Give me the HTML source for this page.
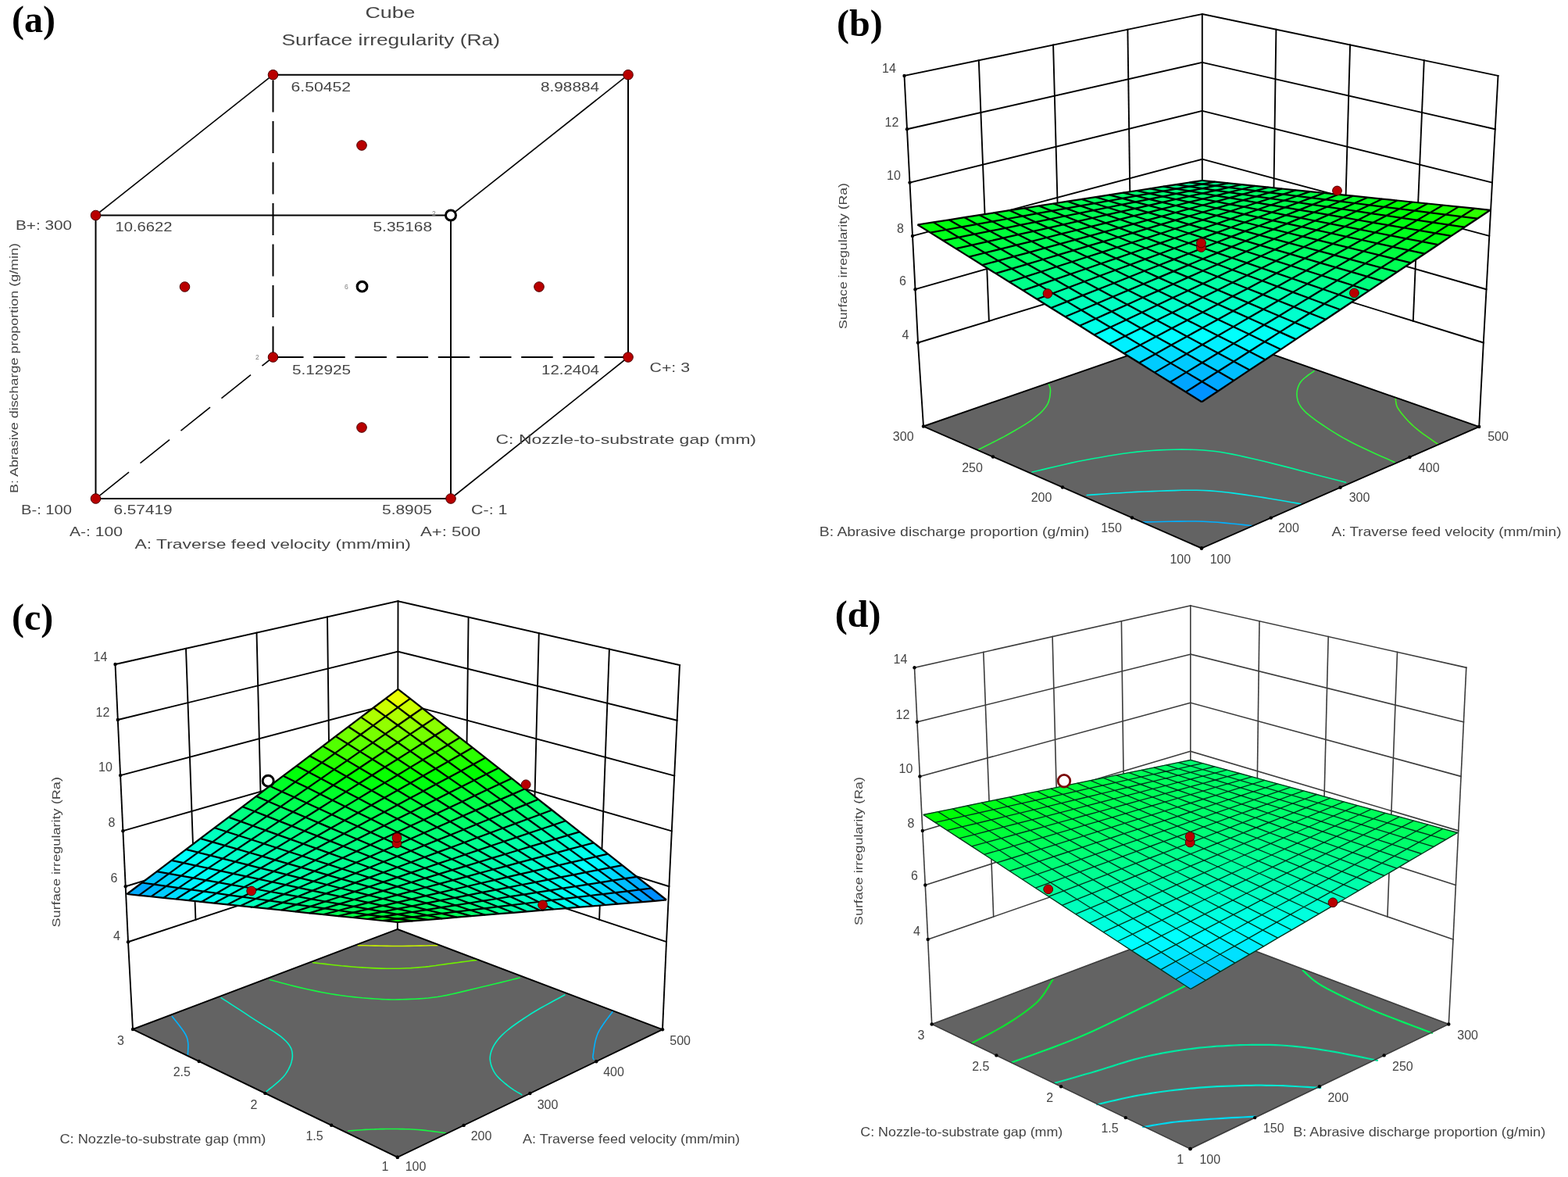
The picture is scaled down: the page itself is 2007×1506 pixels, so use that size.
<!DOCTYPE html>
<html lang="en"><head><meta charset="utf-8"><title>Surface irregularity (Ra) response plots</title>
<style>
html,body{margin:0;padding:0;background:#fff;}
body{width:2007px;height:1506px;overflow:hidden;}
svg{display:block;}
text{font-family:"Liberation Sans",sans-serif;}
text.s{font-family:"Liberation Serif",serif;font-weight:bold;}
</style></head><body>
<svg width="2007" height="1506" viewBox="0 0 2007 1506" role="img" aria-label="Cube plot and 3D response surfaces of surface irregularity (Ra)">
<rect width="2007" height="1506" fill="#fff"/>
<g id="pa">
<g stroke-linecap="butt">
<line x1="349.5" y1="102.5" x2="349.5" y2="457" stroke="#000" stroke-width="2" stroke-dasharray="41 11.5"/>
<line x1="348" y1="457" x2="804" y2="457" stroke="#000" stroke-width="2" stroke-dasharray="40.5 12.7"/>
<line x1="122.5" y1="638" x2="349.5" y2="457" stroke="#000" stroke-width="1.6" stroke-dasharray="48 18.5" stroke-dashoffset="-6.4"/>
<polygon points="122.5,275.5 577,275.5 577,638 122.5,638" fill="none" stroke="#000" stroke-width="2" />
<line x1="349.5" y1="95.7" x2="804" y2="95.7" stroke="#000" stroke-width="2" />
<line x1="804" y1="95.7" x2="804" y2="457" stroke="#000" stroke-width="2" />
<line x1="122.5" y1="275.5" x2="349.5" y2="95.7" stroke="#000" stroke-width="1.6" />
<line x1="577" y1="275.5" x2="804" y2="95.7" stroke="#000" stroke-width="1.6" />
<line x1="577" y1="638" x2="804" y2="457" stroke="#000" stroke-width="1.6" />
</g>
<circle cx="122.5" cy="275.5" r="6.3" fill="#b80000" stroke="#4a0000" stroke-width="1"/>
<circle cx="122.5" cy="638" r="6.3" fill="#b80000" stroke="#4a0000" stroke-width="1"/>
<circle cx="577" cy="638" r="6.3" fill="#b80000" stroke="#4a0000" stroke-width="1"/>
<circle cx="349.5" cy="95.7" r="6.3" fill="#b80000" stroke="#4a0000" stroke-width="1"/>
<circle cx="804" cy="95.7" r="6.3" fill="#b80000" stroke="#4a0000" stroke-width="1"/>
<circle cx="349.5" cy="457" r="6.3" fill="#b80000" stroke="#4a0000" stroke-width="1"/>
<circle cx="804" cy="457" r="6.3" fill="#b80000" stroke="#4a0000" stroke-width="1"/>
<circle cx="236.5" cy="367" r="6.3" fill="#b80000" stroke="#4a0000" stroke-width="1"/>
<circle cx="463" cy="186" r="6.3" fill="#b80000" stroke="#4a0000" stroke-width="1"/>
<circle cx="463" cy="547" r="6.3" fill="#b80000" stroke="#4a0000" stroke-width="1"/>
<circle cx="690" cy="367" r="6.3" fill="#b80000" stroke="#4a0000" stroke-width="1"/>
<circle cx="577" cy="275.5" r="6.5" fill="#fff" stroke="#000" stroke-width="3"/>
<circle cx="463.5" cy="366.7" r="6.3" fill="#fff" stroke="#000" stroke-width="3.2"/>
<text x="553" y="276" font-size="8.5" fill="#808080" >2</text>
<text x="441" y="369.5" font-size="8.5" fill="#808080" >6</text>
<text x="327" y="459.5" font-size="8.5" fill="#808080" >2</text>
<text x="467.5" y="22.5" font-size="20" fill="#454545" textLength="64" lengthAdjust="spacingAndGlyphs" >Cube</text>
<text x="360.5" y="58" font-size="20.5" fill="#454545" textLength="279.5" lengthAdjust="spacingAndGlyphs" >Surface irregularity (Ra)</text>
<text x="372.5" y="117" font-size="17" fill="#454545" textLength="76.5" lengthAdjust="spacingAndGlyphs" >6.50452</text>
<text x="692" y="117" font-size="17" fill="#454545" textLength="75" lengthAdjust="spacingAndGlyphs" >8.98884</text>
<text x="147.5" y="296.3" font-size="17" fill="#454545" textLength="73" lengthAdjust="spacingAndGlyphs" >10.6622</text>
<text x="477.5" y="296.3" font-size="17" fill="#454545" textLength="75.5" lengthAdjust="spacingAndGlyphs" >5.35168</text>
<text x="374" y="478.5" font-size="17" fill="#454545" textLength="75" lengthAdjust="spacingAndGlyphs" >5.12925</text>
<text x="693" y="478.5" font-size="17" fill="#454545" textLength="74" lengthAdjust="spacingAndGlyphs" >12.2404</text>
<text x="145.5" y="657.5" font-size="17" fill="#454545" textLength="75" lengthAdjust="spacingAndGlyphs" >6.57419</text>
<text x="489" y="657.5" font-size="17" fill="#454545" textLength="64" lengthAdjust="spacingAndGlyphs" >5.8905</text>
<text x="20" y="294" font-size="17" fill="#454545" textLength="72" lengthAdjust="spacingAndGlyphs" >B+: 300</text>
<text x="27" y="657.5" font-size="17" fill="#454545" textLength="65" lengthAdjust="spacingAndGlyphs" >B-: 100</text>
<text x="89" y="686" font-size="17" fill="#454545" textLength="68" lengthAdjust="spacingAndGlyphs" >A-: 100</text>
<text x="538" y="686" font-size="17" fill="#454545" textLength="77" lengthAdjust="spacingAndGlyphs" >A+: 500</text>
<text x="603" y="657.5" font-size="17" fill="#454545" textLength="46.5" lengthAdjust="spacingAndGlyphs" >C-: 1</text>
<text x="831.5" y="476" font-size="17" fill="#454545" textLength="51.5" lengthAdjust="spacingAndGlyphs" >C+: 3</text>
<text x="172.5" y="701.5" font-size="17" fill="#454545" textLength="353.5" lengthAdjust="spacingAndGlyphs" >A: Traverse feed velocity (mm/min)</text>
<text x="634.5" y="567.5" font-size="17" fill="#454545" textLength="333.5" lengthAdjust="spacingAndGlyphs" >C: Nozzle-to-substrate gap (mm)</text>
<text x="22.5" y="631" font-size="15.5" fill="#454545" textLength="320" lengthAdjust="spacingAndGlyphs" transform="rotate(-90 22.5 631)" >B: Abrasive discharge proportion (g/min)</text>
<text x="15" y="41" font-size="48" fill="#000" class="s" >(a)</text>
</g>
<g id="pb">
<polygon points="1182,545.5 1538.8,422 1893.2,546 1538,701.5" fill="#636363" stroke="none" stroke-width="0" />
<g fill="none" stroke-width="1.6" stroke-linecap="round">
<polyline points="1342.5,491.5 1342.7,492.2 1343,493 1343.4,494 1343.8,495.2 1344.1,496.4 1344.4,497.8 1344.5,499.4 1344.5,501 1344.3,502.8 1344.1,504.8 1343.9,507 1343.5,509.2 1342.9,511.6 1342.2,513.9 1341.2,516.3 1340,518.5 1338.5,520.7 1336.9,522.8 1335,525 1333,527.1 1330.7,529.3 1328.2,531.4 1325.5,533.7 1322.5,536 1319.2,538.4 1315.5,540.8 1311.6,543.3 1307.5,545.9 1303.2,548.4 1298.8,551 1294.4,553.5 1290,556 1285.3,558.6 1280.1,561.3 1274.7,564.1 1269.2,566.9 1264,569.5 1259.4,571.8 1255.4,573.8 1252.5,575.2" stroke="#2cf23a"/>
<polyline points="1682,474.8 1680.6,475.8 1678.7,477.1 1676.3,478.7 1673.8,480.5 1671.2,482.5 1668.8,484.5 1666.7,486.5 1665,488.5 1663.7,490.5 1662.6,492.6 1661.7,494.8 1661,497 1660.4,499.3 1660.1,501.5 1659.9,503.8 1660,506 1660.2,508.2 1660.6,510.3 1661.1,512.5 1661.9,514.6 1662.9,516.8 1664.1,518.9 1665.6,521.2 1667.5,523.5 1669.7,525.9 1672.2,528.3 1675,530.7 1678.1,533.2 1681.4,535.7 1685,538.3 1688.7,540.9 1692.5,543.5 1696.5,546.2 1700.6,548.9 1704.9,551.6 1709.4,554.4 1714.1,557.2 1719.1,560.1 1724.4,563 1730,566 1736.4,569.2 1743.8,572.8 1751.8,576.5 1759.8,580.2 1767.6,583.7 1774.7,586.8 1780.6,589.5 1785,591.5" stroke="#2cf23a"/>
<polyline points="1786.2,510.2 1786.4,511.2 1786.5,512.4 1786.7,513.8 1786.9,515.5 1787.2,517.3 1787.8,519.2 1788.7,521.3 1790,523.5 1791.7,525.9 1793.6,528.5 1795.9,531.3 1798.4,534.2 1801.1,537.2 1803.9,540.2 1806.9,543.1 1810,546 1813.5,548.9 1817.5,552.1 1821.8,555.3 1826.2,558.4 1830.5,561.4 1834.4,564.1 1837.6,566.3 1840,568" stroke="#40f020"/>
<polyline points="1321.2,604 1326.5,602.8 1333.5,601.1 1341.7,599.1 1350.9,597 1360.7,594.7 1370.8,592.4 1380.6,590.3 1390,588.5 1399.1,586.8 1408.3,585.2 1417.7,583.5 1427.1,582 1436.6,580.5 1446.1,579.3 1455.6,578.1 1465,577.2 1474.4,576.5 1484,575.9 1493.6,575.5 1503.1,575.2 1512.6,575.1 1522,575.2 1531.1,575.5 1540,576 1548.2,576.7 1555.7,577.5 1562.8,578.5 1569.8,579.7 1577.2,581.1 1585.3,582.8 1594.4,584.9 1605,587.2 1618,590.3 1633.4,594.1 1650.4,598.4 1667.8,603 1684.7,607.4 1700.2,611.4 1713.1,614.8 1722.5,617.2" stroke="#00f59a"/>
<polyline points="1391.2,633.5 1396.9,633.1 1404.5,632.6 1413.4,632 1423.4,631.3 1434,630.7 1444.7,630 1455.2,629.4 1465,629 1474.4,628.6 1484,628.2 1493.7,627.9 1503.4,627.6 1512.9,627.3 1522.3,627.2 1531.3,627.3 1540,627.5 1548.2,627.9 1555.9,628.5 1563.4,629.2 1570.6,630 1577.8,630.9 1585,631.9 1592.4,632.9 1600,634 1608.3,635.2 1617.4,636.6 1626.9,638.2 1636.2,639.8 1645.2,641.3 1653.2,642.7 1660,643.9 1665,644.8" stroke="#00eaea"/>
<polyline points="1462.5,668 1468.6,667.9 1476.7,667.7 1486.5,667.5 1497.3,667.3 1508.5,667.1 1519.8,667 1530.4,667 1540,667.2 1549.1,667.7 1558.4,668.3 1567.7,669.1 1576.7,670 1585.1,670.8 1592.6,671.6 1598.9,672.3 1603.8,672.8" stroke="#00b0ff"/>
</g>
<g stroke="#000" stroke-width="1.9" fill="none" stroke-linecap="square">
<path d="M1182 545.5L1538.8 422"/>
<path d="M1538.8 422L1893.2 546"/>
<path d="M1182 545.5L1538 701.5"/>
<path d="M1538 701.5L1893.2 546"/>
<path d="M1157.5 97L1175 438.5"/>
<path d="M1175 438.5L1182 545.5"/>
<path d="M1538.8 18L1538.8 422"/>
<path d="M1917.5 97L1898.8 438.5"/>
<path d="M1898.8 438.5L1893.2 546"/>
<path d="M1157.5 97L1538.8 18"/>
<path d="M1538.8 18L1917.5 97"/>
<path d="M1161 165.3L1538.8 79.9"/>
<path d="M1538.8 79.9L1913.8 165.3"/>
<path d="M1164.5 233.6L1538.8 141.8"/>
<path d="M1538.8 141.8L1910 233.6"/>
<path d="M1168 301.9L1538.8 203.7"/>
<path d="M1538.8 203.7L1906.2 301.9"/>
<path d="M1171.5 370.2L1538.8 265.6"/>
<path d="M1538.8 265.6L1902.5 370.2"/>
<path d="M1175 438.5L1538.8 327.5"/>
<path d="M1538.8 327.5L1898.8 438.5"/>
<path d="M1252.8 77.2L1265.9 410.8"/>
<path d="M1633.4 37.8L1628.8 355.2"/>
<path d="M1348.1 57.5L1356.9 383"/>
<path d="M1728.1 57.5L1718.8 383"/>
<path d="M1443.4 37.8L1447.8 355.2"/>
<path d="M1822.8 77.2L1808.8 410.8"/>
</g>
<circle cx="1182" cy="545.5" r="2.2" fill="#000" stroke="none" stroke-width="0"/>
<circle cx="1893.2" cy="546" r="2.2" fill="#000" stroke="none" stroke-width="0"/>
<circle cx="1271" cy="584.5" r="2.2" fill="#000" stroke="none" stroke-width="0"/>
<circle cx="1804.4" cy="584.9" r="2.2" fill="#000" stroke="none" stroke-width="0"/>
<circle cx="1360" cy="623.5" r="2.2" fill="#000" stroke="none" stroke-width="0"/>
<circle cx="1715.6" cy="623.8" r="2.2" fill="#000" stroke="none" stroke-width="0"/>
<circle cx="1449" cy="662.5" r="2.2" fill="#000" stroke="none" stroke-width="0"/>
<circle cx="1626.8" cy="662.6" r="2.2" fill="#000" stroke="none" stroke-width="0"/>
<circle cx="1538" cy="701.5" r="2.2" fill="#000" stroke="none" stroke-width="0"/>
<circle cx="1538" cy="701.5" r="2.2" fill="#000" stroke="none" stroke-width="0"/>
<circle cx="1157.5" cy="97" r="2.2" fill="#000" stroke="none" stroke-width="0"/>
<circle cx="1161" cy="165.3" r="2.2" fill="#000" stroke="none" stroke-width="0"/>
<circle cx="1164.5" cy="233.6" r="2.2" fill="#000" stroke="none" stroke-width="0"/>
<circle cx="1168" cy="301.9" r="2.2" fill="#000" stroke="none" stroke-width="0"/>
<circle cx="1171.5" cy="370.2" r="2.2" fill="#000" stroke="none" stroke-width="0"/>
<circle cx="1175" cy="438.5" r="2.2" fill="#000" stroke="none" stroke-width="0"/>
<line x1="1341" y1="375" x2="1341" y2="392" stroke="#000" stroke-width="1.5" />
<g stroke-width="0.6" stroke-linejoin="round">
<path d="M1538.9 235.6L1555.4 232.7L1538.8 231L1522.3 233.5Z" fill="#00ff96" stroke="#00ff96"/>
<path d="M1522.3 238.6L1538.9 235.6L1522.3 233.5L1505.7 236.1Z" fill="#00ff8e" stroke="#00ff8e"/>
<path d="M1555.7 237.7L1572.2 234.4L1555.4 232.7L1538.9 235.6Z" fill="#00ff8b" stroke="#00ff8b"/>
<path d="M1505.6 241.6L1522.3 238.6L1505.7 236.1L1489 238.7Z" fill="#00ff87" stroke="#00ff87"/>
<path d="M1539.1 241.1L1555.7 237.7L1538.9 235.6L1522.3 238.6Z" fill="#00ff85" stroke="#00ff85"/>
<path d="M1572.7 239.8L1589.1 236.2L1572.2 234.4L1555.7 237.7Z" fill="#00ff81" stroke="#00ff81"/>
<path d="M1488.6 244.6L1505.6 241.6L1489 238.7L1472 241.3Z" fill="#00ff7f" stroke="#00ff7f"/>
<path d="M1522.3 244.4L1539.1 241.1L1522.3 238.6L1505.6 241.6Z" fill="#00ff7f" stroke="#00ff7f"/>
<path d="M1556.1 243.6L1572.7 239.8L1555.7 237.7L1539.1 241.1Z" fill="#00ff7d" stroke="#00ff7d"/>
<path d="M1589.8 242L1606.3 237.9L1589.1 236.2L1572.7 239.8Z" fill="#00ff77" stroke="#00ff77"/>
<path d="M1471.5 247.6L1488.6 244.6L1472 241.3L1454.9 244Z" fill="#00ff78" stroke="#00ff78"/>
<path d="M1505.4 247.8L1522.3 244.4L1505.6 241.6L1488.6 244.6Z" fill="#00ff79" stroke="#00ff79"/>
<path d="M1539.3 247.3L1556.1 243.6L1539.1 241.1L1522.3 244.4Z" fill="#00ff78" stroke="#00ff78"/>
<path d="M1573.2 246.1L1589.8 242L1572.7 239.8L1556.1 243.6Z" fill="#00ff74" stroke="#00ff74"/>
<path d="M1607.2 244.2L1623.6 239.7L1606.3 237.9L1589.8 242Z" fill="#00ff6c" stroke="#00ff6c"/>
<path d="M1454.2 250.7L1471.5 247.6L1454.9 244L1437.6 246.7Z" fill="#00ff70" stroke="#00ff70"/>
<path d="M1488.2 251.3L1505.4 247.8L1488.6 244.6L1471.5 247.6Z" fill="#00ff73" stroke="#00ff73"/>
<path d="M1522.3 251.1L1539.3 247.3L1522.3 244.4L1505.4 247.8Z" fill="#00ff74" stroke="#00ff74"/>
<path d="M1556.4 250.3L1573.2 246.1L1556.1 243.6L1539.3 247.3Z" fill="#00ff71" stroke="#00ff71"/>
<path d="M1590.5 248.7L1607.2 244.2L1589.8 242L1573.2 246.1Z" fill="#00ff6b" stroke="#00ff6b"/>
<path d="M1624.7 246.3L1641.1 241.5L1623.6 239.7L1607.2 244.2Z" fill="#00ff62" stroke="#00ff62"/>
<path d="M1436.7 253.8L1454.2 250.7L1437.6 246.7L1420.1 249.4Z" fill="#00ff69" stroke="#00ff69"/>
<path d="M1470.9 254.8L1488.2 251.3L1471.5 247.6L1454.2 250.7Z" fill="#00ff6d" stroke="#00ff6d"/>
<path d="M1505.1 255L1522.3 251.1L1505.4 247.8L1488.2 251.3Z" fill="#00ff6f" stroke="#00ff6f"/>
<path d="M1539.4 254.5L1556.4 250.3L1539.3 247.3L1522.3 251.1Z" fill="#00ff6e" stroke="#00ff6e"/>
<path d="M1573.7 253.2L1590.5 248.7L1573.2 246.1L1556.4 250.3Z" fill="#00ff6a" stroke="#00ff6a"/>
<path d="M1608 251.3L1624.7 246.3L1607.2 244.2L1590.5 248.7Z" fill="#00ff62" stroke="#00ff62"/>
<path d="M1642.4 248.6L1658.8 243.3L1641.1 241.5L1624.7 246.3Z" fill="#00ff58" stroke="#00ff58"/>
<path d="M1419 257L1436.7 253.8L1420.1 249.4L1402.5 252.1Z" fill="#00ff61" stroke="#00ff61"/>
<path d="M1453.4 258.3L1470.9 254.8L1454.2 250.7L1436.7 253.8Z" fill="#00ff67" stroke="#00ff67"/>
<path d="M1487.8 258.9L1505.1 255L1488.2 251.3L1470.9 254.8Z" fill="#00ff6b" stroke="#00ff6b"/>
<path d="M1522.2 258.7L1539.4 254.5L1522.3 251.1L1505.1 255Z" fill="#00ff6b" stroke="#00ff6b"/>
<path d="M1556.7 257.9L1573.7 253.2L1556.4 250.3L1539.4 254.5Z" fill="#00ff68" stroke="#00ff68"/>
<path d="M1591.2 256.2L1608 251.3L1590.5 248.7L1573.7 253.2Z" fill="#00ff62" stroke="#00ff62"/>
<path d="M1625.7 253.9L1642.4 248.6L1624.7 246.3L1608 251.3Z" fill="#00ff5a" stroke="#00ff5a"/>
<path d="M1660.3 250.8L1676.7 245.1L1658.8 243.3L1642.4 248.6Z" fill="#00ff4e" stroke="#00ff4e"/>
<path d="M1401.1 260.2L1419 257L1402.5 252.1L1384.6 254.9Z" fill="#00ff5a" stroke="#00ff5a"/>
<path d="M1435.7 261.9L1453.4 258.3L1436.7 253.8L1419 257Z" fill="#00ff61" stroke="#00ff61"/>
<path d="M1470.3 262.8L1487.8 258.9L1470.9 254.8L1453.4 258.3Z" fill="#00ff66" stroke="#00ff66"/>
<path d="M1504.9 263L1522.2 258.7L1505.1 255L1487.8 258.9Z" fill="#00ff68" stroke="#00ff68"/>
<path d="M1539.5 262.5L1556.7 257.9L1539.4 254.5L1522.2 258.7Z" fill="#00ff67" stroke="#00ff67"/>
<path d="M1574.2 261.3L1591.2 256.2L1573.7 253.2L1556.7 257.9Z" fill="#00ff63" stroke="#00ff63"/>
<path d="M1608.9 259.3L1625.7 253.9L1608 251.3L1591.2 256.2Z" fill="#00ff5b" stroke="#00ff5b"/>
<path d="M1643.6 256.5L1660.3 250.8L1642.4 248.6L1625.7 253.9Z" fill="#00ff51" stroke="#00ff51"/>
<path d="M1678.3 253.1L1694.8 247L1676.7 245.1L1660.3 250.8Z" fill="#00ff43" stroke="#00ff43"/>
<path d="M1383 263.4L1401.1 260.2L1384.6 254.9L1366.5 257.7Z" fill="#00ff52" stroke="#00ff52"/>
<path d="M1417.8 265.5L1435.7 261.9L1419 257L1401.1 260.2Z" fill="#00ff5c" stroke="#00ff5c"/>
<path d="M1452.5 266.8L1470.3 262.8L1453.4 258.3L1435.7 261.9Z" fill="#00ff62" stroke="#00ff62"/>
<path d="M1487.3 267.4L1504.9 263L1487.8 258.9L1470.3 262.8Z" fill="#00ff65" stroke="#00ff65"/>
<path d="M1522.2 267.2L1539.5 262.5L1522.2 258.7L1504.9 263Z" fill="#00ff66" stroke="#00ff66"/>
<path d="M1557 266.4L1574.2 261.3L1556.7 257.9L1539.5 262.5Z" fill="#00ff63" stroke="#00ff63"/>
<path d="M1591.9 264.7L1608.9 259.3L1591.2 256.2L1574.2 261.3Z" fill="#00ff5d" stroke="#00ff5d"/>
<path d="M1626.8 262.3L1643.6 256.5L1625.7 253.9L1608.9 259.3Z" fill="#00ff54" stroke="#00ff54"/>
<path d="M1661.7 259.2L1678.3 253.1L1660.3 250.8L1643.6 256.5Z" fill="#00ff48" stroke="#00ff48"/>
<path d="M1696.6 255.3L1713.1 248.8L1694.8 247L1678.3 253.1Z" fill="#00ff39" stroke="#00ff39"/>
<path d="M1364.7 266.6L1383 263.4L1366.5 257.7L1348.3 260.5Z" fill="#00ff4b" stroke="#00ff4b"/>
<path d="M1399.7 269.1L1417.8 265.5L1401.1 260.2L1383 263.4Z" fill="#00ff56" stroke="#00ff56"/>
<path d="M1434.6 270.8L1452.5 266.8L1435.7 261.9L1417.8 265.5Z" fill="#00ff5d" stroke="#00ff5d"/>
<path d="M1469.6 271.8L1487.3 267.4L1470.3 262.8L1452.5 266.8Z" fill="#00ff62" stroke="#00ff62"/>
<path d="M1504.6 272L1522.2 267.2L1504.9 263L1487.3 267.4Z" fill="#00ff64" stroke="#00ff64"/>
<path d="M1539.6 271.5L1557 266.4L1539.5 262.5L1522.2 267.2Z" fill="#00ff63" stroke="#00ff63"/>
<path d="M1574.7 270.2L1591.9 264.7L1574.2 261.3L1557 266.4Z" fill="#00ff5f" stroke="#00ff5f"/>
<path d="M1609.7 268.2L1626.8 262.3L1608.9 259.3L1591.9 264.7Z" fill="#00ff57" stroke="#00ff57"/>
<path d="M1644.8 265.4L1661.7 259.2L1643.6 256.5L1626.8 262.3Z" fill="#00ff4d" stroke="#00ff4d"/>
<path d="M1680 261.9L1696.6 255.3L1678.3 253.1L1661.7 259.2Z" fill="#00ff3f" stroke="#00ff3f"/>
<path d="M1715.1 257.7L1731.6 250.7L1713.1 248.8L1696.6 255.3Z" fill="#00ff2f" stroke="#00ff2f"/>
<path d="M1346.2 269.9L1364.7 266.6L1348.3 260.5L1329.8 263.4Z" fill="#00ff43" stroke="#00ff43"/>
<path d="M1381.4 272.8L1399.7 269.1L1383 263.4L1364.7 266.6Z" fill="#00ff50" stroke="#00ff50"/>
<path d="M1416.5 274.9L1434.6 270.8L1417.8 265.5L1399.7 269.1Z" fill="#00ff59" stroke="#00ff59"/>
<path d="M1451.6 276.2L1469.6 271.8L1452.5 266.8L1434.6 270.8Z" fill="#00ff5f" stroke="#00ff5f"/>
<path d="M1486.8 276.8L1504.6 272L1487.3 267.4L1469.6 271.8Z" fill="#00ff63" stroke="#00ff63"/>
<path d="M1522 276.7L1539.6 271.5L1522.2 267.2L1504.6 272Z" fill="#00ff63" stroke="#00ff63"/>
<path d="M1557.3 275.8L1574.7 270.2L1557 266.4L1539.6 271.5Z" fill="#00ff60" stroke="#00ff60"/>
<path d="M1592.5 274.1L1609.7 268.2L1591.9 264.7L1574.7 270.2Z" fill="#00ff5a" stroke="#00ff5a"/>
<path d="M1627.8 271.7L1644.8 265.4L1626.8 262.3L1609.7 268.2Z" fill="#00ff51" stroke="#00ff51"/>
<path d="M1663.1 268.6L1680 261.9L1661.7 259.2L1644.8 265.4Z" fill="#00ff46" stroke="#00ff46"/>
<path d="M1698.4 264.7L1715.1 257.7L1696.6 255.3L1680 261.9Z" fill="#00ff36" stroke="#00ff36"/>
<path d="M1733.8 260L1750.3 252.7L1731.6 250.7L1715.1 257.7Z" fill="#00ff24" stroke="#00ff24"/>
<path d="M1327.6 273.2L1346.2 269.9L1329.8 263.4L1311.2 266.3Z" fill="#00ff3c" stroke="#00ff3c"/>
<path d="M1362.8 276.5L1381.4 272.8L1364.7 266.6L1346.2 269.9Z" fill="#00ff4a" stroke="#00ff4a"/>
<path d="M1398.2 279L1416.5 274.9L1399.7 269.1L1381.4 272.8Z" fill="#00ff55" stroke="#00ff55"/>
<path d="M1433.5 280.7L1451.6 276.2L1434.6 270.8L1416.5 274.9Z" fill="#00ff5c" stroke="#00ff5c"/>
<path d="M1468.9 281.7L1486.8 276.8L1469.6 271.8L1451.6 276.2Z" fill="#00ff61" stroke="#00ff61"/>
<path d="M1504.3 281.9L1522 276.7L1504.6 272L1486.8 276.8Z" fill="#00ff63" stroke="#00ff63"/>
<path d="M1539.7 281.4L1557.3 275.8L1539.6 271.5L1522 276.7Z" fill="#00ff62" stroke="#00ff62"/>
<path d="M1575.1 280.1L1592.5 274.1L1574.7 270.2L1557.3 275.8Z" fill="#00ff5e" stroke="#00ff5e"/>
<path d="M1610.6 278.1L1627.8 271.7L1609.7 268.2L1592.5 274.1Z" fill="#00ff56" stroke="#00ff56"/>
<path d="M1646.1 275.3L1663.1 268.6L1644.8 265.4L1627.8 271.7Z" fill="#00ff4c" stroke="#00ff4c"/>
<path d="M1681.6 271.7L1698.4 264.7L1680 261.9L1663.1 268.6Z" fill="#00ff3e" stroke="#00ff3e"/>
<path d="M1717.1 267.4L1733.8 260L1715.1 257.7L1698.4 264.7Z" fill="#00ff2e" stroke="#00ff2e"/>
<path d="M1752.7 262.4L1769.2 254.6L1750.3 252.7L1733.8 260Z" fill="#00ff1a" stroke="#00ff1a"/>
<path d="M1308.7 276.6L1327.6 273.2L1311.2 266.3L1292.3 269.2Z" fill="#00ff34" stroke="#00ff34"/>
<path d="M1344.1 280.3L1362.8 276.5L1346.2 269.9L1327.6 273.2Z" fill="#00ff44" stroke="#00ff44"/>
<path d="M1379.6 283.1L1398.2 279L1381.4 272.8L1362.8 276.5Z" fill="#00ff50" stroke="#00ff50"/>
<path d="M1415.2 285.3L1433.5 280.7L1416.5 274.9L1398.2 279Z" fill="#00ff5a" stroke="#00ff5a"/>
<path d="M1450.7 286.6L1468.9 281.7L1451.6 276.2L1433.5 280.7Z" fill="#00ff60" stroke="#00ff60"/>
<path d="M1486.3 287.2L1504.3 281.9L1486.8 276.8L1468.9 281.7Z" fill="#00ff63" stroke="#00ff63"/>
<path d="M1521.9 287.1L1539.7 281.4L1522 276.7L1504.3 281.9Z" fill="#00ff64" stroke="#00ff64"/>
<path d="M1557.5 286.2L1575.1 280.1L1557.3 275.8L1539.7 281.4Z" fill="#00ff61" stroke="#00ff61"/>
<path d="M1593.2 284.5L1610.6 278.1L1592.5 274.1L1575.1 280.1Z" fill="#00ff5b" stroke="#00ff5b"/>
<path d="M1628.9 282.1L1646.1 275.3L1627.8 271.7L1610.6 278.1Z" fill="#00ff52" stroke="#00ff52"/>
<path d="M1664.6 278.9L1681.6 271.7L1663.1 268.6L1646.1 275.3Z" fill="#00ff46" stroke="#00ff46"/>
<path d="M1700.3 274.9L1717.1 267.4L1698.4 264.7L1681.6 271.7Z" fill="#00ff37" stroke="#00ff37"/>
<path d="M1736 270.2L1752.7 262.4L1733.8 260L1717.1 267.4Z" fill="#00ff25" stroke="#00ff25"/>
<path d="M1771.8 264.8L1788.3 256.5L1769.2 254.6L1752.7 262.4Z" fill="#00ff10" stroke="#00ff10"/>
<path d="M1289.5 280L1308.7 276.6L1292.3 269.2L1273.2 272.2Z" fill="#00ff2c" stroke="#00ff2c"/>
<path d="M1325.2 284.1L1344.1 280.3L1327.6 273.2L1308.7 276.6Z" fill="#00ff3e" stroke="#00ff3e"/>
<path d="M1360.9 287.3L1379.6 283.1L1362.8 276.5L1344.1 280.3Z" fill="#00ff4c" stroke="#00ff4c"/>
<path d="M1396.6 289.9L1415.2 285.3L1398.2 279L1379.6 283.1Z" fill="#00ff57" stroke="#00ff57"/>
<path d="M1432.4 291.6L1450.7 286.6L1433.5 280.7L1415.2 285.3Z" fill="#00ff5f" stroke="#00ff5f"/>
<path d="M1468.1 292.6L1486.3 287.2L1468.9 281.7L1450.7 286.6Z" fill="#00ff63" stroke="#00ff63"/>
<path d="M1503.9 292.8L1521.9 287.1L1504.3 281.9L1486.3 287.2Z" fill="#00ff65" stroke="#00ff65"/>
<path d="M1539.7 292.3L1557.5 286.2L1539.7 281.4L1521.9 287.1Z" fill="#00ff64" stroke="#00ff64"/>
<path d="M1575.6 291L1593.2 284.5L1575.1 280.1L1557.5 286.2Z" fill="#00ff60" stroke="#00ff60"/>
<path d="M1611.4 289L1628.9 282.1L1610.6 278.1L1593.2 284.5Z" fill="#00ff58" stroke="#00ff58"/>
<path d="M1647.3 286.1L1664.6 278.9L1646.1 275.3L1628.9 282.1Z" fill="#00ff4e" stroke="#00ff4e"/>
<path d="M1683.2 282.5L1700.3 274.9L1681.6 271.7L1664.6 278.9Z" fill="#00ff40" stroke="#00ff40"/>
<path d="M1719.2 278.2L1736 270.2L1717.1 267.4L1700.3 274.9Z" fill="#00ff30" stroke="#00ff30"/>
<path d="M1755.1 273.1L1771.8 264.8L1752.7 262.4L1736 270.2Z" fill="#00ff1c" stroke="#00ff1c"/>
<path d="M1791.1 267.2L1807.6 258.5L1788.3 256.5L1771.8 264.8Z" fill="#00ff06" stroke="#00ff06"/>
<path d="M1270.2 283.4L1289.5 280L1273.2 272.2L1253.9 275.2Z" fill="#00ff25" stroke="#00ff25"/>
<path d="M1306.1 287.9L1325.2 284.1L1308.7 276.6L1289.5 280Z" fill="#00ff38" stroke="#00ff38"/>
<path d="M1342 291.6L1360.9 287.3L1344.1 280.3L1325.2 284.1Z" fill="#00ff47" stroke="#00ff47"/>
<path d="M1377.9 294.5L1396.6 289.9L1379.6 283.1L1360.9 287.3Z" fill="#00ff54" stroke="#00ff54"/>
<path d="M1413.8 296.7L1432.4 291.6L1415.2 285.3L1396.6 289.9Z" fill="#00ff5d" stroke="#00ff5d"/>
<path d="M1449.8 298.1L1468.1 292.6L1450.7 286.6L1432.4 291.6Z" fill="#00ff64" stroke="#00ff64"/>
<path d="M1485.7 298.7L1503.9 292.8L1486.3 287.2L1468.1 292.6Z" fill="#00ff67" stroke="#00ff67"/>
<path d="M1521.7 298.5L1539.7 292.3L1521.9 287.1L1503.9 292.8Z" fill="#00ff67" stroke="#00ff67"/>
<path d="M1557.8 297.6L1575.6 291L1557.5 286.2L1539.7 292.3Z" fill="#00ff64" stroke="#00ff64"/>
<path d="M1593.8 295.9L1611.4 289L1593.2 284.5L1575.6 291Z" fill="#00ff5f" stroke="#00ff5f"/>
<path d="M1629.9 293.4L1647.3 286.1L1628.9 282.1L1611.4 289Z" fill="#00ff56" stroke="#00ff56"/>
<path d="M1666 290.2L1683.2 282.5L1664.6 278.9L1647.3 286.1Z" fill="#00ff4a" stroke="#00ff4a"/>
<path d="M1702.1 286.2L1719.2 278.2L1700.3 274.9L1683.2 282.5Z" fill="#00ff3b" stroke="#00ff3b"/>
<path d="M1738.3 281.5L1755.1 273.1L1736 270.2L1719.2 278.2Z" fill="#00ff29" stroke="#00ff29"/>
<path d="M1774.4 275.9L1791.1 267.2L1771.8 264.8L1755.1 273.1Z" fill="#00ff13" stroke="#00ff13"/>
<path d="M1810.6 269.6L1827.1 260.5L1807.6 258.5L1791.1 267.2Z" fill="#05ff00" stroke="#05ff00"/>
<path d="M1250.7 286.9L1270.2 283.4L1253.9 275.2L1234.4 278.2Z" fill="#00ff1d" stroke="#00ff1d"/>
<path d="M1286.7 291.8L1306.1 287.9L1289.5 280L1270.2 283.4Z" fill="#00ff32" stroke="#00ff32"/>
<path d="M1322.8 295.9L1342 291.6L1325.2 284.1L1306.1 287.9Z" fill="#00ff43" stroke="#00ff43"/>
<path d="M1358.9 299.2L1377.9 294.5L1360.9 287.3L1342 291.6Z" fill="#00ff51" stroke="#00ff51"/>
<path d="M1395 301.8L1413.8 296.7L1396.6 289.9L1377.9 294.5Z" fill="#00ff5c" stroke="#00ff5c"/>
<path d="M1431.2 303.5L1449.8 298.1L1432.4 291.6L1413.8 296.7Z" fill="#00ff64" stroke="#00ff64"/>
<path d="M1467.3 304.6L1485.7 298.7L1468.1 292.6L1449.8 298.1Z" fill="#00ff69" stroke="#00ff69"/>
<path d="M1503.5 304.8L1521.7 298.5L1503.9 292.8L1485.7 298.7Z" fill="#00ff6a" stroke="#00ff6a"/>
<path d="M1539.8 304.2L1557.8 297.6L1539.7 292.3L1521.7 298.5Z" fill="#00ff69" stroke="#00ff69"/>
<path d="M1576 302.9L1593.8 295.9L1575.6 291L1557.8 297.6Z" fill="#00ff65" stroke="#00ff65"/>
<path d="M1612.3 300.8L1629.9 293.4L1611.4 289L1593.8 295.9Z" fill="#00ff5d" stroke="#00ff5d"/>
<path d="M1648.6 298L1666 290.2L1647.3 286.1L1629.9 293.4Z" fill="#00ff53" stroke="#00ff53"/>
<path d="M1684.9 294.4L1702.1 286.2L1683.2 282.5L1666 290.2Z" fill="#00ff46" stroke="#00ff46"/>
<path d="M1721.2 289.9L1738.3 281.5L1719.2 278.2L1702.1 286.2Z" fill="#00ff35" stroke="#00ff35"/>
<path d="M1757.6 284.8L1774.4 275.9L1755.1 273.1L1738.3 281.5Z" fill="#00ff21" stroke="#00ff21"/>
<path d="M1794 278.8L1810.6 269.6L1791.1 267.2L1774.4 275.9Z" fill="#00ff0b" stroke="#00ff0b"/>
<path d="M1830.4 272.1L1846.9 262.5L1827.1 260.5L1810.6 269.6Z" fill="#0fff00" stroke="#0fff00"/>
<path d="M1230.9 290.4L1250.7 286.9L1234.4 278.2L1214.7 281.3Z" fill="#00ff16" stroke="#00ff16"/>
<path d="M1267.2 295.7L1286.7 291.8L1270.2 283.4L1250.7 286.9Z" fill="#00ff2c" stroke="#00ff2c"/>
<path d="M1303.4 300.2L1322.8 295.9L1306.1 287.9L1286.7 291.8Z" fill="#00ff3e" stroke="#00ff3e"/>
<path d="M1339.7 304L1358.9 299.2L1342 291.6L1322.8 295.9Z" fill="#00ff4e" stroke="#00ff4e"/>
<path d="M1376 306.9L1395 301.8L1377.9 294.5L1358.9 299.2Z" fill="#00ff5a" stroke="#00ff5a"/>
<path d="M1412.4 309.1L1431.2 303.5L1413.8 296.7L1395 301.8Z" fill="#00ff64" stroke="#00ff64"/>
<path d="M1448.7 310.5L1467.3 304.6L1449.8 298.1L1431.2 303.5Z" fill="#00ff6a" stroke="#00ff6a"/>
<path d="M1485.1 311.1L1503.5 304.8L1485.7 298.7L1467.3 304.6Z" fill="#00ff6e" stroke="#00ff6e"/>
<path d="M1521.5 311L1539.8 304.2L1521.7 298.5L1503.5 304.8Z" fill="#00ff6e" stroke="#00ff6e"/>
<path d="M1558 310L1576 302.9L1557.8 297.6L1539.8 304.2Z" fill="#00ff6b" stroke="#00ff6b"/>
<path d="M1594.5 308.3L1612.3 300.8L1593.8 295.9L1576 302.9Z" fill="#00ff65" stroke="#00ff65"/>
<path d="M1630.9 305.8L1648.6 298L1629.9 293.4L1612.3 300.8Z" fill="#00ff5c" stroke="#00ff5c"/>
<path d="M1667.5 302.6L1684.9 294.4L1666 290.2L1648.6 298Z" fill="#00ff50" stroke="#00ff50"/>
<path d="M1704 298.5L1721.2 289.9L1702.1 286.2L1684.9 294.4Z" fill="#00ff41" stroke="#00ff41"/>
<path d="M1740.6 293.7L1757.6 284.8L1738.3 281.5L1721.2 289.9Z" fill="#00ff2f" stroke="#00ff2f"/>
<path d="M1777.1 288.1L1794 278.8L1774.4 275.9L1757.6 284.8Z" fill="#00ff1a" stroke="#00ff1a"/>
<path d="M1813.8 281.7L1830.4 272.1L1810.6 269.6L1794 278.8Z" fill="#00ff02" stroke="#00ff02"/>
<path d="M1850.4 274.6L1866.9 264.6L1846.9 262.5L1830.4 272.1Z" fill="#19ff00" stroke="#19ff00"/>
<path d="M1210.9 294L1230.9 290.4L1214.7 281.3L1194.7 284.4Z" fill="#00ff0e" stroke="#00ff0e"/>
<path d="M1247.4 299.7L1267.2 295.7L1250.7 286.9L1230.9 290.4Z" fill="#00ff26" stroke="#00ff26"/>
<path d="M1283.8 304.6L1303.4 300.2L1286.7 291.8L1267.2 295.7Z" fill="#00ff3a" stroke="#00ff3a"/>
<path d="M1320.3 308.8L1339.7 304L1322.8 295.9L1303.4 300.2Z" fill="#00ff4b" stroke="#00ff4b"/>
<path d="M1356.8 312.1L1376 306.9L1358.9 299.2L1339.7 304Z" fill="#00ff59" stroke="#00ff59"/>
<path d="M1393.4 314.7L1412.4 309.1L1395 301.8L1376 306.9Z" fill="#00ff64" stroke="#00ff64"/>
<path d="M1429.9 316.5L1448.7 310.5L1431.2 303.5L1412.4 309.1Z" fill="#00ff6c" stroke="#00ff6c"/>
<path d="M1466.5 317.5L1485.1 311.1L1467.3 304.6L1448.7 310.5Z" fill="#00ff71" stroke="#00ff71"/>
<path d="M1503.1 317.8L1521.5 311L1503.5 304.8L1485.1 311.1Z" fill="#00ff73" stroke="#00ff73"/>
<path d="M1539.8 317.2L1558 310L1539.8 304.2L1521.5 311Z" fill="#00ff71" stroke="#00ff71"/>
<path d="M1576.4 315.9L1594.5 308.3L1576 302.9L1558 310Z" fill="#00ff6d" stroke="#00ff6d"/>
<path d="M1613.1 313.8L1630.9 305.8L1612.3 300.8L1594.5 308.3Z" fill="#00ff66" stroke="#00ff66"/>
<path d="M1649.8 310.9L1667.5 302.6L1648.6 298L1630.9 305.8Z" fill="#00ff5b" stroke="#00ff5b"/>
<path d="M1686.6 307.2L1704 298.5L1684.9 294.4L1667.5 302.6Z" fill="#00ff4e" stroke="#00ff4e"/>
<path d="M1723.3 302.8L1740.6 293.7L1721.2 289.9L1704 298.5Z" fill="#00ff3d" stroke="#00ff3d"/>
<path d="M1760.1 297.5L1777.1 288.1L1757.6 284.8L1740.6 293.7Z" fill="#00ff2a" stroke="#00ff2a"/>
<path d="M1796.9 291.5L1813.8 281.7L1794 278.8L1777.1 288.1Z" fill="#00ff13" stroke="#00ff13"/>
<path d="M1833.8 284.7L1850.4 274.6L1830.4 272.1L1813.8 281.7Z" fill="#07ff00" stroke="#07ff00"/>
<path d="M1870.6 277.1L1887.1 266.7L1866.9 264.6L1850.4 274.6Z" fill="#24ff00" stroke="#24ff00"/>
<path d="M1190.7 297.6L1210.9 294L1194.7 284.4L1174.5 287.5Z" fill="#00ff07" stroke="#00ff07"/>
<path d="M1227.3 303.7L1247.4 299.7L1230.9 290.4L1210.9 294Z" fill="#00ff20" stroke="#00ff20"/>
<path d="M1264 309.1L1283.8 304.6L1267.2 295.7L1247.4 299.7Z" fill="#00ff35" stroke="#00ff35"/>
<path d="M1300.7 313.6L1320.3 308.8L1303.4 300.2L1283.8 304.6Z" fill="#00ff48" stroke="#00ff48"/>
<path d="M1337.4 317.4L1356.8 312.1L1339.7 304L1320.3 308.8Z" fill="#00ff58" stroke="#00ff58"/>
<path d="M1374.1 320.4L1393.4 314.7L1376 306.9L1356.8 312.1Z" fill="#00ff64" stroke="#00ff64"/>
<path d="M1410.9 322.6L1429.9 316.5L1412.4 309.1L1393.4 314.7Z" fill="#00ff6e" stroke="#00ff6e"/>
<path d="M1447.7 324L1466.5 317.5L1448.7 310.5L1429.9 316.5Z" fill="#00ff74" stroke="#00ff74"/>
<path d="M1484.5 324.7L1503.1 317.8L1485.1 311.1L1466.5 317.5Z" fill="#00ff77" stroke="#00ff77"/>
<path d="M1521.3 324.5L1539.8 317.2L1521.5 311L1503.1 317.8Z" fill="#00ff78" stroke="#00ff78"/>
<path d="M1558.2 323.6L1576.4 315.9L1558 310L1539.8 317.2Z" fill="#00ff75" stroke="#00ff75"/>
<path d="M1595.1 321.8L1613.1 313.8L1594.5 308.3L1576.4 315.9Z" fill="#00ff6f" stroke="#00ff6f"/>
<path d="M1632 319.3L1649.8 310.9L1630.9 305.8L1613.1 313.8Z" fill="#00ff66" stroke="#00ff66"/>
<path d="M1668.9 316L1686.6 307.2L1667.5 302.6L1649.8 310.9Z" fill="#00ff5a" stroke="#00ff5a"/>
<path d="M1705.9 311.9L1723.3 302.8L1704 298.5L1686.6 307.2Z" fill="#00ff4b" stroke="#00ff4b"/>
<path d="M1742.9 307L1760.1 297.5L1740.6 293.7L1723.3 302.8Z" fill="#00ff39" stroke="#00ff39"/>
<path d="M1779.9 301.4L1796.9 291.5L1777.1 288.1L1760.1 297.5Z" fill="#00ff24" stroke="#00ff24"/>
<path d="M1816.9 294.9L1833.8 284.7L1813.8 281.7L1796.9 291.5Z" fill="#00ff0c" stroke="#00ff0c"/>
<path d="M1854 287.7L1870.6 277.1L1850.4 274.6L1833.8 284.7Z" fill="#10ff00" stroke="#10ff00"/>
<path d="M1891.1 279.7L1907.5 268.8L1887.1 266.7L1870.6 277.1Z" fill="#2eff00" stroke="#2eff00"/>
<path d="M1207.1 307.8L1227.3 303.7L1210.9 294L1190.7 297.6Z" fill="#00ff1a" stroke="#00ff1a"/>
<path d="M1243.9 313.6L1264 309.1L1247.4 299.7L1227.3 303.7Z" fill="#00ff31" stroke="#00ff31"/>
<path d="M1280.8 318.6L1300.7 313.6L1283.8 304.6L1264 309.1Z" fill="#00ff45" stroke="#00ff45"/>
<path d="M1317.7 322.8L1337.4 317.4L1320.3 308.8L1300.7 313.6Z" fill="#00ff56" stroke="#00ff56"/>
<path d="M1354.7 326.2L1374.1 320.4L1356.8 312.1L1337.4 317.4Z" fill="#00ff64" stroke="#00ff64"/>
<path d="M1391.6 328.8L1410.9 322.6L1393.4 314.7L1374.1 320.4Z" fill="#00ff6f" stroke="#00ff6f"/>
<path d="M1428.6 330.6L1447.7 324L1429.9 316.5L1410.9 322.6Z" fill="#00ff77" stroke="#00ff77"/>
<path d="M1465.6 331.6L1484.5 324.7L1466.5 317.5L1447.7 324Z" fill="#00ff7c" stroke="#00ff7c"/>
<path d="M1502.7 331.9L1521.3 324.5L1503.1 317.8L1484.5 324.7Z" fill="#00ff7e" stroke="#00ff7e"/>
<path d="M1539.7 331.3L1558.2 323.6L1539.8 317.2L1521.3 324.5Z" fill="#00ff7d" stroke="#00ff7d"/>
<path d="M1576.8 330L1595.1 321.8L1576.4 315.9L1558.2 323.6Z" fill="#00ff78" stroke="#00ff78"/>
<path d="M1613.9 327.8L1632 319.3L1613.1 313.8L1595.1 321.8Z" fill="#00ff71" stroke="#00ff71"/>
<path d="M1651.1 324.9L1668.9 316L1649.8 310.9L1632 319.3Z" fill="#00ff66" stroke="#00ff66"/>
<path d="M1688.2 321.2L1705.9 311.9L1686.6 307.2L1668.9 316Z" fill="#00ff59" stroke="#00ff59"/>
<path d="M1725.4 316.7L1742.9 307L1723.3 302.8L1705.9 311.9Z" fill="#00ff48" stroke="#00ff48"/>
<path d="M1762.7 311.4L1779.9 301.4L1760.1 297.5L1742.9 307Z" fill="#00ff35" stroke="#00ff35"/>
<path d="M1799.9 305.3L1816.9 294.9L1796.9 291.5L1779.9 301.4Z" fill="#00ff1e" stroke="#00ff1e"/>
<path d="M1837.2 298.4L1854 287.7L1833.8 284.7L1816.9 294.9Z" fill="#00ff04" stroke="#00ff04"/>
<path d="M1874.4 290.7L1891.1 279.7L1870.6 277.1L1854 287.7Z" fill="#18ff00" stroke="#18ff00"/>
<path d="M1223.6 318.1L1243.9 313.6L1227.3 303.7L1207.1 307.8Z" fill="#00ff2c" stroke="#00ff2c"/>
<path d="M1260.7 323.5L1280.8 318.6L1264 309.1L1243.9 313.6Z" fill="#00ff42" stroke="#00ff42"/>
<path d="M1297.8 328.2L1317.7 322.8L1300.7 313.6L1280.8 318.6Z" fill="#00ff55" stroke="#00ff55"/>
<path d="M1335 332L1354.7 326.2L1337.4 317.4L1317.7 322.8Z" fill="#00ff64" stroke="#00ff64"/>
<path d="M1372.2 335L1391.6 328.8L1374.1 320.4L1354.7 326.2Z" fill="#00ff71" stroke="#00ff71"/>
<path d="M1409.3 337.2L1428.6 330.6L1410.9 322.6L1391.6 328.8Z" fill="#00ff7a" stroke="#00ff7a"/>
<path d="M1446.6 338.7L1465.6 331.6L1447.7 324L1428.6 330.6Z" fill="#00ff81" stroke="#00ff81"/>
<path d="M1483.8 339.3L1502.7 331.9L1484.5 324.7L1465.6 331.6Z" fill="#00ff84" stroke="#00ff84"/>
<path d="M1521.1 339.1L1539.7 331.3L1521.3 324.5L1502.7 331.9Z" fill="#00ff84" stroke="#00ff84"/>
<path d="M1558.4 338.2L1576.8 330L1558.2 323.6L1539.7 331.3Z" fill="#00ff82" stroke="#00ff82"/>
<path d="M1595.7 336.4L1613.9 327.8L1595.1 321.8L1576.8 330Z" fill="#00ff7c" stroke="#00ff7c"/>
<path d="M1633 333.9L1651.1 324.9L1632 319.3L1613.9 327.8Z" fill="#00ff73" stroke="#00ff73"/>
<path d="M1670.4 330.6L1688.2 321.2L1668.9 316L1651.1 324.9Z" fill="#00ff67" stroke="#00ff67"/>
<path d="M1707.8 326.4L1725.4 316.7L1705.9 311.9L1688.2 321.2Z" fill="#00ff58" stroke="#00ff58"/>
<path d="M1745.2 321.5L1762.7 311.4L1742.9 307L1725.4 316.7Z" fill="#00ff46" stroke="#00ff46"/>
<path d="M1782.7 315.8L1799.9 305.3L1779.9 301.4L1762.7 311.4Z" fill="#00ff31" stroke="#00ff31"/>
<path d="M1820.1 309.2L1837.2 298.4L1816.9 294.9L1799.9 305.3Z" fill="#00ff18" stroke="#00ff18"/>
<path d="M1857.6 301.9L1874.4 290.7L1854 287.7L1837.2 298.4Z" fill="#03ff00" stroke="#03ff00"/>
<path d="M1240.4 328.6L1260.7 323.5L1243.9 313.6L1223.6 318.1Z" fill="#00ff3f" stroke="#00ff3f"/>
<path d="M1277.7 333.6L1297.8 328.2L1280.8 318.6L1260.7 323.5Z" fill="#00ff53" stroke="#00ff53"/>
<path d="M1315.1 337.9L1335 332L1317.7 322.8L1297.8 328.2Z" fill="#00ff65" stroke="#00ff65"/>
<path d="M1352.4 341.3L1372.2 335L1354.7 326.2L1335 332Z" fill="#00ff73" stroke="#00ff73"/>
<path d="M1389.8 344L1409.3 337.2L1391.6 328.8L1372.2 335Z" fill="#00ff7e" stroke="#00ff7e"/>
<path d="M1427.3 345.8L1446.6 338.7L1428.6 330.6L1409.3 337.2Z" fill="#00ff85" stroke="#00ff85"/>
<path d="M1464.7 346.8L1483.8 339.3L1465.6 331.6L1446.6 338.7Z" fill="#00ff8a" stroke="#00ff8a"/>
<path d="M1502.2 347.1L1521.1 339.1L1502.7 331.9L1483.8 339.3Z" fill="#00ff8c" stroke="#00ff8c"/>
<path d="M1539.7 346.5L1558.4 338.2L1539.7 331.3L1521.1 339.1Z" fill="#00ff8b" stroke="#00ff8b"/>
<path d="M1577.2 345.2L1595.7 336.4L1576.8 330L1558.4 338.2Z" fill="#00ff87" stroke="#00ff87"/>
<path d="M1614.8 343L1633 333.9L1613.9 327.8L1595.7 336.4Z" fill="#00ff7f" stroke="#00ff7f"/>
<path d="M1652.3 340L1670.4 330.6L1651.1 324.9L1633 333.9Z" fill="#00ff75" stroke="#00ff75"/>
<path d="M1689.9 336.3L1707.8 326.4L1688.2 321.2L1670.4 330.6Z" fill="#00ff67" stroke="#00ff67"/>
<path d="M1727.6 331.7L1745.2 321.5L1725.4 316.7L1707.8 326.4Z" fill="#00ff57" stroke="#00ff57"/>
<path d="M1765.2 326.4L1782.7 315.8L1762.7 311.4L1745.2 321.5Z" fill="#00ff43" stroke="#00ff43"/>
<path d="M1802.9 320.2L1820.1 309.2L1799.9 305.3L1782.7 315.8Z" fill="#00ff2c" stroke="#00ff2c"/>
<path d="M1840.6 313.2L1857.6 301.9L1837.2 298.4L1820.1 309.2Z" fill="#00ff13" stroke="#00ff13"/>
<path d="M1257.4 339.2L1277.7 333.6L1260.7 323.5L1240.4 328.6Z" fill="#00ff52" stroke="#00ff52"/>
<path d="M1294.9 343.8L1315.1 337.9L1297.8 328.2L1277.7 333.6Z" fill="#00ff65" stroke="#00ff65"/>
<path d="M1332.5 347.7L1352.4 341.3L1335 332L1315.1 337.9Z" fill="#00ff74" stroke="#00ff74"/>
<path d="M1370.1 350.7L1389.8 344L1372.2 335L1352.4 341.3Z" fill="#00ff81" stroke="#00ff81"/>
<path d="M1407.7 353L1427.3 345.8L1409.3 337.2L1389.8 344Z" fill="#00ff8a" stroke="#00ff8a"/>
<path d="M1445.4 354.5L1464.7 346.8L1446.6 338.7L1427.3 345.8Z" fill="#00ff91" stroke="#00ff91"/>
<path d="M1483.1 355.1L1502.2 347.1L1483.8 339.3L1464.7 346.8Z" fill="#00ff94" stroke="#00ff94"/>
<path d="M1520.8 354.9L1539.7 346.5L1521.1 339.1L1502.2 347.1Z" fill="#00ff94" stroke="#00ff94"/>
<path d="M1558.5 354L1577.2 345.2L1558.4 338.2L1539.7 346.5Z" fill="#00ff91" stroke="#00ff91"/>
<path d="M1596.3 352.2L1614.8 343L1595.7 336.4L1577.2 345.2Z" fill="#00ff8c" stroke="#00ff8c"/>
<path d="M1634.1 349.6L1652.3 340L1633 333.9L1614.8 343Z" fill="#00ff83" stroke="#00ff83"/>
<path d="M1671.9 346.2L1689.9 336.3L1670.4 330.6L1652.3 340Z" fill="#00ff77" stroke="#00ff77"/>
<path d="M1709.7 342.1L1727.6 331.7L1707.8 326.4L1689.9 336.3Z" fill="#00ff68" stroke="#00ff68"/>
<path d="M1747.6 337.1L1765.2 326.4L1745.2 321.5L1727.6 331.7Z" fill="#00ff56" stroke="#00ff56"/>
<path d="M1785.5 331.3L1802.9 320.2L1782.7 315.8L1765.2 326.4Z" fill="#00ff40" stroke="#00ff40"/>
<path d="M1823.4 324.7L1840.6 313.2L1820.1 309.2L1802.9 320.2Z" fill="#00ff28" stroke="#00ff28"/>
<path d="M1274.5 349.9L1294.9 343.8L1277.7 333.6L1257.4 339.2Z" fill="#00ff65" stroke="#00ff65"/>
<path d="M1312.3 354.1L1332.5 347.7L1315.1 337.9L1294.9 343.8Z" fill="#00ff76" stroke="#00ff76"/>
<path d="M1350.1 357.6L1370.1 350.7L1352.4 341.3L1332.5 347.7Z" fill="#00ff84" stroke="#00ff84"/>
<path d="M1388 360.3L1407.7 353L1389.8 344L1370.1 350.7Z" fill="#00ff8f" stroke="#00ff8f"/>
<path d="M1425.9 362.2L1445.4 354.5L1427.3 345.8L1407.7 353Z" fill="#00ff97" stroke="#00ff97"/>
<path d="M1463.7 363.2L1483.1 355.1L1464.7 346.8L1445.4 354.5Z" fill="#00ff9c" stroke="#00ff9c"/>
<path d="M1501.7 363.5L1520.8 354.9L1502.2 347.1L1483.1 355.1Z" fill="#00ff9e" stroke="#00ff9e"/>
<path d="M1539.6 362.9L1558.5 354L1539.7 346.5L1520.8 354.9Z" fill="#00ff9c" stroke="#00ff9c"/>
<path d="M1577.6 361.5L1596.3 352.2L1577.2 345.2L1558.5 354Z" fill="#00ff98" stroke="#00ff98"/>
<path d="M1615.6 359.3L1634.1 349.6L1614.8 343L1596.3 352.2Z" fill="#00ff91" stroke="#00ff91"/>
<path d="M1653.6 356.3L1671.9 346.2L1652.3 340L1634.1 349.6Z" fill="#00ff86" stroke="#00ff86"/>
<path d="M1691.7 352.5L1709.7 342.1L1689.9 336.3L1671.9 346.2Z" fill="#00ff79" stroke="#00ff79"/>
<path d="M1729.7 347.9L1747.6 337.1L1727.6 331.7L1709.7 342.1Z" fill="#00ff68" stroke="#00ff68"/>
<path d="M1767.8 342.5L1785.5 331.3L1765.2 326.4L1747.6 337.1Z" fill="#00ff54" stroke="#00ff54"/>
<path d="M1806 336.3L1823.4 324.7L1802.9 320.2L1785.5 331.3Z" fill="#00ff3e" stroke="#00ff3e"/>
<path d="M1291.9 360.7L1312.3 354.1L1294.9 343.8L1274.5 349.9Z" fill="#00ff78" stroke="#00ff78"/>
<path d="M1329.9 364.6L1350.1 357.6L1332.5 347.7L1312.3 354.1Z" fill="#00ff87" stroke="#00ff87"/>
<path d="M1368 367.7L1388 360.3L1370.1 350.7L1350.1 357.6Z" fill="#00ff94" stroke="#00ff94"/>
<path d="M1406.1 370L1425.9 362.2L1407.7 353L1388 360.3Z" fill="#00ff9d" stroke="#00ff9d"/>
<path d="M1444.2 371.4L1463.7 363.2L1445.4 354.5L1425.9 362.2Z" fill="#00ffa3" stroke="#00ffa3"/>
<path d="M1482.3 372.1L1501.7 363.5L1483.1 355.1L1463.7 363.2Z" fill="#00ffa7" stroke="#00ffa7"/>
<path d="M1520.5 371.9L1539.6 362.9L1520.8 354.9L1501.7 363.5Z" fill="#00ffa7" stroke="#00ffa7"/>
<path d="M1558.7 371L1577.6 361.5L1558.5 354L1539.6 362.9Z" fill="#00ffa4" stroke="#00ffa4"/>
<path d="M1596.9 369.2L1615.6 359.3L1596.3 352.2L1577.6 361.5Z" fill="#00ff9e" stroke="#00ff9e"/>
<path d="M1635.1 366.6L1653.6 356.3L1634.1 349.6L1615.6 359.3Z" fill="#00ff96" stroke="#00ff96"/>
<path d="M1673.4 363.1L1691.7 352.5L1671.9 346.2L1653.6 356.3Z" fill="#00ff8a" stroke="#00ff8a"/>
<path d="M1711.7 358.9L1729.7 347.9L1709.7 342.1L1691.7 352.5Z" fill="#00ff7b" stroke="#00ff7b"/>
<path d="M1750 353.8L1767.8 342.5L1747.6 337.1L1729.7 347.9Z" fill="#00ff69" stroke="#00ff69"/>
<path d="M1788.3 348L1806 336.3L1785.5 331.3L1767.8 342.5Z" fill="#00ff53" stroke="#00ff53"/>
<path d="M1309.5 371.6L1329.9 364.6L1312.3 354.1L1291.9 360.7Z" fill="#00ff8a" stroke="#00ff8a"/>
<path d="M1347.7 375.2L1368 367.7L1350.1 357.6L1329.9 364.6Z" fill="#00ff98" stroke="#00ff98"/>
<path d="M1386 377.9L1406.1 370L1388 360.3L1368 367.7Z" fill="#00ffa3" stroke="#00ffa3"/>
<path d="M1424.4 379.8L1444.2 371.4L1425.9 362.2L1406.1 370Z" fill="#00ffab" stroke="#00ffab"/>
<path d="M1462.7 380.8L1482.3 372.1L1463.7 363.2L1444.2 371.4Z" fill="#00ffb0" stroke="#00ffb0"/>
<path d="M1501.1 381.1L1520.5 371.9L1501.7 363.5L1482.3 372.1Z" fill="#00ffb2" stroke="#00ffb2"/>
<path d="M1539.5 380.5L1558.7 371L1539.6 362.9L1520.5 371.9Z" fill="#00ffb1" stroke="#00ffb1"/>
<path d="M1577.9 379.1L1596.9 369.2L1577.6 361.5L1558.7 371Z" fill="#00ffac" stroke="#00ffac"/>
<path d="M1616.4 376.9L1635.1 366.6L1615.6 359.3L1596.9 369.2Z" fill="#00ffa5" stroke="#00ffa5"/>
<path d="M1654.9 373.9L1673.4 363.1L1653.6 356.3L1635.1 366.6Z" fill="#00ff9b" stroke="#00ff9b"/>
<path d="M1693.4 370L1711.7 358.9L1691.7 352.5L1673.4 363.1Z" fill="#00ff8d" stroke="#00ff8d"/>
<path d="M1731.9 365.3L1750 353.8L1729.7 347.9L1711.7 358.9Z" fill="#00ff7d" stroke="#00ff7d"/>
<path d="M1770.5 359.8L1788.3 348L1767.8 342.5L1750 353.8Z" fill="#00ff69" stroke="#00ff69"/>
<path d="M1327.3 382.7L1347.7 375.2L1329.9 364.6L1309.5 371.6Z" fill="#00ff9d" stroke="#00ff9d"/>
<path d="M1365.8 385.9L1386 377.9L1368 367.7L1347.7 375.2Z" fill="#00ffaa" stroke="#00ffaa"/>
<path d="M1404.3 388.2L1424.4 379.8L1406.1 370L1386 377.9Z" fill="#00ffb3" stroke="#00ffb3"/>
<path d="M1442.9 389.7L1462.7 380.8L1444.2 371.4L1424.4 379.8Z" fill="#00ffb9" stroke="#00ffb9"/>
<path d="M1481.5 390.3L1501.1 381.1L1482.3 372.1L1462.7 380.8Z" fill="#00ffbd" stroke="#00ffbd"/>
<path d="M1520.1 390.2L1539.5 380.5L1520.5 371.9L1501.1 381.1Z" fill="#00ffbd" stroke="#00ffbd"/>
<path d="M1558.8 389.2L1577.9 379.1L1558.7 371L1539.5 380.5Z" fill="#00ffba" stroke="#00ffba"/>
<path d="M1597.5 387.4L1616.4 376.9L1596.9 369.2L1577.9 379.1Z" fill="#00ffb4" stroke="#00ffb4"/>
<path d="M1636.2 384.7L1654.9 373.9L1635.1 366.6L1616.4 376.9Z" fill="#00ffac" stroke="#00ffac"/>
<path d="M1674.9 381.3L1693.4 370L1673.4 363.1L1654.9 373.9Z" fill="#00ffa0" stroke="#00ffa0"/>
<path d="M1713.6 377L1731.9 365.3L1711.7 358.9L1693.4 370Z" fill="#00ff91" stroke="#00ff91"/>
<path d="M1752.4 371.9L1770.5 359.8L1750 353.8L1731.9 365.3Z" fill="#00ff7e" stroke="#00ff7e"/>
<path d="M1345.3 394L1365.8 385.9L1347.7 375.2L1327.3 382.7Z" fill="#00ffb0" stroke="#00ffb0"/>
<path d="M1384 396.7L1404.3 388.2L1386 377.9L1365.8 385.9Z" fill="#00ffbb" stroke="#00ffbb"/>
<path d="M1422.8 398.6L1442.9 389.7L1424.4 379.8L1404.3 388.2Z" fill="#00ffc3" stroke="#00ffc3"/>
<path d="M1461.7 399.7L1481.5 390.3L1462.7 380.8L1442.9 389.7Z" fill="#00ffc8" stroke="#00ffc8"/>
<path d="M1500.5 399.9L1520.1 390.2L1501.1 381.1L1481.5 390.3Z" fill="#00ffc9" stroke="#00ffc9"/>
<path d="M1539.4 399.4L1558.8 389.2L1539.5 380.5L1520.1 390.2Z" fill="#00ffc8" stroke="#00ffc8"/>
<path d="M1578.3 397.9L1597.5 387.4L1577.9 379.1L1558.8 389.2Z" fill="#00ffc4" stroke="#00ffc4"/>
<path d="M1617.2 395.7L1636.2 384.7L1616.4 376.9L1597.5 387.4Z" fill="#00ffbd" stroke="#00ffbd"/>
<path d="M1656.2 392.6L1674.9 381.3L1654.9 373.9L1636.2 384.7Z" fill="#00ffb2" stroke="#00ffb2"/>
<path d="M1695.1 388.7L1713.6 377L1693.4 370L1674.9 381.3Z" fill="#00ffa5" stroke="#00ffa5"/>
<path d="M1734.1 384L1752.4 371.9L1731.9 365.3L1713.6 377Z" fill="#00ff94" stroke="#00ff94"/>
<path d="M1363.5 405.3L1384 396.7L1365.8 385.9L1345.3 394Z" fill="#00ffc3" stroke="#00ffc3"/>
<path d="M1402.5 407.7L1422.8 398.6L1404.3 388.2L1384 396.7Z" fill="#00ffcc" stroke="#00ffcc"/>
<path d="M1441.6 409.2L1461.7 399.7L1442.9 389.7L1422.8 398.6Z" fill="#00ffd2" stroke="#00ffd2"/>
<path d="M1480.6 409.8L1500.5 399.9L1481.5 390.3L1461.7 399.7Z" fill="#00ffd6" stroke="#00ffd6"/>
<path d="M1519.7 409.7L1539.4 399.4L1520.1 390.2L1500.5 399.9Z" fill="#00ffd6" stroke="#00ffd6"/>
<path d="M1558.9 408.7L1578.3 397.9L1558.8 389.2L1539.4 399.4Z" fill="#00ffd3" stroke="#00ffd3"/>
<path d="M1598 406.8L1617.2 395.7L1597.5 387.4L1578.3 397.9Z" fill="#00ffcd" stroke="#00ffcd"/>
<path d="M1637.2 404.2L1656.2 392.6L1636.2 384.7L1617.2 395.7Z" fill="#00ffc5" stroke="#00ffc5"/>
<path d="M1676.4 400.7L1695.1 388.7L1674.9 381.3L1656.2 392.6Z" fill="#00ffb9" stroke="#00ffb9"/>
<path d="M1715.6 396.3L1734.1 384L1713.6 377L1695.1 388.7Z" fill="#00ffaa" stroke="#00ffaa"/>
<path d="M1382 416.8L1402.5 407.7L1384 396.7L1363.5 405.3Z" fill="#00ffd5" stroke="#00ffd5"/>
<path d="M1421.2 418.8L1441.6 409.2L1422.8 398.6L1402.5 407.7Z" fill="#00ffdd" stroke="#00ffdd"/>
<path d="M1460.5 419.9L1480.6 409.8L1461.7 399.7L1441.6 409.2Z" fill="#00ffe2" stroke="#00ffe2"/>
<path d="M1499.9 420.1L1519.7 409.7L1500.5 399.9L1480.6 409.8Z" fill="#00ffe4" stroke="#00ffe4"/>
<path d="M1539.2 419.5L1558.9 408.7L1539.4 399.4L1519.7 409.7Z" fill="#00ffe3" stroke="#00ffe3"/>
<path d="M1578.6 418.1L1598 406.8L1578.3 397.9L1558.9 408.7Z" fill="#00ffde" stroke="#00ffde"/>
<path d="M1618 415.8L1637.2 404.2L1617.2 395.7L1598 406.8Z" fill="#00ffd7" stroke="#00ffd7"/>
<path d="M1657.4 412.7L1676.4 400.7L1656.2 392.6L1637.2 404.2Z" fill="#00ffcd" stroke="#00ffcd"/>
<path d="M1696.9 408.8L1715.6 396.3L1695.1 388.7L1676.4 400.7Z" fill="#00ffbf" stroke="#00ffbf"/>
<path d="M1400.6 428.5L1421.2 418.8L1402.5 407.7L1382 416.8Z" fill="#00ffe8" stroke="#00ffe8"/>
<path d="M1440.2 430L1460.5 419.9L1441.6 409.2L1421.2 418.8Z" fill="#00ffef" stroke="#00ffef"/>
<path d="M1479.7 430.7L1499.9 420.1L1480.6 409.8L1460.5 419.9Z" fill="#00fff2" stroke="#00fff2"/>
<path d="M1519.3 430.5L1539.2 419.5L1519.7 409.7L1499.9 420.1Z" fill="#00fff2" stroke="#00fff2"/>
<path d="M1558.9 429.5L1578.6 418.1L1558.9 408.7L1539.2 419.5Z" fill="#00ffef" stroke="#00ffef"/>
<path d="M1598.6 427.6L1618 415.8L1598 406.8L1578.6 418.1Z" fill="#00ffea" stroke="#00ffea"/>
<path d="M1638.2 424.9L1657.4 412.7L1637.2 404.2L1618 415.8Z" fill="#00ffe1" stroke="#00ffe1"/>
<path d="M1677.9 421.4L1696.9 408.8L1676.4 400.7L1657.4 412.7Z" fill="#00ffd5" stroke="#00ffd5"/>
<path d="M1419.6 440.3L1440.2 430L1421.2 418.8L1400.6 428.5Z" fill="#00fffb" stroke="#00fffb"/>
<path d="M1459.4 441.4L1479.7 430.7L1460.5 419.9L1440.2 430Z" fill="#00feff" stroke="#00feff"/>
<path d="M1499.2 441.6L1519.3 430.5L1499.9 420.1L1479.7 430.7Z" fill="#00fcff" stroke="#00fcff"/>
<path d="M1539 441L1558.9 429.5L1539.2 419.5L1519.3 430.5Z" fill="#00feff" stroke="#00feff"/>
<path d="M1578.9 439.6L1598.6 427.6L1578.6 418.1L1558.9 429.5Z" fill="#00fffc" stroke="#00fffc"/>
<path d="M1618.8 437.3L1638.2 424.9L1618 415.8L1598.6 427.6Z" fill="#00fff5" stroke="#00fff5"/>
<path d="M1658.7 434.1L1677.9 421.4L1657.4 412.7L1638.2 424.9Z" fill="#00ffea" stroke="#00ffea"/>
<path d="M1438.7 452.2L1459.4 441.4L1440.2 430L1419.6 440.3Z" fill="#00f0ff" stroke="#00f0ff"/>
<path d="M1478.8 452.9L1499.2 441.6L1479.7 430.7L1459.4 441.4Z" fill="#00edff" stroke="#00edff"/>
<path d="M1518.9 452.7L1539 441L1519.3 430.5L1499.2 441.6Z" fill="#00edff" stroke="#00edff"/>
<path d="M1559 451.7L1578.9 439.6L1558.9 429.5L1539 441Z" fill="#00efff" stroke="#00efff"/>
<path d="M1599.1 449.8L1618.8 437.3L1598.6 427.6L1578.9 439.6Z" fill="#00f5ff" stroke="#00f5ff"/>
<path d="M1639.3 447.1L1658.7 434.1L1638.2 424.9L1618.8 437.3Z" fill="#00feff" stroke="#00feff"/>
<path d="M1458.1 464.3L1478.8 452.9L1459.4 441.4L1438.7 452.2Z" fill="#00ddff" stroke="#00ddff"/>
<path d="M1498.4 464.6L1518.9 452.7L1499.2 441.6L1478.8 452.9Z" fill="#00dcff" stroke="#00dcff"/>
<path d="M1538.8 464L1559 451.7L1539 441L1518.9 452.7Z" fill="#00ddff" stroke="#00ddff"/>
<path d="M1579.2 462.5L1599.1 449.8L1578.9 439.6L1559 451.7Z" fill="#00e1ff" stroke="#00e1ff"/>
<path d="M1619.6 460.2L1639.3 447.1L1618.8 437.3L1599.1 449.8Z" fill="#00e9ff" stroke="#00e9ff"/>
<path d="M1477.8 476.6L1498.4 464.6L1478.8 452.9L1458.1 464.3Z" fill="#00cbff" stroke="#00cbff"/>
<path d="M1518.4 476.4L1538.8 464L1518.9 452.7L1498.4 464.6Z" fill="#00caff" stroke="#00caff"/>
<path d="M1559 475.3L1579.2 462.5L1559 451.7L1538.8 464Z" fill="#00cdff" stroke="#00cdff"/>
<path d="M1599.6 473.4L1619.6 460.2L1599.1 449.8L1579.2 462.5Z" fill="#00d3ff" stroke="#00d3ff"/>
<path d="M1497.7 489L1518.4 476.4L1498.4 464.6L1477.8 476.6Z" fill="#00b8ff" stroke="#00b8ff"/>
<path d="M1538.5 488.3L1559 475.3L1538.8 464L1518.4 476.4Z" fill="#00b9ff" stroke="#00b9ff"/>
<path d="M1579.4 486.9L1599.6 473.4L1579.2 462.5L1559 475.3Z" fill="#00beff" stroke="#00beff"/>
<path d="M1517.8 501.5L1538.5 488.3L1518.4 476.4L1497.7 489Z" fill="#00a5ff" stroke="#00a5ff"/>
<path d="M1559 500.5L1579.4 486.9L1559 475.3L1538.5 488.3Z" fill="#00a8ff" stroke="#00a8ff"/>
<path d="M1538.2 514.2L1559 500.5L1538.5 488.3L1517.8 501.5Z" fill="#0092ff" stroke="#0092ff"/>
</g>
<g stroke="#000" stroke-width="2.25" fill="none" stroke-linejoin="round">
<path d="M1538.2 514.2L1517.8 501.5L1497.7 489L1477.8 476.6L1458.1 464.3L1438.7 452.2L1419.6 440.3L1400.6 428.5L1382 416.8L1363.5 405.3L1345.3 394L1327.3 382.7L1309.5 371.6L1291.9 360.7L1274.5 349.9L1257.4 339.2L1240.4 328.6L1223.6 318.1L1207.1 307.8L1190.7 297.6L1174.5 287.5"/>
<path d="M1538.2 514.2L1559 500.5L1579.4 486.9L1599.6 473.4L1619.6 460.2L1639.3 447.1L1658.7 434.1L1677.9 421.4L1696.9 408.8L1715.6 396.3L1734.1 384L1752.4 371.9L1770.5 359.8L1788.3 348L1806 336.3L1823.4 324.7L1840.6 313.2L1857.6 301.9L1874.4 290.7L1891.1 279.7L1907.5 268.8"/>
<path d="M1559 500.5L1538.5 488.3L1518.4 476.4L1498.4 464.6L1478.8 452.9L1459.4 441.4L1440.2 430L1421.2 418.8L1402.5 407.7L1384 396.7L1365.8 385.9L1347.7 375.2L1329.9 364.6L1312.3 354.1L1294.9 343.8L1277.7 333.6L1260.7 323.5L1243.9 313.6L1227.3 303.7L1210.9 294L1194.7 284.4"/>
<path d="M1517.8 501.5L1538.5 488.3L1559 475.3L1579.2 462.5L1599.1 449.8L1618.8 437.3L1638.2 424.9L1657.4 412.7L1676.4 400.7L1695.1 388.7L1713.6 377L1731.9 365.3L1750 353.8L1767.8 342.5L1785.5 331.3L1802.9 320.2L1820.1 309.2L1837.2 298.4L1854 287.7L1870.6 277.1L1887.1 266.7"/>
<path d="M1579.4 486.9L1559 475.3L1538.8 464L1518.9 452.7L1499.2 441.6L1479.7 430.7L1460.5 419.9L1441.6 409.2L1422.8 398.6L1404.3 388.2L1386 377.9L1368 367.7L1350.1 357.6L1332.5 347.7L1315.1 337.9L1297.8 328.2L1280.8 318.6L1264 309.1L1247.4 299.7L1230.9 290.4L1214.7 281.3"/>
<path d="M1497.7 489L1518.4 476.4L1538.8 464L1559 451.7L1578.9 439.6L1598.6 427.6L1618 415.8L1637.2 404.2L1656.2 392.6L1674.9 381.3L1693.4 370L1711.7 358.9L1729.7 347.9L1747.6 337.1L1765.2 326.4L1782.7 315.8L1799.9 305.3L1816.9 294.9L1833.8 284.7L1850.4 274.6L1866.9 264.6"/>
<path d="M1599.6 473.4L1579.2 462.5L1559 451.7L1539 441L1519.3 430.5L1499.9 420.1L1480.6 409.8L1461.7 399.7L1442.9 389.7L1424.4 379.8L1406.1 370L1388 360.3L1370.1 350.7L1352.4 341.3L1335 332L1317.7 322.8L1300.7 313.6L1283.8 304.6L1267.2 295.7L1250.7 286.9L1234.4 278.2"/>
<path d="M1477.8 476.6L1498.4 464.6L1518.9 452.7L1539 441L1558.9 429.5L1578.6 418.1L1598 406.8L1617.2 395.7L1636.2 384.7L1654.9 373.9L1673.4 363.1L1691.7 352.5L1709.7 342.1L1727.6 331.7L1745.2 321.5L1762.7 311.4L1779.9 301.4L1796.9 291.5L1813.8 281.7L1830.4 272.1L1846.9 262.5"/>
<path d="M1619.6 460.2L1599.1 449.8L1578.9 439.6L1558.9 429.5L1539.2 419.5L1519.7 409.7L1500.5 399.9L1481.5 390.3L1462.7 380.8L1444.2 371.4L1425.9 362.2L1407.7 353L1389.8 344L1372.2 335L1354.7 326.2L1337.4 317.4L1320.3 308.8L1303.4 300.2L1286.7 291.8L1270.2 283.4L1253.9 275.2"/>
<path d="M1458.1 464.3L1478.8 452.9L1499.2 441.6L1519.3 430.5L1539.2 419.5L1558.9 408.7L1578.3 397.9L1597.5 387.4L1616.4 376.9L1635.1 366.6L1653.6 356.3L1671.9 346.2L1689.9 336.3L1707.8 326.4L1725.4 316.7L1742.9 307L1760.1 297.5L1777.1 288.1L1794 278.8L1810.6 269.6L1827.1 260.5"/>
<path d="M1639.3 447.1L1618.8 437.3L1598.6 427.6L1578.6 418.1L1558.9 408.7L1539.4 399.4L1520.1 390.2L1501.1 381.1L1482.3 372.1L1463.7 363.2L1445.4 354.5L1427.3 345.8L1409.3 337.2L1391.6 328.8L1374.1 320.4L1356.8 312.1L1339.7 304L1322.8 295.9L1306.1 287.9L1289.5 280L1273.2 272.2"/>
<path d="M1438.7 452.2L1459.4 441.4L1479.7 430.7L1499.9 420.1L1519.7 409.7L1539.4 399.4L1558.8 389.2L1577.9 379.1L1596.9 369.2L1615.6 359.3L1634.1 349.6L1652.3 340L1670.4 330.6L1688.2 321.2L1705.9 311.9L1723.3 302.8L1740.6 293.7L1757.6 284.8L1774.4 275.9L1791.1 267.2L1807.6 258.5"/>
<path d="M1658.7 434.1L1638.2 424.9L1618 415.8L1598 406.8L1578.3 397.9L1558.8 389.2L1539.5 380.5L1520.5 371.9L1501.7 363.5L1483.1 355.1L1464.7 346.8L1446.6 338.7L1428.6 330.6L1410.9 322.6L1393.4 314.7L1376 306.9L1358.9 299.2L1342 291.6L1325.2 284.1L1308.7 276.6L1292.3 269.2"/>
<path d="M1419.6 440.3L1440.2 430L1460.5 419.9L1480.6 409.8L1500.5 399.9L1520.1 390.2L1539.5 380.5L1558.7 371L1577.6 361.5L1596.3 352.2L1614.8 343L1633 333.9L1651.1 324.9L1668.9 316L1686.6 307.2L1704 298.5L1721.2 289.9L1738.3 281.5L1755.1 273.1L1771.8 264.8L1788.3 256.5"/>
<path d="M1677.9 421.4L1657.4 412.7L1637.2 404.2L1617.2 395.7L1597.5 387.4L1577.9 379.1L1558.7 371L1539.6 362.9L1520.8 354.9L1502.2 347.1L1483.8 339.3L1465.6 331.6L1447.7 324L1429.9 316.5L1412.4 309.1L1395 301.8L1377.9 294.5L1360.9 287.3L1344.1 280.3L1327.6 273.2L1311.2 266.3"/>
<path d="M1400.6 428.5L1421.2 418.8L1441.6 409.2L1461.7 399.7L1481.5 390.3L1501.1 381.1L1520.5 371.9L1539.6 362.9L1558.5 354L1577.2 345.2L1595.7 336.4L1613.9 327.8L1632 319.3L1649.8 310.9L1667.5 302.6L1684.9 294.4L1702.1 286.2L1719.2 278.2L1736 270.2L1752.7 262.4L1769.2 254.6"/>
<path d="M1696.9 408.8L1676.4 400.7L1656.2 392.6L1636.2 384.7L1616.4 376.9L1596.9 369.2L1577.6 361.5L1558.5 354L1539.7 346.5L1521.1 339.1L1502.7 331.9L1484.5 324.7L1466.5 317.5L1448.7 310.5L1431.2 303.5L1413.8 296.7L1396.6 289.9L1379.6 283.1L1362.8 276.5L1346.2 269.9L1329.8 263.4"/>
<path d="M1382 416.8L1402.5 407.7L1422.8 398.6L1442.9 389.7L1462.7 380.8L1482.3 372.1L1501.7 363.5L1520.8 354.9L1539.7 346.5L1558.4 338.2L1576.8 330L1595.1 321.8L1613.1 313.8L1630.9 305.8L1648.6 298L1666 290.2L1683.2 282.5L1700.3 274.9L1717.1 267.4L1733.8 260L1750.3 252.7"/>
<path d="M1715.6 396.3L1695.1 388.7L1674.9 381.3L1654.9 373.9L1635.1 366.6L1615.6 359.3L1596.3 352.2L1577.2 345.2L1558.4 338.2L1539.7 331.3L1521.3 324.5L1503.1 317.8L1485.1 311.1L1467.3 304.6L1449.8 298.1L1432.4 291.6L1415.2 285.3L1398.2 279L1381.4 272.8L1364.7 266.6L1348.3 260.5"/>
<path d="M1363.5 405.3L1384 396.7L1404.3 388.2L1424.4 379.8L1444.2 371.4L1463.7 363.2L1483.1 355.1L1502.2 347.1L1521.1 339.1L1539.7 331.3L1558.2 323.6L1576.4 315.9L1594.5 308.3L1612.3 300.8L1629.9 293.4L1647.3 286.1L1664.6 278.9L1681.6 271.7L1698.4 264.7L1715.1 257.7L1731.6 250.7"/>
<path d="M1734.1 384L1713.6 377L1693.4 370L1673.4 363.1L1653.6 356.3L1634.1 349.6L1614.8 343L1595.7 336.4L1576.8 330L1558.2 323.6L1539.8 317.2L1521.5 311L1503.5 304.8L1485.7 298.7L1468.1 292.6L1450.7 286.6L1433.5 280.7L1416.5 274.9L1399.7 269.1L1383 263.4L1366.5 257.7"/>
<path d="M1345.3 394L1365.8 385.9L1386 377.9L1406.1 370L1425.9 362.2L1445.4 354.5L1464.7 346.8L1483.8 339.3L1502.7 331.9L1521.3 324.5L1539.8 317.2L1558 310L1576 302.9L1593.8 295.9L1611.4 289L1628.9 282.1L1646.1 275.3L1663.1 268.6L1680 261.9L1696.6 255.3L1713.1 248.8"/>
<path d="M1752.4 371.9L1731.9 365.3L1711.7 358.9L1691.7 352.5L1671.9 346.2L1652.3 340L1633 333.9L1613.9 327.8L1595.1 321.8L1576.4 315.9L1558 310L1539.8 304.2L1521.7 298.5L1503.9 292.8L1486.3 287.2L1468.9 281.7L1451.6 276.2L1434.6 270.8L1417.8 265.5L1401.1 260.2L1384.6 254.9"/>
<path d="M1327.3 382.7L1347.7 375.2L1368 367.7L1388 360.3L1407.7 353L1427.3 345.8L1446.6 338.7L1465.6 331.6L1484.5 324.7L1503.1 317.8L1521.5 311L1539.8 304.2L1557.8 297.6L1575.6 291L1593.2 284.5L1610.6 278.1L1627.8 271.7L1644.8 265.4L1661.7 259.2L1678.3 253.1L1694.8 247"/>
<path d="M1770.5 359.8L1750 353.8L1729.7 347.9L1709.7 342.1L1689.9 336.3L1670.4 330.6L1651.1 324.9L1632 319.3L1613.1 313.8L1594.5 308.3L1576 302.9L1557.8 297.6L1539.7 292.3L1521.9 287.1L1504.3 281.9L1486.8 276.8L1469.6 271.8L1452.5 266.8L1435.7 261.9L1419 257L1402.5 252.1"/>
<path d="M1309.5 371.6L1329.9 364.6L1350.1 357.6L1370.1 350.7L1389.8 344L1409.3 337.2L1428.6 330.6L1447.7 324L1466.5 317.5L1485.1 311.1L1503.5 304.8L1521.7 298.5L1539.7 292.3L1557.5 286.2L1575.1 280.1L1592.5 274.1L1609.7 268.2L1626.8 262.3L1643.6 256.5L1660.3 250.8L1676.7 245.1"/>
<path d="M1788.3 348L1767.8 342.5L1747.6 337.1L1727.6 331.7L1707.8 326.4L1688.2 321.2L1668.9 316L1649.8 310.9L1630.9 305.8L1612.3 300.8L1593.8 295.9L1575.6 291L1557.5 286.2L1539.7 281.4L1522 276.7L1504.6 272L1487.3 267.4L1470.3 262.8L1453.4 258.3L1436.7 253.8L1420.1 249.4"/>
<path d="M1291.9 360.7L1312.3 354.1L1332.5 347.7L1352.4 341.3L1372.2 335L1391.6 328.8L1410.9 322.6L1429.9 316.5L1448.7 310.5L1467.3 304.6L1485.7 298.7L1503.9 292.8L1521.9 287.1L1539.7 281.4L1557.3 275.8L1574.7 270.2L1591.9 264.7L1608.9 259.3L1625.7 253.9L1642.4 248.6L1658.8 243.3"/>
<path d="M1806 336.3L1785.5 331.3L1765.2 326.4L1745.2 321.5L1725.4 316.7L1705.9 311.9L1686.6 307.2L1667.5 302.6L1648.6 298L1629.9 293.4L1611.4 289L1593.2 284.5L1575.1 280.1L1557.3 275.8L1539.6 271.5L1522.2 267.2L1504.9 263L1487.8 258.9L1470.9 254.8L1454.2 250.7L1437.6 246.7"/>
<path d="M1274.5 349.9L1294.9 343.8L1315.1 337.9L1335 332L1354.7 326.2L1374.1 320.4L1393.4 314.7L1412.4 309.1L1431.2 303.5L1449.8 298.1L1468.1 292.6L1486.3 287.2L1504.3 281.9L1522 276.7L1539.6 271.5L1557 266.4L1574.2 261.3L1591.2 256.2L1608 251.3L1624.7 246.3L1641.1 241.5"/>
<path d="M1823.4 324.7L1802.9 320.2L1782.7 315.8L1762.7 311.4L1742.9 307L1723.3 302.8L1704 298.5L1684.9 294.4L1666 290.2L1647.3 286.1L1628.9 282.1L1610.6 278.1L1592.5 274.1L1574.7 270.2L1557 266.4L1539.5 262.5L1522.2 258.7L1505.1 255L1488.2 251.3L1471.5 247.6L1454.9 244"/>
<path d="M1257.4 339.2L1277.7 333.6L1297.8 328.2L1317.7 322.8L1337.4 317.4L1356.8 312.1L1376 306.9L1395 301.8L1413.8 296.7L1432.4 291.6L1450.7 286.6L1468.9 281.7L1486.8 276.8L1504.6 272L1522.2 267.2L1539.5 262.5L1556.7 257.9L1573.7 253.2L1590.5 248.7L1607.2 244.2L1623.6 239.7"/>
<path d="M1840.6 313.2L1820.1 309.2L1799.9 305.3L1779.9 301.4L1760.1 297.5L1740.6 293.7L1721.2 289.9L1702.1 286.2L1683.2 282.5L1664.6 278.9L1646.1 275.3L1627.8 271.7L1609.7 268.2L1591.9 264.7L1574.2 261.3L1556.7 257.9L1539.4 254.5L1522.3 251.1L1505.4 247.8L1488.6 244.6L1472 241.3"/>
<path d="M1240.4 328.6L1260.7 323.5L1280.8 318.6L1300.7 313.6L1320.3 308.8L1339.7 304L1358.9 299.2L1377.9 294.5L1396.6 289.9L1415.2 285.3L1433.5 280.7L1451.6 276.2L1469.6 271.8L1487.3 267.4L1504.9 263L1522.2 258.7L1539.4 254.5L1556.4 250.3L1573.2 246.1L1589.8 242L1606.3 237.9"/>
<path d="M1857.6 301.9L1837.2 298.4L1816.9 294.9L1796.9 291.5L1777.1 288.1L1757.6 284.8L1738.3 281.5L1719.2 278.2L1700.3 274.9L1681.6 271.7L1663.1 268.6L1644.8 265.4L1626.8 262.3L1608.9 259.3L1591.2 256.2L1573.7 253.2L1556.4 250.3L1539.3 247.3L1522.3 244.4L1505.6 241.6L1489 238.7"/>
<path d="M1223.6 318.1L1243.9 313.6L1264 309.1L1283.8 304.6L1303.4 300.2L1322.8 295.9L1342 291.6L1360.9 287.3L1379.6 283.1L1398.2 279L1416.5 274.9L1434.6 270.8L1452.5 266.8L1470.3 262.8L1487.8 258.9L1505.1 255L1522.3 251.1L1539.3 247.3L1556.1 243.6L1572.7 239.8L1589.1 236.2"/>
<path d="M1874.4 290.7L1854 287.7L1833.8 284.7L1813.8 281.7L1794 278.8L1774.4 275.9L1755.1 273.1L1736 270.2L1717.1 267.4L1698.4 264.7L1680 261.9L1661.7 259.2L1643.6 256.5L1625.7 253.9L1608 251.3L1590.5 248.7L1573.2 246.1L1556.1 243.6L1539.1 241.1L1522.3 238.6L1505.7 236.1"/>
<path d="M1207.1 307.8L1227.3 303.7L1247.4 299.7L1267.2 295.7L1286.7 291.8L1306.1 287.9L1325.2 284.1L1344.1 280.3L1362.8 276.5L1381.4 272.8L1399.7 269.1L1417.8 265.5L1435.7 261.9L1453.4 258.3L1470.9 254.8L1488.2 251.3L1505.4 247.8L1522.3 244.4L1539.1 241.1L1555.7 237.7L1572.2 234.4"/>
<path d="M1891.1 279.7L1870.6 277.1L1850.4 274.6L1830.4 272.1L1810.6 269.6L1791.1 267.2L1771.8 264.8L1752.7 262.4L1733.8 260L1715.1 257.7L1696.6 255.3L1678.3 253.1L1660.3 250.8L1642.4 248.6L1624.7 246.3L1607.2 244.2L1589.8 242L1572.7 239.8L1555.7 237.7L1538.9 235.6L1522.3 233.5"/>
<path d="M1190.7 297.6L1210.9 294L1230.9 290.4L1250.7 286.9L1270.2 283.4L1289.5 280L1308.7 276.6L1327.6 273.2L1346.2 269.9L1364.7 266.6L1383 263.4L1401.1 260.2L1419 257L1436.7 253.8L1454.2 250.7L1471.5 247.6L1488.6 244.6L1505.6 241.6L1522.3 238.6L1538.9 235.6L1555.4 232.7"/>
<path d="M1907.5 268.8L1887.1 266.7L1866.9 264.6L1846.9 262.5L1827.1 260.5L1807.6 258.5L1788.3 256.5L1769.2 254.6L1750.3 252.7L1731.6 250.7L1713.1 248.8L1694.8 247L1676.7 245.1L1658.8 243.3L1641.1 241.5L1623.6 239.7L1606.3 237.9L1589.1 236.2L1572.2 234.4L1555.4 232.7L1538.8 231"/>
<path d="M1174.5 287.5L1194.7 284.4L1214.7 281.3L1234.4 278.2L1253.9 275.2L1273.2 272.2L1292.3 269.2L1311.2 266.3L1329.8 263.4L1348.3 260.5L1366.5 257.7L1384.6 254.9L1402.5 252.1L1420.1 249.4L1437.6 246.7L1454.9 244L1472 241.3L1489 238.7L1505.7 236.1L1522.3 233.5L1538.8 231"/>
</g>
<circle cx="1711.5" cy="244" r="5.9" fill="#b80000" stroke="#4a0000" stroke-width="1"/>
<circle cx="1537.5" cy="316.5" r="5.9" fill="#b80000" stroke="#4a0000" stroke-width="1"/>
<circle cx="1537.5" cy="311" r="5.9" fill="#b80000" stroke="#4a0000" stroke-width="1"/>
<circle cx="1341" cy="375.6" r="5.9" fill="#b80000" stroke="#4a0000" stroke-width="1"/>
<circle cx="1733.4" cy="374.9" r="5.9" fill="#b80000" stroke="#4a0000" stroke-width="1"/>
<text x="1138" y="93.2" font-size="16" fill="#454545" text-anchor="middle" >14</text>
<text x="1141.5" y="161.7" font-size="16" fill="#454545" text-anchor="middle" >12</text>
<text x="1144" y="229.7" font-size="16" fill="#454545" text-anchor="middle" >10</text>
<text x="1152.5" y="298.2" font-size="16" fill="#454545" text-anchor="middle" >8</text>
<text x="1155.5" y="364.7" font-size="16" fill="#454545" text-anchor="middle" >6</text>
<text x="1159" y="434.2" font-size="16" fill="#454545" text-anchor="middle" >4</text>
<text x="1156.2" y="564.2" font-size="16" fill="#454545" text-anchor="middle" >300</text>
<text x="1244.5" y="603.7" font-size="16" fill="#454545" text-anchor="middle" >250</text>
<text x="1333" y="641.7" font-size="16" fill="#454545" text-anchor="middle" >200</text>
<text x="1422.5" y="681.2" font-size="16" fill="#454545" text-anchor="middle" >150</text>
<text x="1510.8" y="721" font-size="16" fill="#454545" text-anchor="middle" >100</text>
<text x="1562" y="721" font-size="16" fill="#454545" text-anchor="middle" >100</text>
<text x="1649.5" y="681.2" font-size="16" fill="#454545" text-anchor="middle" >200</text>
<text x="1740" y="641.7" font-size="16" fill="#454545" text-anchor="middle" >300</text>
<text x="1829.2" y="603.7" font-size="16" fill="#454545" text-anchor="middle" >400</text>
<text x="1917.5" y="564.2" font-size="16" fill="#454545" text-anchor="middle" >500</text>
<text x="1048.8" y="686" font-size="16.5" fill="#454545" textLength="345.5" lengthAdjust="spacingAndGlyphs" >B: Abrasive discharge proportion (g/min)</text>
<text x="1704.5" y="686" font-size="16.5" fill="#454545" textLength="294" lengthAdjust="spacingAndGlyphs" >A: Traverse feed velocity (mm/min)</text>
<text x="1084" y="421" font-size="15.5" fill="#454545" textLength="187" lengthAdjust="spacingAndGlyphs" transform="rotate(-90 1084 421)" >Surface irregularity (Ra)</text>
<text x="1071" y="46" font-size="48" fill="#000" class="s" >(b)</text>
</g>
<g id="pc">
<polygon points="170,1317 508.8,1189 848,1317.3 508.8,1480.8" fill="#636363" stroke="none" stroke-width="0" />
<g fill="none" stroke-width="1.6" stroke-linecap="round">
<polyline points="220.3,1300.5 221.9,1302.5 224.1,1305.3 226.7,1308.5 229.6,1312.2 232.4,1316 235.1,1319.8 237.4,1323.5 239,1326.8 240,1330.1 240.6,1333.5 240.9,1337 240.9,1340.3 240.7,1343.5 240.6,1346.4 240.4,1348.8 240.4,1350.6" stroke="#00b3ff"/>
<polyline points="283,1276.7 286.3,1278.8 290.8,1281.7 296,1285.1 301.9,1288.9 308.1,1292.9 314.2,1296.9 320.1,1300.8 325.5,1304.3 330.6,1307.6 335.8,1310.9 341.1,1314.1 346.2,1317.3 351.1,1320.4 355.6,1323.5 359.6,1326.4 363,1329.3 365.8,1332 368.1,1334.5 370,1336.9 371.5,1339.3 372.7,1341.6 373.5,1344.1 374,1346.6 374.3,1349.3 374.3,1352.2 373.9,1355.3 373.2,1358.4 372.2,1361.7 370.9,1364.9 369.3,1368.2 367.5,1371.3 365.5,1374.4 363,1377.5 359.8,1380.8 356.2,1384.1 352.4,1387.3 348.8,1390.3 345.4,1393 342.5,1395.3 340.5,1397" stroke="#00f0c7"/>
<polyline points="345.5,1253.7 348.9,1254.6 353.5,1255.8 358.9,1257.2 364.9,1258.8 371.3,1260.5 377.8,1262.1 384.1,1263.6 390,1265 395.6,1266.2 401.2,1267.4 406.8,1268.6 412.5,1269.7 418.1,1270.7 423.7,1271.7 429.4,1272.6 435,1273.5 440.7,1274.3 446.5,1275 452.3,1275.6 458.1,1276.2 463.9,1276.8 469.5,1277.2 474.9,1277.6 480,1278 484.8,1278.3 489.2,1278.6 493.4,1278.8 497.5,1278.9 501.6,1279 505.8,1279 510.2,1278.9 515,1278.8 520.1,1278.6 525.4,1278.4 530.9,1278.2 536.6,1277.9 542.3,1277.5 548.2,1277 554.1,1276.3 560,1275.5 566,1274.5 572,1273.4 578.2,1272 584.4,1270.6 590.6,1269.1 597,1267.6 603.5,1266 610,1264.5 617,1262.8 624.7,1261 632.8,1259 640.8,1257.1 648.4,1255.2 655.2,1253.5 661,1252.1 665.3,1251" stroke="#18f542"/>
<polyline points="400.6,1231.7 404.5,1232.1 409.6,1232.7 415.8,1233.4 422.6,1234.2 429.8,1235 437.1,1235.8 444.1,1236.4 450.7,1237 457,1237.5 463.3,1237.9 469.7,1238.3 476,1238.6 482.2,1238.9 488.3,1239.1 494.3,1239.2 500,1239.3 505.5,1239.3 510.8,1239.2 515.9,1239 520.9,1238.8 525.8,1238.6 530.6,1238.2 535.3,1237.9 540,1237.5 544.6,1237.1 549,1236.6 553.4,1236 557.6,1235.5 561.9,1234.8 566.2,1234.2 570.5,1233.6 575,1233 579.8,1232.4 585.1,1231.7 590.6,1230.9 596,1230.2 601.2,1229.5 605.9,1228.9 609.8,1228.4 612.7,1228" stroke="#70f000"/>
<polyline points="458.2,1209.6 462.1,1209.7 467.3,1209.8 473.5,1210 480.4,1210.1 487.7,1210.3 495.1,1210.4 502.3,1210.5 509,1210.5 515.7,1210.5 522.9,1210.4 530.4,1210.3 537.7,1210.1 544.6,1210 550.8,1209.8 556.1,1209.7 560,1209.6" stroke="#c7f000"/>
<polyline points="722.9,1273 719.6,1274.8 715.1,1277.2 709.8,1280 704,1283.2 697.8,1286.6 691.6,1290 685.7,1293.5 680.3,1296.8 675.2,1300.1 670,1303.5 664.8,1307 659.8,1310.5 654.9,1314 650.4,1317.5 646.3,1321 642.7,1324.3 639.6,1327.6 636.9,1330.8 634.5,1334 632.5,1337.1 630.9,1340.2 629.5,1343.3 628.5,1346.3 627.7,1349.3 627.3,1352.3 627.2,1355.2 627.6,1358.2 628.2,1361.1 629,1363.9 630.1,1366.7 631.3,1369.3 632.7,1371.9 634.3,1374.4 636.2,1376.8 638.4,1379.1 640.7,1381.4 643.2,1383.5 645.6,1385.6 648,1387.5 650.3,1389.4 652.6,1391.2 655.1,1392.9 657.6,1394.6 660.1,1396.1 662.5,1397.6 664.7,1398.8 666.5,1399.9 667.8,1400.7" stroke="#00f0c7"/>
<polyline points="784.2,1294.3 782.7,1296.4 780.5,1299.2 778,1302.6 775.2,1306.3 772.4,1310.3 769.7,1314.3 767.3,1318.2 765.4,1321.8 764,1325.4 762.8,1329.2 761.8,1333 761.1,1336.9 760.5,1340.5 760,1343.9 759.6,1346.9 759.2,1349.3 759,1351.1 758.9,1352.5 759,1353.5 759.2,1354.2 759.5,1354.6 759.7,1355 759.9,1355.3 760,1355.6" stroke="#00b3ff"/>
<polyline points="445.7,1447 448,1446.8 451.1,1446.6 454.8,1446.3 458.9,1446 463.2,1445.7 467.5,1445.4 471.8,1445.2 475.7,1445 479.4,1444.9 483.1,1444.7 486.7,1444.6 490.3,1444.6 494,1444.5 497.6,1444.5 501.3,1444.5 505,1444.5 508.7,1444.5 512.3,1444.6 516,1444.6 519.6,1444.7 523.4,1444.8 527.1,1445 531,1445.2 535,1445.5 539.4,1445.9 544.2,1446.4 549.3,1447 554.4,1447.6 559.2,1448.2 563.6,1448.7 567.3,1449.2 570,1449.5" stroke="#18f542"/>
</g>
<g stroke="#000" stroke-width="1.9" fill="none" stroke-linecap="square">
<path d="M170 1317L508.8 1189"/>
<path d="M508.8 1189L848 1317.3"/>
<path d="M170 1317L508.8 1480.8"/>
<path d="M508.8 1480.8L848 1317.3"/>
<path d="M147.5 850L164 1205.2"/>
<path d="M164 1205.2L170 1317"/>
<path d="M509.5 769.2L508.8 1189"/>
<path d="M870 851L853 1205"/>
<path d="M853 1205L848 1317.3"/>
<path d="M147.5 850L509.5 769.2"/>
<path d="M509.5 769.2L870 851"/>
<path d="M150.8 921L509.5 833.7"/>
<path d="M509.5 833.7L866.6 921.8"/>
<path d="M154.1 992.1L509.5 898.1"/>
<path d="M509.5 898.1L863.2 992.6"/>
<path d="M157.4 1063.2L509.5 962.6"/>
<path d="M509.5 962.6L859.8 1063.4"/>
<path d="M160.7 1134.2L509.5 1027"/>
<path d="M509.5 1027L856.4 1134.2"/>
<path d="M164 1205.2L509.5 1091.5"/>
<path d="M509.5 1091.5L853 1205"/>
<path d="M238 829.8L250.4 1176.8"/>
<path d="M599.6 789.7L595.4 1119.9"/>
<path d="M328.5 809.6L336.8 1148.4"/>
<path d="M689.8 810.1L681.2 1148.2"/>
<path d="M419 789.4L423.1 1119.9"/>
<path d="M779.9 830.6L767.1 1176.6"/>
</g>
<circle cx="170" cy="1317" r="2.2" fill="#000" stroke="none" stroke-width="0"/>
<circle cx="848" cy="1317.3" r="2.2" fill="#000" stroke="none" stroke-width="0"/>
<circle cx="254.7" cy="1358" r="2.2" fill="#000" stroke="none" stroke-width="0"/>
<circle cx="763.2" cy="1358.2" r="2.2" fill="#000" stroke="none" stroke-width="0"/>
<circle cx="339.4" cy="1398.9" r="2.2" fill="#000" stroke="none" stroke-width="0"/>
<circle cx="678.4" cy="1399" r="2.2" fill="#000" stroke="none" stroke-width="0"/>
<circle cx="424.1" cy="1439.8" r="2.2" fill="#000" stroke="none" stroke-width="0"/>
<circle cx="593.6" cy="1439.9" r="2.2" fill="#000" stroke="none" stroke-width="0"/>
<circle cx="508.8" cy="1480.8" r="2.2" fill="#000" stroke="none" stroke-width="0"/>
<circle cx="508.8" cy="1480.8" r="2.2" fill="#000" stroke="none" stroke-width="0"/>
<circle cx="147.5" cy="850" r="2.2" fill="#000" stroke="none" stroke-width="0"/>
<circle cx="150.8" cy="921" r="2.2" fill="#000" stroke="none" stroke-width="0"/>
<circle cx="154.1" cy="992.1" r="2.2" fill="#000" stroke="none" stroke-width="0"/>
<circle cx="157.4" cy="1063.2" r="2.2" fill="#000" stroke="none" stroke-width="0"/>
<circle cx="160.7" cy="1134.2" r="2.2" fill="#000" stroke="none" stroke-width="0"/>
<circle cx="164" cy="1205.2" r="2.2" fill="#000" stroke="none" stroke-width="0"/>
<line x1="321.7" y1="1140" x2="321.7" y2="1162" stroke="#000" stroke-width="1.5" />
<line x1="694.6" y1="1158" x2="694.6" y2="1166" stroke="#000" stroke-width="1.5" />
<g stroke-width="0.6" stroke-linejoin="round">
<path d="M509.3 905.2L525 893.9L509.5 881.8L493.9 893.6Z" fill="#e9ff00" stroke="#e9ff00"/>
<path d="M493.5 916.7L509.3 905.2L493.9 893.6L478.1 905.5Z" fill="#cbff00" stroke="#cbff00"/>
<path d="M525 917L540.6 906.2L525 893.9L509.3 905.2Z" fill="#caff00" stroke="#caff00"/>
<path d="M477.6 928.3L493.5 916.7L478.1 905.5L462.1 917.6Z" fill="#adff00" stroke="#adff00"/>
<path d="M509.2 928L525 917L509.3 905.2L493.5 916.7Z" fill="#aeff00" stroke="#aeff00"/>
<path d="M540.8 929L556.4 918.6L540.6 906.2L525 917Z" fill="#aaff00" stroke="#aaff00"/>
<path d="M461.5 940L477.6 928.3L462.1 917.6L445.9 929.8Z" fill="#8fff00" stroke="#8fff00"/>
<path d="M493.2 939.1L509.2 928L493.5 916.7L477.6 928.3Z" fill="#92ff00" stroke="#92ff00"/>
<path d="M525 939.4L540.8 929L525 917L509.2 928Z" fill="#91ff00" stroke="#91ff00"/>
<path d="M556.8 941L572.4 931.2L556.4 918.6L540.8 929Z" fill="#8aff00" stroke="#8aff00"/>
<path d="M445.1 951.8L461.5 940L445.9 929.8L429.6 942.1Z" fill="#70ff00" stroke="#70ff00"/>
<path d="M477.1 950.3L493.2 939.1L477.6 928.3L461.5 940Z" fill="#77ff00" stroke="#77ff00"/>
<path d="M509.1 950L525 939.4L509.2 928L493.2 939.1Z" fill="#78ff00" stroke="#78ff00"/>
<path d="M541 951L556.8 941L540.8 929L525 939.4Z" fill="#74ff00" stroke="#74ff00"/>
<path d="M573 953.2L588.6 943.8L572.4 931.2L556.8 941Z" fill="#6bff00" stroke="#6bff00"/>
<path d="M428.7 963.8L445.1 951.8L429.6 942.1L413.2 954.6Z" fill="#52ff00" stroke="#52ff00"/>
<path d="M460.8 961.6L477.1 950.3L461.5 940L445.1 951.8Z" fill="#5bff00" stroke="#5bff00"/>
<path d="M493 960.7L509.1 950L493.2 939.1L477.1 950.3Z" fill="#5fff00" stroke="#5fff00"/>
<path d="M525.1 961.1L541 951L525 939.4L509.1 950Z" fill="#5dff00" stroke="#5dff00"/>
<path d="M557.2 962.7L573 953.2L556.8 941L541 951Z" fill="#57ff00" stroke="#57ff00"/>
<path d="M589.3 965.5L604.9 956.6L588.6 943.8L573 953.2Z" fill="#4bff00" stroke="#4bff00"/>
<path d="M412 975.8L428.7 963.8L413.2 954.6L396.5 967.2Z" fill="#34ff00" stroke="#34ff00"/>
<path d="M444.3 973.1L460.8 961.6L445.1 951.8L428.7 963.8Z" fill="#3fff00" stroke="#3fff00"/>
<path d="M476.7 971.5L493 960.7L477.1 950.3L460.8 961.6Z" fill="#46ff00" stroke="#46ff00"/>
<path d="M509 971.2L525.1 961.1L509.1 950L493 960.7Z" fill="#47ff00" stroke="#47ff00"/>
<path d="M541.2 972.2L557.2 962.7L541 951L525.1 961.1Z" fill="#43ff00" stroke="#43ff00"/>
<path d="M573.5 974.5L589.3 965.5L573 953.2L557.2 962.7Z" fill="#39ff00" stroke="#39ff00"/>
<path d="M605.8 977.9L621.4 969.6L604.9 956.6L589.3 965.5Z" fill="#2bff00" stroke="#2bff00"/>
<path d="M395.2 988.1L412 975.8L396.5 967.2L379.7 979.9Z" fill="#16ff00" stroke="#16ff00"/>
<path d="M427.7 984.6L444.3 973.1L428.7 963.8L412 975.8Z" fill="#24ff00" stroke="#24ff00"/>
<path d="M460.2 982.5L476.7 971.5L460.8 961.6L444.3 973.1Z" fill="#2dff00" stroke="#2dff00"/>
<path d="M492.7 981.5L509 971.2L493 960.7L476.7 971.5Z" fill="#30ff00" stroke="#30ff00"/>
<path d="M525.1 981.9L541.2 972.2L525.1 961.1L509 971.2Z" fill="#2fff00" stroke="#2fff00"/>
<path d="M557.6 983.5L573.5 974.5L557.2 962.7L541.2 972.2Z" fill="#28ff00" stroke="#28ff00"/>
<path d="M590 986.4L605.8 977.9L589.3 965.5L573.5 974.5Z" fill="#1cff00" stroke="#1cff00"/>
<path d="M622.5 990.5L638 982.7L621.4 969.6L605.8 977.9Z" fill="#0bff00" stroke="#0bff00"/>
<path d="M378.1 1000.4L395.2 988.1L379.7 979.9L362.6 992.7Z" fill="#00ff09" stroke="#00ff09"/>
<path d="M410.8 996.3L427.7 984.6L412 975.8L395.2 988.1Z" fill="#08ff00" stroke="#08ff00"/>
<path d="M443.5 993.5L460.2 982.5L444.3 973.1L427.7 984.6Z" fill="#13ff00" stroke="#13ff00"/>
<path d="M476.2 992L492.7 981.5L476.7 971.5L460.2 982.5Z" fill="#1aff00" stroke="#1aff00"/>
<path d="M508.9 991.7L525.1 981.9L509 971.2L492.7 981.5Z" fill="#1bff00" stroke="#1bff00"/>
<path d="M541.5 992.7L557.6 983.5L541.2 972.2L525.1 981.9Z" fill="#17ff00" stroke="#17ff00"/>
<path d="M574.1 994.9L590 986.4L573.5 974.5L557.6 983.5Z" fill="#0eff00" stroke="#0eff00"/>
<path d="M606.7 998.4L622.5 990.5L605.8 977.9L590 986.4Z" fill="#00ff01" stroke="#00ff01"/>
<path d="M639.3 1003.2L654.9 995.9L638 982.7L622.5 990.5Z" fill="#00ff14" stroke="#00ff14"/>
<path d="M360.9 1012.9L378.1 1000.4L362.6 992.7L345.4 1005.7Z" fill="#00ff27" stroke="#00ff27"/>
<path d="M393.8 1008.1L410.8 996.3L395.2 988.1L378.1 1000.4Z" fill="#00ff14" stroke="#00ff14"/>
<path d="M426.7 1004.7L443.5 993.5L427.7 984.6L410.8 996.3Z" fill="#00ff06" stroke="#00ff06"/>
<path d="M459.5 1002.5L476.2 992L460.2 982.5L443.5 993.5Z" fill="#03ff00" stroke="#03ff00"/>
<path d="M492.4 1001.6L508.9 991.7L492.7 981.5L476.2 992Z" fill="#07ff00" stroke="#07ff00"/>
<path d="M525.2 1001.9L541.5 992.7L525.1 981.9L508.9 991.7Z" fill="#05ff00" stroke="#05ff00"/>
<path d="M558 1003.5L574.1 994.9L557.6 983.5L541.5 992.7Z" fill="#00ff01" stroke="#00ff01"/>
<path d="M590.8 1006.4L606.7 998.4L590 986.4L574.1 994.9Z" fill="#00ff0d" stroke="#00ff0d"/>
<path d="M623.6 1010.6L639.3 1003.2L622.5 990.5L606.7 998.4Z" fill="#00ff1e" stroke="#00ff1e"/>
<path d="M656.4 1016.1L671.9 1009.3L654.9 995.9L639.3 1003.2Z" fill="#00ff34" stroke="#00ff34"/>
<path d="M343.5 1025.5L360.9 1012.9L345.4 1005.7L328 1018.9Z" fill="#00ff45" stroke="#00ff45"/>
<path d="M376.6 1020.1L393.8 1008.1L378.1 1000.4L360.9 1012.9Z" fill="#00ff2f" stroke="#00ff2f"/>
<path d="M409.7 1016L426.7 1004.7L410.8 996.3L393.8 1008.1Z" fill="#00ff1f" stroke="#00ff1f"/>
<path d="M442.7 1013.1L459.5 1002.5L443.5 993.5L426.7 1004.7Z" fill="#00ff13" stroke="#00ff13"/>
<path d="M475.7 1011.5L492.4 1001.6L476.2 992L459.5 1002.5Z" fill="#00ff0d" stroke="#00ff0d"/>
<path d="M508.8 1011.3L525.2 1001.9L508.9 991.7L492.4 1001.6Z" fill="#00ff0c" stroke="#00ff0c"/>
<path d="M541.8 1012.3L558 1003.5L541.5 992.7L525.2 1001.9Z" fill="#00ff10" stroke="#00ff10"/>
<path d="M574.7 1014.5L590.8 1006.4L574.1 994.9L558 1003.5Z" fill="#00ff19" stroke="#00ff19"/>
<path d="M607.7 1018.1L623.6 1010.6L606.7 998.4L590.8 1006.4Z" fill="#00ff28" stroke="#00ff28"/>
<path d="M640.7 1022.9L656.4 1016.1L639.3 1003.2L623.6 1010.6Z" fill="#00ff3b" stroke="#00ff3b"/>
<path d="M673.6 1029.1L689.1 1022.8L671.9 1009.3L656.4 1016.1Z" fill="#00ff54" stroke="#00ff54"/>
<path d="M326 1038.2L343.5 1025.5L328 1018.9L310.5 1032.2Z" fill="#00ff63" stroke="#00ff63"/>
<path d="M359.2 1032.2L376.6 1020.1L360.9 1012.9L343.5 1025.5Z" fill="#00ff4b" stroke="#00ff4b"/>
<path d="M392.5 1027.4L409.7 1016L393.8 1008.1L376.6 1020.1Z" fill="#00ff38" stroke="#00ff38"/>
<path d="M425.7 1023.9L442.7 1013.1L426.7 1004.7L409.7 1016Z" fill="#00ff2a" stroke="#00ff2a"/>
<path d="M458.9 1021.6L475.7 1011.5L459.5 1002.5L442.7 1013.1Z" fill="#00ff21" stroke="#00ff21"/>
<path d="M492.1 1020.7L508.8 1011.3L492.4 1001.6L475.7 1011.5Z" fill="#00ff1d" stroke="#00ff1d"/>
<path d="M525.3 1021.1L541.8 1012.3L525.2 1001.9L508.8 1011.3Z" fill="#00ff1f" stroke="#00ff1f"/>
<path d="M558.5 1022.7L574.7 1014.5L558 1003.5L541.8 1012.3Z" fill="#00ff25" stroke="#00ff25"/>
<path d="M591.6 1025.7L607.7 1018.1L590.8 1006.4L574.7 1014.5Z" fill="#00ff31" stroke="#00ff31"/>
<path d="M624.8 1029.9L640.7 1022.9L623.6 1010.6L607.7 1018.1Z" fill="#00ff42" stroke="#00ff42"/>
<path d="M657.9 1035.4L673.6 1029.1L656.4 1016.1L640.7 1022.9Z" fill="#00ff58" stroke="#00ff58"/>
<path d="M691 1042.2L706.5 1036.5L689.1 1022.8L673.6 1029.1Z" fill="#00ff73" stroke="#00ff73"/>
<path d="M308.2 1051.1L326 1038.2L310.5 1032.2L292.7 1045.6Z" fill="#00ff82" stroke="#00ff82"/>
<path d="M341.6 1044.4L359.2 1032.2L343.5 1025.5L326 1038.2Z" fill="#00ff67" stroke="#00ff67"/>
<path d="M375.1 1038.9L392.5 1027.4L376.6 1020.1L359.2 1032.2Z" fill="#00ff51" stroke="#00ff51"/>
<path d="M408.5 1034.7L425.7 1023.9L409.7 1016L392.5 1027.4Z" fill="#00ff40" stroke="#00ff40"/>
<path d="M441.9 1031.9L458.9 1021.6L442.7 1013.1L425.7 1023.9Z" fill="#00ff35" stroke="#00ff35"/>
<path d="M475.3 1030.3L492.1 1020.7L475.7 1011.5L458.9 1021.6Z" fill="#00ff2f" stroke="#00ff2f"/>
<path d="M508.7 1030L525.3 1021.1L508.8 1011.3L492.1 1020.7Z" fill="#00ff2e" stroke="#00ff2e"/>
<path d="M542 1031L558.5 1022.7L541.8 1012.3L525.3 1021.1Z" fill="#00ff32" stroke="#00ff32"/>
<path d="M575.4 1033.3L591.6 1025.7L574.7 1014.5L558.5 1022.7Z" fill="#00ff3b" stroke="#00ff3b"/>
<path d="M608.7 1036.9L624.8 1029.9L607.7 1018.1L591.6 1025.7Z" fill="#00ff49" stroke="#00ff49"/>
<path d="M642.1 1041.8L657.9 1035.4L640.7 1022.9L624.8 1029.9Z" fill="#00ff5d" stroke="#00ff5d"/>
<path d="M675.4 1048L691 1042.2L673.6 1029.1L657.9 1035.4Z" fill="#00ff75" stroke="#00ff75"/>
<path d="M708.7 1055.5L724.1 1050.3L706.5 1036.5L691 1042.2Z" fill="#00ff93" stroke="#00ff93"/>
<path d="M290.2 1064.2L308.2 1051.1L292.7 1045.6L274.7 1059.2Z" fill="#00ffa0" stroke="#00ffa0"/>
<path d="M323.8 1056.7L341.6 1044.4L326 1038.2L308.2 1051.1Z" fill="#00ff82" stroke="#00ff82"/>
<path d="M357.5 1050.6L375.1 1038.9L359.2 1032.2L341.6 1044.4Z" fill="#00ff6a" stroke="#00ff6a"/>
<path d="M391.1 1045.7L408.5 1034.7L392.5 1027.4L375.1 1038.9Z" fill="#00ff57" stroke="#00ff57"/>
<path d="M424.7 1042.2L441.9 1031.9L425.7 1023.9L408.5 1034.7Z" fill="#00ff49" stroke="#00ff49"/>
<path d="M458.3 1039.9L475.3 1030.3L458.9 1021.6L441.9 1031.9Z" fill="#00ff40" stroke="#00ff40"/>
<path d="M491.9 1039L508.7 1030L492.1 1020.7L475.3 1030.3Z" fill="#00ff3c" stroke="#00ff3c"/>
<path d="M525.4 1039.4L542 1031L525.3 1021.1L508.7 1030Z" fill="#00ff3e" stroke="#00ff3e"/>
<path d="M559 1041L575.4 1033.3L558.5 1022.7L542 1031Z" fill="#00ff44" stroke="#00ff44"/>
<path d="M592.5 1044L608.7 1036.9L591.6 1025.7L575.4 1033.3Z" fill="#00ff50" stroke="#00ff50"/>
<path d="M626 1048.3L642.1 1041.8L624.8 1029.9L608.7 1036.9Z" fill="#00ff61" stroke="#00ff61"/>
<path d="M659.5 1053.9L675.4 1048L657.9 1035.4L642.1 1041.8Z" fill="#00ff77" stroke="#00ff77"/>
<path d="M693 1060.7L708.7 1055.5L691 1042.2L675.4 1048Z" fill="#00ff92" stroke="#00ff92"/>
<path d="M726.5 1068.9L741.9 1064.3L724.1 1050.3L708.7 1055.5Z" fill="#00ffb3" stroke="#00ffb3"/>
<path d="M272 1077.4L290.2 1064.2L274.7 1059.2L256.5 1072.9Z" fill="#00ffbe" stroke="#00ffbe"/>
<path d="M305.8 1069.2L323.8 1056.7L308.2 1051.1L290.2 1064.2Z" fill="#00ff9e" stroke="#00ff9e"/>
<path d="M339.7 1062.4L357.5 1050.6L341.6 1044.4L323.8 1056.7Z" fill="#00ff83" stroke="#00ff83"/>
<path d="M373.5 1056.9L391.1 1045.7L375.1 1038.9L357.5 1050.6Z" fill="#00ff6d" stroke="#00ff6d"/>
<path d="M407.3 1052.6L424.7 1042.2L408.5 1034.7L391.1 1045.7Z" fill="#00ff5d" stroke="#00ff5d"/>
<path d="M441.1 1049.7L458.3 1039.9L441.9 1031.9L424.7 1042.2Z" fill="#00ff51" stroke="#00ff51"/>
<path d="M474.9 1048.1L491.9 1039L475.3 1030.3L458.3 1039.9Z" fill="#00ff4b" stroke="#00ff4b"/>
<path d="M508.6 1047.8L525.4 1039.4L508.7 1030L491.9 1039Z" fill="#00ff4a" stroke="#00ff4a"/>
<path d="M542.4 1048.9L559 1041L542 1031L525.4 1039.4Z" fill="#00ff4e" stroke="#00ff4e"/>
<path d="M576.1 1051.2L592.5 1044L575.4 1033.3L559 1041Z" fill="#00ff57" stroke="#00ff57"/>
<path d="M609.8 1054.8L626 1048.3L608.7 1036.9L592.5 1044Z" fill="#00ff66" stroke="#00ff66"/>
<path d="M643.5 1059.8L659.5 1053.9L642.1 1041.8L626 1048.3Z" fill="#00ff79" stroke="#00ff79"/>
<path d="M677.2 1066L693 1060.7L675.4 1048L659.5 1053.9Z" fill="#00ff92" stroke="#00ff92"/>
<path d="M710.8 1073.6L726.5 1068.9L708.7 1055.5L693 1060.7Z" fill="#00ffaf" stroke="#00ffaf"/>
<path d="M744.5 1082.5L759.9 1078.4L741.9 1064.3L726.5 1068.9Z" fill="#00ffd2" stroke="#00ffd2"/>
<path d="M253.6 1090.7L272 1077.4L256.5 1072.9L238.1 1086.8Z" fill="#00ffdc" stroke="#00ffdc"/>
<path d="M287.7 1081.9L305.8 1069.2L290.2 1064.2L272 1077.4Z" fill="#00ffba" stroke="#00ffba"/>
<path d="M321.7 1074.3L339.7 1062.4L323.8 1056.7L305.8 1069.2Z" fill="#00ff9c" stroke="#00ff9c"/>
<path d="M355.7 1068.1L373.5 1056.9L357.5 1050.6L339.7 1062.4Z" fill="#00ff84" stroke="#00ff84"/>
<path d="M389.7 1063.2L407.3 1052.6L391.1 1045.7L373.5 1056.9Z" fill="#00ff71" stroke="#00ff71"/>
<path d="M423.7 1059.6L441.1 1049.7L424.7 1042.2L407.3 1052.6Z" fill="#00ff63" stroke="#00ff63"/>
<path d="M457.7 1057.3L474.9 1048.1L458.3 1039.9L441.1 1049.7Z" fill="#00ff5a" stroke="#00ff5a"/>
<path d="M491.6 1056.4L508.6 1047.8L491.9 1039L474.9 1048.1Z" fill="#00ff56" stroke="#00ff56"/>
<path d="M525.5 1056.8L542.4 1048.9L525.4 1039.4L508.6 1047.8Z" fill="#00ff58" stroke="#00ff58"/>
<path d="M559.5 1058.5L576.1 1051.2L559 1041L542.4 1048.9Z" fill="#00ff5e" stroke="#00ff5e"/>
<path d="M593.4 1061.5L609.8 1054.8L592.5 1044L576.1 1051.2Z" fill="#00ff6a" stroke="#00ff6a"/>
<path d="M627.3 1065.8L643.5 1059.8L626 1048.3L609.8 1054.8Z" fill="#00ff7b" stroke="#00ff7b"/>
<path d="M661.2 1071.4L677.2 1066L659.5 1053.9L643.5 1059.8Z" fill="#00ff91" stroke="#00ff91"/>
<path d="M695 1078.4L710.8 1073.6L693 1060.7L677.2 1066Z" fill="#00ffac" stroke="#00ffac"/>
<path d="M728.9 1086.6L744.5 1082.5L726.5 1068.9L710.8 1073.6Z" fill="#00ffcd" stroke="#00ffcd"/>
<path d="M762.7 1096.2L778.1 1092.7L759.9 1078.4L744.5 1082.5Z" fill="#00fff2" stroke="#00fff2"/>
<path d="M235 1104.2L253.6 1090.7L238.1 1086.8L219.6 1100.9Z" fill="#00fffb" stroke="#00fffb"/>
<path d="M269.3 1094.6L287.7 1081.9L272 1077.4L253.6 1090.7Z" fill="#00ffd5" stroke="#00ffd5"/>
<path d="M303.5 1086.4L321.7 1074.3L305.8 1069.2L287.7 1081.9Z" fill="#00ffb5" stroke="#00ffb5"/>
<path d="M337.7 1079.5L355.7 1068.1L339.7 1062.4L321.7 1074.3Z" fill="#00ff9a" stroke="#00ff9a"/>
<path d="M371.9 1073.9L389.7 1063.2L373.5 1056.9L355.7 1068.1Z" fill="#00ff85" stroke="#00ff85"/>
<path d="M406.1 1069.6L423.7 1059.6L407.3 1052.6L389.7 1063.2Z" fill="#00ff74" stroke="#00ff74"/>
<path d="M440.3 1066.7L457.7 1057.3L441.1 1049.7L423.7 1059.6Z" fill="#00ff69" stroke="#00ff69"/>
<path d="M474.4 1065.1L491.6 1056.4L474.9 1048.1L457.7 1057.3Z" fill="#00ff62" stroke="#00ff62"/>
<path d="M508.6 1064.8L525.5 1056.8L508.6 1047.8L491.6 1056.4Z" fill="#00ff61" stroke="#00ff61"/>
<path d="M542.7 1065.8L559.5 1058.5L542.4 1048.9L525.5 1056.8Z" fill="#00ff65" stroke="#00ff65"/>
<path d="M576.8 1068.2L593.4 1061.5L576.1 1051.2L559.5 1058.5Z" fill="#00ff6e" stroke="#00ff6e"/>
<path d="M610.9 1071.8L627.3 1065.8L609.8 1054.8L593.4 1061.5Z" fill="#00ff7d" stroke="#00ff7d"/>
<path d="M645 1076.8L661.2 1071.4L643.5 1059.8L627.3 1065.8Z" fill="#00ff90" stroke="#00ff90"/>
<path d="M679 1083.2L695 1078.4L677.2 1066L661.2 1071.4Z" fill="#00ffa9" stroke="#00ffa9"/>
<path d="M713.1 1090.8L728.9 1086.6L710.8 1073.6L695 1078.4Z" fill="#00ffc7" stroke="#00ffc7"/>
<path d="M747.1 1099.8L762.7 1096.2L744.5 1082.5L728.9 1086.6Z" fill="#00ffea" stroke="#00ffea"/>
<path d="M781.1 1110.1L796.5 1107.1L778.1 1092.7L762.7 1096.2Z" fill="#00ecff" stroke="#00ecff"/>
<path d="M216.2 1117.8L235 1104.2L219.6 1100.9L200.8 1115.1Z" fill="#00e5ff" stroke="#00e5ff"/>
<path d="M250.6 1107.6L269.3 1094.6L253.6 1090.7L235 1104.2Z" fill="#00fff1" stroke="#00fff1"/>
<path d="M285.1 1098.6L303.5 1086.4L287.7 1081.9L269.3 1094.6Z" fill="#00ffce" stroke="#00ffce"/>
<path d="M319.5 1091L337.7 1079.5L321.7 1074.3L303.5 1086.4Z" fill="#00ffb1" stroke="#00ffb1"/>
<path d="M353.9 1084.7L371.9 1073.9L355.7 1068.1L337.7 1079.5Z" fill="#00ff99" stroke="#00ff99"/>
<path d="M388.3 1079.7L406.1 1069.6L389.7 1063.2L371.9 1073.9Z" fill="#00ff85" stroke="#00ff85"/>
<path d="M422.7 1076.1L440.3 1066.7L423.7 1059.6L406.1 1069.6Z" fill="#00ff77" stroke="#00ff77"/>
<path d="M457 1073.8L474.4 1065.1L457.7 1057.3L440.3 1066.7Z" fill="#00ff6f" stroke="#00ff6f"/>
<path d="M491.4 1072.8L508.6 1064.8L491.6 1056.4L474.4 1065.1Z" fill="#00ff6b" stroke="#00ff6b"/>
<path d="M525.7 1073.2L542.7 1065.8L525.5 1056.8L508.6 1064.8Z" fill="#00ff6c" stroke="#00ff6c"/>
<path d="M560 1074.9L576.8 1068.2L559.5 1058.5L542.7 1065.8Z" fill="#00ff73" stroke="#00ff73"/>
<path d="M594.3 1078L610.9 1071.8L593.4 1061.5L576.8 1068.2Z" fill="#00ff7f" stroke="#00ff7f"/>
<path d="M628.6 1082.3L645 1076.8L627.3 1065.8L610.9 1071.8Z" fill="#00ff90" stroke="#00ff90"/>
<path d="M662.9 1088L679 1083.2L661.2 1071.4L645 1076.8Z" fill="#00ffa6" stroke="#00ffa6"/>
<path d="M697.1 1095.1L713.1 1090.8L695 1078.4L679 1083.2Z" fill="#00ffc1" stroke="#00ffc1"/>
<path d="M731.3 1103.4L747.1 1099.8L728.9 1086.6L713.1 1090.8Z" fill="#00ffe1" stroke="#00ffe1"/>
<path d="M765.6 1113.1L781.1 1110.1L762.7 1096.2L747.1 1099.8Z" fill="#00f7ff" stroke="#00f7ff"/>
<path d="M799.8 1124.2L815.1 1121.8L796.5 1107.1L781.1 1110.1Z" fill="#00ccff" stroke="#00ccff"/>
<path d="M197.2 1131.6L216.2 1117.8L200.8 1115.1L181.7 1129.5Z" fill="#00c7ff" stroke="#00c7ff"/>
<path d="M231.8 1120.6L250.6 1107.6L235 1104.2L216.2 1117.8Z" fill="#00f1ff" stroke="#00f1ff"/>
<path d="M266.5 1110.9L285.1 1098.6L269.3 1094.6L250.6 1107.6Z" fill="#00ffe7" stroke="#00ffe7"/>
<path d="M301.1 1102.6L319.5 1091L303.5 1086.4L285.1 1098.6Z" fill="#00ffc7" stroke="#00ffc7"/>
<path d="M335.7 1095.6L353.9 1084.7L337.7 1079.5L319.5 1091Z" fill="#00ffad" stroke="#00ffad"/>
<path d="M370.3 1090L388.3 1079.7L371.9 1073.9L353.9 1084.7Z" fill="#00ff97" stroke="#00ff97"/>
<path d="M404.9 1085.6L422.7 1076.1L406.1 1069.6L388.3 1079.7Z" fill="#00ff86" stroke="#00ff86"/>
<path d="M439.4 1082.7L457 1073.8L440.3 1066.7L422.7 1076.1Z" fill="#00ff7b" stroke="#00ff7b"/>
<path d="M474 1081L491.4 1072.8L474.4 1065.1L457 1073.8Z" fill="#00ff75" stroke="#00ff75"/>
<path d="M508.5 1080.7L525.7 1073.2L508.6 1064.8L491.4 1072.8Z" fill="#00ff73" stroke="#00ff73"/>
<path d="M543 1081.8L560 1074.9L542.7 1065.8L525.7 1073.2Z" fill="#00ff77" stroke="#00ff77"/>
<path d="M577.5 1084.2L594.3 1078L576.8 1068.2L560 1074.9Z" fill="#00ff81" stroke="#00ff81"/>
<path d="M612 1087.9L628.6 1082.3L610.9 1071.8L594.3 1078Z" fill="#00ff8f" stroke="#00ff8f"/>
<path d="M646.5 1093L662.9 1088L645 1076.8L628.6 1082.3Z" fill="#00ffa2" stroke="#00ffa2"/>
<path d="M680.9 1099.4L697.1 1095.1L679 1083.2L662.9 1088Z" fill="#00ffbb" stroke="#00ffbb"/>
<path d="M715.4 1107.1L731.3 1103.4L713.1 1090.8L697.1 1095.1Z" fill="#00ffd9" stroke="#00ffd9"/>
<path d="M749.8 1116.2L765.6 1113.1L747.1 1099.8L731.3 1103.4Z" fill="#00fffc" stroke="#00fffc"/>
<path d="M784.2 1126.6L799.8 1124.2L781.1 1110.1L765.6 1113.1Z" fill="#00daff" stroke="#00daff"/>
<path d="M818.6 1138.4L834 1136.5L815.1 1121.8L799.8 1124.2Z" fill="#00adff" stroke="#00adff"/>
<path d="M177.9 1145.6L197.2 1131.6L181.7 1129.5L162.5 1144Z" fill="#00a9ff" stroke="#00a9ff"/>
<path d="M212.8 1133.8L231.8 1120.6L216.2 1117.8L197.2 1131.6Z" fill="#00d6ff" stroke="#00d6ff"/>
<path d="M247.6 1123.4L266.5 1110.9L250.6 1107.6L231.8 1120.6Z" fill="#00fdff" stroke="#00fdff"/>
<path d="M282.5 1114.4L301.1 1102.6L285.1 1098.6L266.5 1110.9Z" fill="#00ffde" stroke="#00ffde"/>
<path d="M317.3 1106.7L335.7 1095.6L319.5 1091L301.1 1102.6Z" fill="#00ffc0" stroke="#00ffc0"/>
<path d="M352.1 1100.3L370.3 1090L353.9 1084.7L335.7 1095.6Z" fill="#00ffa8" stroke="#00ffa8"/>
<path d="M386.9 1095.3L404.9 1085.6L388.3 1079.7L370.3 1090Z" fill="#00ff95" stroke="#00ff95"/>
<path d="M421.6 1091.6L439.4 1082.7L422.7 1076.1L404.9 1085.6Z" fill="#00ff87" stroke="#00ff87"/>
<path d="M456.4 1089.3L474 1081L457 1073.8L439.4 1082.7Z" fill="#00ff7e" stroke="#00ff7e"/>
<path d="M491.1 1088.3L508.5 1080.7L491.4 1072.8L474 1081Z" fill="#00ff7a" stroke="#00ff7a"/>
<path d="M525.9 1088.7L543 1081.8L525.7 1073.2L508.5 1080.7Z" fill="#00ff7c" stroke="#00ff7c"/>
<path d="M560.6 1090.4L577.5 1084.2L560 1074.9L543 1081.8Z" fill="#00ff83" stroke="#00ff83"/>
<path d="M595.3 1093.5L612 1087.9L594.3 1078L577.5 1084.2Z" fill="#00ff8e" stroke="#00ff8e"/>
<path d="M629.9 1097.9L646.5 1093L628.6 1082.3L612 1087.9Z" fill="#00ff9f" stroke="#00ff9f"/>
<path d="M664.6 1103.7L680.9 1099.4L662.9 1088L646.5 1093Z" fill="#00ffb5" stroke="#00ffb5"/>
<path d="M699.3 1110.8L715.4 1107.1L697.1 1095.1L680.9 1099.4Z" fill="#00ffd0" stroke="#00ffd0"/>
<path d="M733.9 1119.3L749.8 1116.2L731.3 1103.4L715.4 1107.1Z" fill="#00fff1" stroke="#00fff1"/>
<path d="M768.5 1129.1L784.2 1126.6L765.6 1113.1L749.8 1116.2Z" fill="#00e8ff" stroke="#00e8ff"/>
<path d="M803.1 1140.3L818.6 1138.4L799.8 1124.2L784.2 1126.6Z" fill="#00bdff" stroke="#00bdff"/>
<path d="M837.7 1152.8L853 1151.5L834 1136.5L818.6 1138.4Z" fill="#008dff" stroke="#008dff"/>
<path d="M193.5 1147.2L212.8 1133.8L197.2 1131.6L177.9 1145.6Z" fill="#00baff" stroke="#00baff"/>
<path d="M228.6 1136.1L247.6 1123.4L231.8 1120.6L212.8 1133.8Z" fill="#00e4ff" stroke="#00e4ff"/>
<path d="M263.6 1126.3L282.5 1114.4L266.5 1110.9L247.6 1123.4Z" fill="#00fff4" stroke="#00fff4"/>
<path d="M298.6 1117.9L317.3 1106.7L301.1 1102.6L282.5 1114.4Z" fill="#00ffd4" stroke="#00ffd4"/>
<path d="M333.7 1110.8L352.1 1100.3L335.7 1095.6L317.3 1106.7Z" fill="#00ffba" stroke="#00ffba"/>
<path d="M368.7 1105.1L386.9 1095.3L370.3 1090L352.1 1100.3Z" fill="#00ffa4" stroke="#00ffa4"/>
<path d="M403.6 1100.7L421.6 1091.6L404.9 1085.6L386.9 1095.3Z" fill="#00ff93" stroke="#00ff93"/>
<path d="M438.6 1097.7L456.4 1089.3L439.4 1082.7L421.6 1091.6Z" fill="#00ff88" stroke="#00ff88"/>
<path d="M473.6 1096L491.1 1088.3L474 1081L456.4 1089.3Z" fill="#00ff81" stroke="#00ff81"/>
<path d="M508.5 1095.7L525.9 1088.7L508.5 1080.7L491.1 1088.3Z" fill="#00ff80" stroke="#00ff80"/>
<path d="M543.4 1096.8L560.6 1090.4L543 1081.8L525.9 1088.7Z" fill="#00ff84" stroke="#00ff84"/>
<path d="M578.3 1099.2L595.3 1093.5L577.5 1084.2L560.6 1090.4Z" fill="#00ff8e" stroke="#00ff8e"/>
<path d="M613.2 1103L629.9 1097.9L612 1087.9L595.3 1093.5Z" fill="#00ff9c" stroke="#00ff9c"/>
<path d="M648.1 1108.1L664.6 1103.7L646.5 1093L629.9 1097.9Z" fill="#00ffaf" stroke="#00ffaf"/>
<path d="M682.9 1114.6L699.3 1110.8L680.9 1099.4L664.6 1103.7Z" fill="#00ffc8" stroke="#00ffc8"/>
<path d="M717.8 1122.4L733.9 1119.3L715.4 1107.1L699.3 1110.8Z" fill="#00ffe6" stroke="#00ffe6"/>
<path d="M752.6 1131.6L768.5 1129.1L749.8 1116.2L733.9 1119.3Z" fill="#00f5ff" stroke="#00f5ff"/>
<path d="M787.4 1142.1L803.1 1140.3L784.2 1126.6L768.5 1129.1Z" fill="#00cdff" stroke="#00cdff"/>
<path d="M822.2 1154.1L837.7 1152.8L818.6 1138.4L803.1 1140.3Z" fill="#00a0ff" stroke="#00a0ff"/>
<path d="M209.3 1148.9L228.6 1136.1L212.8 1133.8L193.5 1147.2Z" fill="#00cbff" stroke="#00cbff"/>
<path d="M244.6 1138.3L263.6 1126.3L247.6 1123.4L228.6 1136.1Z" fill="#00f3ff" stroke="#00f3ff"/>
<path d="M279.8 1129.2L298.6 1117.9L282.5 1114.4L263.6 1126.3Z" fill="#00ffe8" stroke="#00ffe8"/>
<path d="M315 1121.4L333.7 1110.8L317.3 1106.7L298.6 1117.9Z" fill="#00ffcb" stroke="#00ffcb"/>
<path d="M350.2 1114.9L368.7 1105.1L352.1 1100.3L333.7 1110.8Z" fill="#00ffb3" stroke="#00ffb3"/>
<path d="M385.4 1109.9L403.6 1100.7L386.9 1095.3L368.7 1105.1Z" fill="#00ff9f" stroke="#00ff9f"/>
<path d="M420.6 1106.1L438.6 1097.7L421.6 1091.6L403.6 1100.7Z" fill="#00ff91" stroke="#00ff91"/>
<path d="M455.8 1103.8L473.6 1096L456.4 1089.3L438.6 1097.7Z" fill="#00ff89" stroke="#00ff89"/>
<path d="M490.9 1102.8L508.5 1095.7L491.1 1088.3L473.6 1096Z" fill="#00ff85" stroke="#00ff85"/>
<path d="M526 1103.2L543.4 1096.8L525.9 1088.7L508.5 1095.7Z" fill="#00ff86" stroke="#00ff86"/>
<path d="M561.2 1104.9L578.3 1099.2L560.6 1090.4L543.4 1096.8Z" fill="#00ff8d" stroke="#00ff8d"/>
<path d="M596.3 1108.1L613.2 1103L595.3 1093.5L578.3 1099.2Z" fill="#00ff99" stroke="#00ff99"/>
<path d="M631.3 1112.5L648.1 1108.1L629.9 1097.9L613.2 1103Z" fill="#00ffaa" stroke="#00ffaa"/>
<path d="M666.4 1118.4L682.9 1114.6L664.6 1103.7L648.1 1108.1Z" fill="#00ffc0" stroke="#00ffc0"/>
<path d="M701.5 1125.6L717.8 1122.4L699.3 1110.8L682.9 1114.6Z" fill="#00ffdb" stroke="#00ffdb"/>
<path d="M736.5 1134.1L752.6 1131.6L733.9 1119.3L717.8 1122.4Z" fill="#00fffb" stroke="#00fffb"/>
<path d="M771.5 1144.1L787.4 1142.1L768.5 1129.1L752.6 1131.6Z" fill="#00ddff" stroke="#00ddff"/>
<path d="M806.5 1155.3L822.2 1154.1L803.1 1140.3L787.4 1142.1Z" fill="#00b3ff" stroke="#00b3ff"/>
<path d="M225.3 1150.5L244.6 1138.3L228.6 1136.1L209.3 1148.9Z" fill="#00ddff" stroke="#00ddff"/>
<path d="M260.7 1140.6L279.8 1129.2L263.6 1126.3L244.6 1138.3Z" fill="#00fffc" stroke="#00fffc"/>
<path d="M296.2 1132.1L315 1121.4L298.6 1117.9L279.8 1129.2Z" fill="#00ffdc" stroke="#00ffdc"/>
<path d="M331.6 1124.9L350.2 1114.9L333.7 1110.8L315 1121.4Z" fill="#00ffc1" stroke="#00ffc1"/>
<path d="M367 1119.1L385.4 1109.9L368.7 1105.1L350.2 1114.9Z" fill="#00ffac" stroke="#00ffac"/>
<path d="M402.4 1114.7L420.6 1106.1L403.6 1100.7L385.4 1109.9Z" fill="#00ff9b" stroke="#00ff9b"/>
<path d="M437.8 1111.7L455.8 1103.8L438.6 1097.7L420.6 1106.1Z" fill="#00ff90" stroke="#00ff90"/>
<path d="M473.1 1110L490.9 1102.8L473.6 1096L455.8 1103.8Z" fill="#00ff89" stroke="#00ff89"/>
<path d="M508.5 1109.7L526 1103.2L508.5 1095.7L490.9 1102.8Z" fill="#00ff88" stroke="#00ff88"/>
<path d="M543.8 1110.8L561.2 1104.9L543.4 1096.8L526 1103.2Z" fill="#00ff8c" stroke="#00ff8c"/>
<path d="M579.1 1113.2L596.3 1108.1L578.3 1099.2L561.2 1104.9Z" fill="#00ff95" stroke="#00ff95"/>
<path d="M614.4 1117L631.3 1112.5L613.2 1103L596.3 1108.1Z" fill="#00ffa4" stroke="#00ffa4"/>
<path d="M649.7 1122.2L666.4 1118.4L648.1 1108.1L631.3 1112.5Z" fill="#00ffb7" stroke="#00ffb7"/>
<path d="M685 1128.8L701.5 1125.6L682.9 1114.6L666.4 1118.4Z" fill="#00ffd0" stroke="#00ffd0"/>
<path d="M720.2 1136.7L736.5 1134.1L717.8 1122.4L701.5 1125.6Z" fill="#00ffee" stroke="#00ffee"/>
<path d="M755.5 1146L771.5 1144.1L752.6 1131.6L736.5 1134.1Z" fill="#00edff" stroke="#00edff"/>
<path d="M790.7 1156.7L806.5 1155.3L787.4 1142.1L771.5 1144.1Z" fill="#00c5ff" stroke="#00c5ff"/>
<path d="M241.4 1152.2L260.7 1140.6L244.6 1138.3L225.3 1150.5Z" fill="#00eeff" stroke="#00eeff"/>
<path d="M277.1 1142.9L296.2 1132.1L279.8 1129.2L260.7 1140.6Z" fill="#00ffee" stroke="#00ffee"/>
<path d="M312.7 1135L331.6 1124.9L315 1121.4L296.2 1132.1Z" fill="#00ffd0" stroke="#00ffd0"/>
<path d="M348.4 1128.5L367 1119.1L350.2 1114.9L331.6 1124.9Z" fill="#00ffb8" stroke="#00ffb8"/>
<path d="M384 1123.4L402.4 1114.7L385.4 1109.9L367 1119.1Z" fill="#00ffa5" stroke="#00ffa5"/>
<path d="M419.6 1119.6L437.8 1111.7L420.6 1106.1L402.4 1114.7Z" fill="#00ff97" stroke="#00ff97"/>
<path d="M455.1 1117.3L473.1 1110L455.8 1103.8L437.8 1111.7Z" fill="#00ff8e" stroke="#00ff8e"/>
<path d="M490.7 1116.3L508.5 1109.7L490.9 1102.8L473.1 1110Z" fill="#00ff8a" stroke="#00ff8a"/>
<path d="M526.2 1116.6L543.8 1110.8L526 1103.2L508.5 1109.7Z" fill="#00ff8c" stroke="#00ff8c"/>
<path d="M561.8 1118.4L579.1 1113.2L561.2 1104.9L543.8 1110.8Z" fill="#00ff92" stroke="#00ff92"/>
<path d="M597.3 1121.6L614.4 1117L596.3 1108.1L579.1 1113.2Z" fill="#00ff9e" stroke="#00ff9e"/>
<path d="M632.8 1126.1L649.7 1122.2L631.3 1112.5L614.4 1117Z" fill="#00ffaf" stroke="#00ffaf"/>
<path d="M668.3 1132L685 1128.8L666.4 1118.4L649.7 1122.2Z" fill="#00ffc5" stroke="#00ffc5"/>
<path d="M703.7 1139.3L720.2 1136.7L701.5 1125.6L685 1128.8Z" fill="#00ffe0" stroke="#00ffe0"/>
<path d="M739.2 1147.9L755.5 1146L736.5 1134.1L720.2 1136.7Z" fill="#00fdff" stroke="#00fdff"/>
<path d="M774.6 1158L790.7 1156.7L771.5 1144.1L755.5 1146Z" fill="#00d8ff" stroke="#00d8ff"/>
<path d="M257.8 1153.9L277.1 1142.9L260.7 1140.6L241.4 1152.2Z" fill="#00ffff" stroke="#00ffff"/>
<path d="M293.6 1145.3L312.7 1135L296.2 1132.1L277.1 1142.9Z" fill="#00ffdf" stroke="#00ffdf"/>
<path d="M329.5 1138L348.4 1128.5L331.6 1124.9L312.7 1135Z" fill="#00ffc4" stroke="#00ffc4"/>
<path d="M365.3 1132.2L384 1123.4L367 1119.1L348.4 1128.5Z" fill="#00ffae" stroke="#00ffae"/>
<path d="M401.1 1127.7L419.6 1119.6L402.4 1114.7L384 1123.4Z" fill="#00ff9e" stroke="#00ff9e"/>
<path d="M436.9 1124.6L455.1 1117.3L437.8 1111.7L419.6 1119.6Z" fill="#00ff92" stroke="#00ff92"/>
<path d="M472.7 1122.9L490.7 1116.3L473.1 1110L455.1 1117.3Z" fill="#00ff8c" stroke="#00ff8c"/>
<path d="M508.5 1122.6L526.2 1116.6L508.5 1109.7L490.7 1116.3Z" fill="#00ff8b" stroke="#00ff8b"/>
<path d="M544.2 1123.7L561.8 1118.4L543.8 1110.8L526.2 1116.6Z" fill="#00ff8f" stroke="#00ff8f"/>
<path d="M580 1126.2L597.3 1121.6L579.1 1113.2L561.8 1118.4Z" fill="#00ff98" stroke="#00ff98"/>
<path d="M615.7 1130L632.8 1126.1L614.4 1117L597.3 1121.6Z" fill="#00ffa6" stroke="#00ffa6"/>
<path d="M651.4 1135.3L668.3 1132L649.7 1122.2L632.8 1126.1Z" fill="#00ffba" stroke="#00ffba"/>
<path d="M687.1 1141.9L703.7 1139.3L685 1128.8L668.3 1132Z" fill="#00ffd3" stroke="#00ffd3"/>
<path d="M722.8 1149.9L739.2 1147.9L720.2 1136.7L703.7 1139.3Z" fill="#00fff0" stroke="#00fff0"/>
<path d="M758.4 1159.3L774.6 1158L755.5 1146L739.2 1147.9Z" fill="#00ebff" stroke="#00ebff"/>
<path d="M274.3 1155.6L293.6 1145.3L277.1 1142.9L257.8 1153.9Z" fill="#00ffee" stroke="#00ffee"/>
<path d="M310.4 1147.6L329.5 1138L312.7 1135L293.6 1145.3Z" fill="#00ffd0" stroke="#00ffd0"/>
<path d="M346.4 1141L365.3 1132.2L348.4 1128.5L329.5 1138Z" fill="#00ffb8" stroke="#00ffb8"/>
<path d="M382.5 1135.8L401.1 1127.7L384 1123.4L365.3 1132.2Z" fill="#00ffa5" stroke="#00ffa5"/>
<path d="M418.5 1132L436.9 1124.6L419.6 1119.6L401.1 1127.7Z" fill="#00ff97" stroke="#00ff97"/>
<path d="M454.5 1129.6L472.7 1122.9L455.1 1117.3L436.9 1124.6Z" fill="#00ff8e" stroke="#00ff8e"/>
<path d="M490.5 1128.6L508.5 1122.6L490.7 1116.3L472.7 1122.9Z" fill="#00ff8a" stroke="#00ff8a"/>
<path d="M526.5 1129L544.2 1123.7L526.2 1116.6L508.5 1122.6Z" fill="#00ff8c" stroke="#00ff8c"/>
<path d="M562.4 1130.8L580 1126.2L561.8 1118.4L544.2 1123.7Z" fill="#00ff92" stroke="#00ff92"/>
<path d="M598.4 1134L615.7 1130L597.3 1121.6L580 1126.2Z" fill="#00ff9e" stroke="#00ff9e"/>
<path d="M634.3 1138.6L651.4 1135.3L632.8 1126.1L615.7 1130Z" fill="#00ffaf" stroke="#00ffaf"/>
<path d="M670.2 1144.6L687.1 1141.9L668.3 1132L651.4 1135.3Z" fill="#00ffc5" stroke="#00ffc5"/>
<path d="M706.1 1151.9L722.8 1149.9L703.7 1139.3L687.1 1141.9Z" fill="#00ffe0" stroke="#00ffe0"/>
<path d="M742 1160.7L758.4 1159.3L739.2 1147.9L722.8 1149.9Z" fill="#00fdff" stroke="#00fdff"/>
<path d="M291.1 1157.4L310.4 1147.6L293.6 1145.3L274.3 1155.6Z" fill="#00ffdc" stroke="#00ffdc"/>
<path d="M327.3 1150L346.4 1141L329.5 1138L310.4 1147.6Z" fill="#00ffc2" stroke="#00ffc2"/>
<path d="M363.6 1144.1L382.5 1135.8L365.3 1132.2L346.4 1141Z" fill="#00ffac" stroke="#00ffac"/>
<path d="M399.9 1139.6L418.5 1132L401.1 1127.7L382.5 1135.8Z" fill="#00ff9b" stroke="#00ff9b"/>
<path d="M436.1 1136.5L454.5 1129.6L436.9 1124.6L418.5 1132Z" fill="#00ff90" stroke="#00ff90"/>
<path d="M472.3 1134.7L490.5 1128.6L472.7 1122.9L454.5 1129.6Z" fill="#00ff8a" stroke="#00ff8a"/>
<path d="M508.5 1134.4L526.5 1129L508.5 1122.6L490.5 1128.6Z" fill="#00ff88" stroke="#00ff88"/>
<path d="M544.7 1135.5L562.4 1130.8L544.2 1123.7L526.5 1129Z" fill="#00ff8c" stroke="#00ff8c"/>
<path d="M580.9 1138L598.4 1134L580 1126.2L562.4 1130.8Z" fill="#00ff96" stroke="#00ff96"/>
<path d="M617 1141.9L634.3 1138.6L615.7 1130L598.4 1134Z" fill="#00ffa4" stroke="#00ffa4"/>
<path d="M653.1 1147.2L670.2 1144.6L651.4 1135.3L634.3 1138.6Z" fill="#00ffb7" stroke="#00ffb7"/>
<path d="M689.3 1154L706.1 1151.9L687.1 1141.9L670.2 1144.6Z" fill="#00ffd0" stroke="#00ffd0"/>
<path d="M725.4 1162.1L742 1160.7L722.8 1149.9L706.1 1151.9Z" fill="#00ffee" stroke="#00ffee"/>
<path d="M308 1159.1L327.3 1150L310.4 1147.6L291.1 1157.4Z" fill="#00ffcb" stroke="#00ffcb"/>
<path d="M344.5 1152.4L363.6 1144.1L346.4 1141L327.3 1150Z" fill="#00ffb3" stroke="#00ffb3"/>
<path d="M381 1147.2L399.9 1139.6L382.5 1135.8L363.6 1144.1Z" fill="#00ffa0" stroke="#00ffa0"/>
<path d="M417.4 1143.3L436.1 1136.5L418.5 1132L399.9 1139.6Z" fill="#00ff92" stroke="#00ff92"/>
<path d="M453.9 1140.9L472.3 1134.7L454.5 1129.6L436.1 1136.5Z" fill="#00ff89" stroke="#00ff89"/>
<path d="M490.3 1139.9L508.5 1134.4L490.5 1128.6L472.3 1134.7Z" fill="#00ff85" stroke="#00ff85"/>
<path d="M526.7 1140.3L544.7 1135.5L526.5 1129L508.5 1134.4Z" fill="#00ff87" stroke="#00ff87"/>
<path d="M563.1 1142.1L580.9 1138L562.4 1130.8L544.7 1135.5Z" fill="#00ff8d" stroke="#00ff8d"/>
<path d="M599.5 1145.3L617 1141.9L598.4 1134L580.9 1138Z" fill="#00ff99" stroke="#00ff99"/>
<path d="M635.9 1150L653.1 1147.2L634.3 1138.6L617 1141.9Z" fill="#00ffaa" stroke="#00ffaa"/>
<path d="M672.2 1156L689.3 1154L670.2 1144.6L653.1 1147.2Z" fill="#00ffc0" stroke="#00ffc0"/>
<path d="M708.5 1163.5L725.4 1162.1L706.1 1151.9L689.3 1154Z" fill="#00ffdb" stroke="#00ffdb"/>
<path d="M325.2 1160.9L344.5 1152.4L327.3 1150L308 1159.1Z" fill="#00ffba" stroke="#00ffba"/>
<path d="M361.9 1154.9L381 1147.2L363.6 1144.1L344.5 1152.4Z" fill="#00ffa4" stroke="#00ffa4"/>
<path d="M398.6 1150.3L417.4 1143.3L399.9 1139.6L381 1147.2Z" fill="#00ff94" stroke="#00ff94"/>
<path d="M435.2 1147.2L453.9 1140.9L436.1 1136.5L417.4 1143.3Z" fill="#00ff88" stroke="#00ff88"/>
<path d="M471.9 1145.4L490.3 1139.9L472.3 1134.7L453.9 1140.9Z" fill="#00ff82" stroke="#00ff82"/>
<path d="M508.5 1145.1L526.7 1140.3L508.5 1134.4L490.3 1139.9Z" fill="#00ff81" stroke="#00ff81"/>
<path d="M545.2 1146.2L563.1 1142.1L544.7 1135.5L526.7 1140.3Z" fill="#00ff85" stroke="#00ff85"/>
<path d="M581.8 1148.8L599.5 1145.3L580.9 1138L563.1 1142.1Z" fill="#00ff8e" stroke="#00ff8e"/>
<path d="M618.4 1152.7L635.9 1150L617 1141.9L599.5 1145.3Z" fill="#00ff9c" stroke="#00ff9c"/>
<path d="M654.9 1158.1L672.2 1156L653.1 1147.2L635.9 1150Z" fill="#00ffb0" stroke="#00ffb0"/>
<path d="M691.5 1164.9L708.5 1163.5L689.3 1154L672.2 1156Z" fill="#00ffc8" stroke="#00ffc8"/>
<path d="M342.5 1162.7L361.9 1154.9L344.5 1152.4L325.2 1160.9Z" fill="#00ffa9" stroke="#00ffa9"/>
<path d="M379.5 1157.4L398.6 1150.3L381 1147.2L361.9 1154.9Z" fill="#00ff95" stroke="#00ff95"/>
<path d="M416.4 1153.5L435.2 1147.2L417.4 1143.3L398.6 1150.3Z" fill="#00ff87" stroke="#00ff87"/>
<path d="M453.3 1151L471.9 1145.4L453.9 1140.9L435.2 1147.2Z" fill="#00ff7f" stroke="#00ff7f"/>
<path d="M490.1 1150L508.5 1145.1L490.3 1139.9L471.9 1145.4Z" fill="#00ff7b" stroke="#00ff7b"/>
<path d="M527 1150.4L545.2 1146.2L526.7 1140.3L508.5 1145.1Z" fill="#00ff7c" stroke="#00ff7c"/>
<path d="M563.8 1152.2L581.8 1148.8L563.1 1142.1L545.2 1146.2Z" fill="#00ff83" stroke="#00ff83"/>
<path d="M600.7 1155.5L618.4 1152.7L599.5 1145.3L581.8 1148.8Z" fill="#00ff8f" stroke="#00ff8f"/>
<path d="M637.5 1160.2L654.9 1158.1L635.9 1150L618.4 1152.7Z" fill="#00ffa0" stroke="#00ffa0"/>
<path d="M674.3 1166.3L691.5 1164.9L672.2 1156L654.9 1158.1Z" fill="#00ffb6" stroke="#00ffb6"/>
<path d="M360.1 1164.5L379.5 1157.4L361.9 1154.9L342.5 1162.7Z" fill="#00ff97" stroke="#00ff97"/>
<path d="M397.3 1159.9L416.4 1153.5L398.6 1150.3L379.5 1157.4Z" fill="#00ff87" stroke="#00ff87"/>
<path d="M434.4 1156.7L453.3 1151L435.2 1147.2L416.4 1153.5Z" fill="#00ff7b" stroke="#00ff7b"/>
<path d="M471.5 1154.9L490.1 1150L471.9 1145.4L453.3 1151Z" fill="#00ff75" stroke="#00ff75"/>
<path d="M508.6 1154.6L527 1150.4L508.5 1145.1L490.1 1150Z" fill="#00ff74" stroke="#00ff74"/>
<path d="M545.7 1155.7L563.8 1152.2L545.2 1146.2L527 1150.4Z" fill="#00ff78" stroke="#00ff78"/>
<path d="M582.7 1158.3L600.7 1155.5L581.8 1148.8L563.8 1152.2Z" fill="#00ff81" stroke="#00ff81"/>
<path d="M619.8 1162.3L637.5 1160.2L618.4 1152.7L600.7 1155.5Z" fill="#00ff90" stroke="#00ff90"/>
<path d="M656.8 1167.8L674.3 1166.3L654.9 1158.1L637.5 1160.2Z" fill="#00ffa3" stroke="#00ffa3"/>
<path d="M377.9 1166.4L397.3 1159.9L379.5 1157.4L360.1 1164.5Z" fill="#00ff86" stroke="#00ff86"/>
<path d="M415.3 1162.4L434.4 1156.7L416.4 1153.5L397.3 1159.9Z" fill="#00ff78" stroke="#00ff78"/>
<path d="M452.6 1159.9L471.5 1154.9L453.3 1151L434.4 1156.7Z" fill="#00ff6f" stroke="#00ff6f"/>
<path d="M490 1158.9L508.6 1154.6L490.1 1150L471.5 1154.9Z" fill="#00ff6c" stroke="#00ff6c"/>
<path d="M527.3 1159.3L545.7 1155.7L527 1150.4L508.6 1154.6Z" fill="#00ff6d" stroke="#00ff6d"/>
<path d="M564.6 1161.2L582.7 1158.3L563.8 1152.2L545.7 1155.7Z" fill="#00ff74" stroke="#00ff74"/>
<path d="M601.9 1164.5L619.8 1162.3L600.7 1155.5L582.7 1158.3Z" fill="#00ff7f" stroke="#00ff7f"/>
<path d="M639.1 1169.2L656.8 1167.8L637.5 1160.2L619.8 1162.3Z" fill="#00ff90" stroke="#00ff90"/>
<path d="M395.9 1168.3L415.3 1162.4L397.3 1159.9L377.9 1166.4Z" fill="#00ff75" stroke="#00ff75"/>
<path d="M433.5 1165L452.6 1159.9L434.4 1156.7L415.3 1162.4Z" fill="#00ff69" stroke="#00ff69"/>
<path d="M471.1 1163.2L490 1158.9L471.5 1154.9L452.6 1159.9Z" fill="#00ff63" stroke="#00ff63"/>
<path d="M508.7 1162.9L527.3 1159.3L508.6 1154.6L490 1158.9Z" fill="#00ff62" stroke="#00ff62"/>
<path d="M546.2 1164.1L564.6 1161.2L545.7 1155.7L527.3 1159.3Z" fill="#00ff66" stroke="#00ff66"/>
<path d="M583.7 1166.6L601.9 1164.5L582.7 1158.3L564.6 1161.2Z" fill="#00ff6f" stroke="#00ff6f"/>
<path d="M621.2 1170.7L639.1 1169.2L619.8 1162.3L601.9 1164.5Z" fill="#00ff7e" stroke="#00ff7e"/>
<path d="M414.2 1170.2L433.5 1165L415.3 1162.4L395.9 1168.3Z" fill="#00ff64" stroke="#00ff64"/>
<path d="M452 1167.6L471.1 1163.2L452.6 1159.9L433.5 1165Z" fill="#00ff5b" stroke="#00ff5b"/>
<path d="M489.8 1166.6L508.7 1162.9L490 1158.9L471.1 1163.2Z" fill="#00ff57" stroke="#00ff57"/>
<path d="M527.6 1167L546.2 1164.1L527.3 1159.3L508.7 1162.9Z" fill="#00ff59" stroke="#00ff59"/>
<path d="M565.4 1168.9L583.7 1166.6L564.6 1161.2L546.2 1164.1Z" fill="#00ff5f" stroke="#00ff5f"/>
<path d="M603.1 1172.2L621.2 1170.7L601.9 1164.5L583.7 1166.6Z" fill="#00ff6b" stroke="#00ff6b"/>
<path d="M432.7 1172.1L452 1167.6L433.5 1165L414.2 1170.2Z" fill="#00ff52" stroke="#00ff52"/>
<path d="M470.7 1170.3L489.8 1166.6L471.1 1163.2L452 1167.6Z" fill="#00ff4c" stroke="#00ff4c"/>
<path d="M508.8 1169.9L527.6 1167L508.7 1162.9L489.8 1166.6Z" fill="#00ff4b" stroke="#00ff4b"/>
<path d="M546.8 1171.1L565.4 1168.9L546.2 1164.1L527.6 1167Z" fill="#00ff4f" stroke="#00ff4f"/>
<path d="M584.8 1173.7L603.1 1172.2L583.7 1166.6L565.4 1168.9Z" fill="#00ff58" stroke="#00ff58"/>
<path d="M451.4 1174L470.7 1170.3L452 1167.6L432.7 1172.1Z" fill="#00ff41" stroke="#00ff41"/>
<path d="M489.7 1172.9L508.8 1169.9L489.8 1166.6L470.7 1170.3Z" fill="#00ff3d" stroke="#00ff3d"/>
<path d="M527.9 1173.4L546.8 1171.1L527.6 1167L508.8 1169.9Z" fill="#00ff3f" stroke="#00ff3f"/>
<path d="M566.2 1175.3L584.8 1173.7L565.4 1168.9L546.8 1171.1Z" fill="#00ff45" stroke="#00ff45"/>
<path d="M470.3 1176L489.7 1172.9L470.7 1170.3L451.4 1174Z" fill="#00ff30" stroke="#00ff30"/>
<path d="M508.9 1175.7L527.9 1173.4L508.8 1169.9L489.7 1172.9Z" fill="#00ff2f" stroke="#00ff2f"/>
<path d="M547.4 1176.8L566.2 1175.3L546.8 1171.1L527.9 1173.4Z" fill="#00ff33" stroke="#00ff33"/>
<path d="M489.5 1178L508.9 1175.7L489.7 1172.9L470.3 1176Z" fill="#00ff1f" stroke="#00ff1f"/>
<path d="M528.3 1178.4L547.4 1176.8L527.9 1173.4L508.9 1175.7Z" fill="#00ff20" stroke="#00ff20"/>
<path d="M509 1180L528.3 1178.4L508.9 1175.7L489.5 1178Z" fill="#00ff0d" stroke="#00ff0d"/>
</g>
<g stroke="#000" stroke-width="2.25" fill="none" stroke-linejoin="round">
<path d="M509 1180L489.5 1178L470.3 1176L451.4 1174L432.7 1172.1L414.2 1170.2L395.9 1168.3L377.9 1166.4L360.1 1164.5L342.5 1162.7L325.2 1160.9L308 1159.1L291.1 1157.4L274.3 1155.6L257.8 1153.9L241.4 1152.2L225.3 1150.5L209.3 1148.9L193.5 1147.2L177.9 1145.6L162.5 1144"/>
<path d="M509 1180L528.3 1178.4L547.4 1176.8L566.2 1175.3L584.8 1173.7L603.1 1172.2L621.2 1170.7L639.1 1169.2L656.8 1167.8L674.3 1166.3L691.5 1164.9L708.5 1163.5L725.4 1162.1L742 1160.7L758.4 1159.3L774.6 1158L790.7 1156.7L806.5 1155.3L822.2 1154.1L837.7 1152.8L853 1151.5"/>
<path d="M528.3 1178.4L508.9 1175.7L489.7 1172.9L470.7 1170.3L452 1167.6L433.5 1165L415.3 1162.4L397.3 1159.9L379.5 1157.4L361.9 1154.9L344.5 1152.4L327.3 1150L310.4 1147.6L293.6 1145.3L277.1 1142.9L260.7 1140.6L244.6 1138.3L228.6 1136.1L212.8 1133.8L197.2 1131.6L181.7 1129.5"/>
<path d="M489.5 1178L508.9 1175.7L527.9 1173.4L546.8 1171.1L565.4 1168.9L583.7 1166.6L601.9 1164.5L619.8 1162.3L637.5 1160.2L654.9 1158.1L672.2 1156L689.3 1154L706.1 1151.9L722.8 1149.9L739.2 1147.9L755.5 1146L771.5 1144.1L787.4 1142.1L803.1 1140.3L818.6 1138.4L834 1136.5"/>
<path d="M547.4 1176.8L527.9 1173.4L508.8 1169.9L489.8 1166.6L471.1 1163.2L452.6 1159.9L434.4 1156.7L416.4 1153.5L398.6 1150.3L381 1147.2L363.6 1144.1L346.4 1141L329.5 1138L312.7 1135L296.2 1132.1L279.8 1129.2L263.6 1126.3L247.6 1123.4L231.8 1120.6L216.2 1117.8L200.8 1115.1"/>
<path d="M470.3 1176L489.7 1172.9L508.8 1169.9L527.6 1167L546.2 1164.1L564.6 1161.2L582.7 1158.3L600.7 1155.5L618.4 1152.7L635.9 1150L653.1 1147.2L670.2 1144.6L687.1 1141.9L703.7 1139.3L720.2 1136.7L736.5 1134.1L752.6 1131.6L768.5 1129.1L784.2 1126.6L799.8 1124.2L815.1 1121.8"/>
<path d="M566.2 1175.3L546.8 1171.1L527.6 1167L508.7 1162.9L490 1158.9L471.5 1154.9L453.3 1151L435.2 1147.2L417.4 1143.3L399.9 1139.6L382.5 1135.8L365.3 1132.2L348.4 1128.5L331.6 1124.9L315 1121.4L298.6 1117.9L282.5 1114.4L266.5 1110.9L250.6 1107.6L235 1104.2L219.6 1100.9"/>
<path d="M451.4 1174L470.7 1170.3L489.8 1166.6L508.7 1162.9L527.3 1159.3L545.7 1155.7L563.8 1152.2L581.8 1148.8L599.5 1145.3L617 1141.9L634.3 1138.6L651.4 1135.3L668.3 1132L685 1128.8L701.5 1125.6L717.8 1122.4L733.9 1119.3L749.8 1116.2L765.6 1113.1L781.1 1110.1L796.5 1107.1"/>
<path d="M584.8 1173.7L565.4 1168.9L546.2 1164.1L527.3 1159.3L508.6 1154.6L490.1 1150L471.9 1145.4L453.9 1140.9L436.1 1136.5L418.5 1132L401.1 1127.7L384 1123.4L367 1119.1L350.2 1114.9L333.7 1110.8L317.3 1106.7L301.1 1102.6L285.1 1098.6L269.3 1094.6L253.6 1090.7L238.1 1086.8"/>
<path d="M432.7 1172.1L452 1167.6L471.1 1163.2L490 1158.9L508.6 1154.6L527 1150.4L545.2 1146.2L563.1 1142.1L580.9 1138L598.4 1134L615.7 1130L632.8 1126.1L649.7 1122.2L666.4 1118.4L682.9 1114.6L699.3 1110.8L715.4 1107.1L731.3 1103.4L747.1 1099.8L762.7 1096.2L778.1 1092.7"/>
<path d="M603.1 1172.2L583.7 1166.6L564.6 1161.2L545.7 1155.7L527 1150.4L508.5 1145.1L490.3 1139.9L472.3 1134.7L454.5 1129.6L436.9 1124.6L419.6 1119.6L402.4 1114.7L385.4 1109.9L368.7 1105.1L352.1 1100.3L335.7 1095.6L319.5 1091L303.5 1086.4L287.7 1081.9L272 1077.4L256.5 1072.9"/>
<path d="M414.2 1170.2L433.5 1165L452.6 1159.9L471.5 1154.9L490.1 1150L508.5 1145.1L526.7 1140.3L544.7 1135.5L562.4 1130.8L580 1126.2L597.3 1121.6L614.4 1117L631.3 1112.5L648.1 1108.1L664.6 1103.7L680.9 1099.4L697.1 1095.1L713.1 1090.8L728.9 1086.6L744.5 1082.5L759.9 1078.4"/>
<path d="M621.2 1170.7L601.9 1164.5L582.7 1158.3L563.8 1152.2L545.2 1146.2L526.7 1140.3L508.5 1134.4L490.5 1128.6L472.7 1122.9L455.1 1117.3L437.8 1111.7L420.6 1106.1L403.6 1100.7L386.9 1095.3L370.3 1090L353.9 1084.7L337.7 1079.5L321.7 1074.3L305.8 1069.2L290.2 1064.2L274.7 1059.2"/>
<path d="M395.9 1168.3L415.3 1162.4L434.4 1156.7L453.3 1151L471.9 1145.4L490.3 1139.9L508.5 1134.4L526.5 1129L544.2 1123.7L561.8 1118.4L579.1 1113.2L596.3 1108.1L613.2 1103L629.9 1097.9L646.5 1093L662.9 1088L679 1083.2L695 1078.4L710.8 1073.6L726.5 1068.9L741.9 1064.3"/>
<path d="M639.1 1169.2L619.8 1162.3L600.7 1155.5L581.8 1148.8L563.1 1142.1L544.7 1135.5L526.5 1129L508.5 1122.6L490.7 1116.3L473.1 1110L455.8 1103.8L438.6 1097.7L421.6 1091.6L404.9 1085.6L388.3 1079.7L371.9 1073.9L355.7 1068.1L339.7 1062.4L323.8 1056.7L308.2 1051.1L292.7 1045.6"/>
<path d="M377.9 1166.4L397.3 1159.9L416.4 1153.5L435.2 1147.2L453.9 1140.9L472.3 1134.7L490.5 1128.6L508.5 1122.6L526.2 1116.6L543.8 1110.8L561.2 1104.9L578.3 1099.2L595.3 1093.5L612 1087.9L628.6 1082.3L645 1076.8L661.2 1071.4L677.2 1066L693 1060.7L708.7 1055.5L724.1 1050.3"/>
<path d="M656.8 1167.8L637.5 1160.2L618.4 1152.7L599.5 1145.3L580.9 1138L562.4 1130.8L544.2 1123.7L526.2 1116.6L508.5 1109.7L490.9 1102.8L473.6 1096L456.4 1089.3L439.4 1082.7L422.7 1076.1L406.1 1069.6L389.7 1063.2L373.5 1056.9L357.5 1050.6L341.6 1044.4L326 1038.2L310.5 1032.2"/>
<path d="M360.1 1164.5L379.5 1157.4L398.6 1150.3L417.4 1143.3L436.1 1136.5L454.5 1129.6L472.7 1122.9L490.7 1116.3L508.5 1109.7L526 1103.2L543.4 1096.8L560.6 1090.4L577.5 1084.2L594.3 1078L610.9 1071.8L627.3 1065.8L643.5 1059.8L659.5 1053.9L675.4 1048L691 1042.2L706.5 1036.5"/>
<path d="M674.3 1166.3L654.9 1158.1L635.9 1150L617 1141.9L598.4 1134L580 1126.2L561.8 1118.4L543.8 1110.8L526 1103.2L508.5 1095.7L491.1 1088.3L474 1081L457 1073.8L440.3 1066.7L423.7 1059.6L407.3 1052.6L391.1 1045.7L375.1 1038.9L359.2 1032.2L343.5 1025.5L328 1018.9"/>
<path d="M342.5 1162.7L361.9 1154.9L381 1147.2L399.9 1139.6L418.5 1132L436.9 1124.6L455.1 1117.3L473.1 1110L490.9 1102.8L508.5 1095.7L525.9 1088.7L543 1081.8L560 1074.9L576.8 1068.2L593.4 1061.5L609.8 1054.8L626 1048.3L642.1 1041.8L657.9 1035.4L673.6 1029.1L689.1 1022.8"/>
<path d="M691.5 1164.9L672.2 1156L653.1 1147.2L634.3 1138.6L615.7 1130L597.3 1121.6L579.1 1113.2L561.2 1104.9L543.4 1096.8L525.9 1088.7L508.5 1080.7L491.4 1072.8L474.4 1065.1L457.7 1057.3L441.1 1049.7L424.7 1042.2L408.5 1034.7L392.5 1027.4L376.6 1020.1L360.9 1012.9L345.4 1005.7"/>
<path d="M325.2 1160.9L344.5 1152.4L363.6 1144.1L382.5 1135.8L401.1 1127.7L419.6 1119.6L437.8 1111.7L455.8 1103.8L473.6 1096L491.1 1088.3L508.5 1080.7L525.7 1073.2L542.7 1065.8L559.5 1058.5L576.1 1051.2L592.5 1044L608.7 1036.9L624.8 1029.9L640.7 1022.9L656.4 1016.1L671.9 1009.3"/>
<path d="M708.5 1163.5L689.3 1154L670.2 1144.6L651.4 1135.3L632.8 1126.1L614.4 1117L596.3 1108.1L578.3 1099.2L560.6 1090.4L543 1081.8L525.7 1073.2L508.6 1064.8L491.6 1056.4L474.9 1048.1L458.3 1039.9L441.9 1031.9L425.7 1023.9L409.7 1016L393.8 1008.1L378.1 1000.4L362.6 992.7"/>
<path d="M308 1159.1L327.3 1150L346.4 1141L365.3 1132.2L384 1123.4L402.4 1114.7L420.6 1106.1L438.6 1097.7L456.4 1089.3L474 1081L491.4 1072.8L508.6 1064.8L525.5 1056.8L542.4 1048.9L559 1041L575.4 1033.3L591.6 1025.7L607.7 1018.1L623.6 1010.6L639.3 1003.2L654.9 995.9"/>
<path d="M725.4 1162.1L706.1 1151.9L687.1 1141.9L668.3 1132L649.7 1122.2L631.3 1112.5L613.2 1103L595.3 1093.5L577.5 1084.2L560 1074.9L542.7 1065.8L525.5 1056.8L508.6 1047.8L491.9 1039L475.3 1030.3L458.9 1021.6L442.7 1013.1L426.7 1004.7L410.8 996.3L395.2 988.1L379.7 979.9"/>
<path d="M291.1 1157.4L310.4 1147.6L329.5 1138L348.4 1128.5L367 1119.1L385.4 1109.9L403.6 1100.7L421.6 1091.6L439.4 1082.7L457 1073.8L474.4 1065.1L491.6 1056.4L508.6 1047.8L525.4 1039.4L542 1031L558.5 1022.7L574.7 1014.5L590.8 1006.4L606.7 998.4L622.5 990.5L638 982.7"/>
<path d="M742 1160.7L722.8 1149.9L703.7 1139.3L685 1128.8L666.4 1118.4L648.1 1108.1L629.9 1097.9L612 1087.9L594.3 1078L576.8 1068.2L559.5 1058.5L542.4 1048.9L525.4 1039.4L508.7 1030L492.1 1020.7L475.7 1011.5L459.5 1002.5L443.5 993.5L427.7 984.6L412 975.8L396.5 967.2"/>
<path d="M274.3 1155.6L293.6 1145.3L312.7 1135L331.6 1124.9L350.2 1114.9L368.7 1105.1L386.9 1095.3L404.9 1085.6L422.7 1076.1L440.3 1066.7L457.7 1057.3L474.9 1048.1L491.9 1039L508.7 1030L525.3 1021.1L541.8 1012.3L558 1003.5L574.1 994.9L590 986.4L605.8 977.9L621.4 969.6"/>
<path d="M758.4 1159.3L739.2 1147.9L720.2 1136.7L701.5 1125.6L682.9 1114.6L664.6 1103.7L646.5 1093L628.6 1082.3L610.9 1071.8L593.4 1061.5L576.1 1051.2L559 1041L542 1031L525.3 1021.1L508.8 1011.3L492.4 1001.6L476.2 992L460.2 982.5L444.3 973.1L428.7 963.8L413.2 954.6"/>
<path d="M257.8 1153.9L277.1 1142.9L296.2 1132.1L315 1121.4L333.7 1110.8L352.1 1100.3L370.3 1090L388.3 1079.7L406.1 1069.6L423.7 1059.6L441.1 1049.7L458.3 1039.9L475.3 1030.3L492.1 1020.7L508.8 1011.3L525.2 1001.9L541.5 992.7L557.6 983.5L573.5 974.5L589.3 965.5L604.9 956.6"/>
<path d="M774.6 1158L755.5 1146L736.5 1134.1L717.8 1122.4L699.3 1110.8L680.9 1099.4L662.9 1088L645 1076.8L627.3 1065.8L609.8 1054.8L592.5 1044L575.4 1033.3L558.5 1022.7L541.8 1012.3L525.2 1001.9L508.9 991.7L492.7 981.5L476.7 971.5L460.8 961.6L445.1 951.8L429.6 942.1"/>
<path d="M241.4 1152.2L260.7 1140.6L279.8 1129.2L298.6 1117.9L317.3 1106.7L335.7 1095.6L353.9 1084.7L371.9 1073.9L389.7 1063.2L407.3 1052.6L424.7 1042.2L441.9 1031.9L458.9 1021.6L475.7 1011.5L492.4 1001.6L508.9 991.7L525.1 981.9L541.2 972.2L557.2 962.7L573 953.2L588.6 943.8"/>
<path d="M790.7 1156.7L771.5 1144.1L752.6 1131.6L733.9 1119.3L715.4 1107.1L697.1 1095.1L679 1083.2L661.2 1071.4L643.5 1059.8L626 1048.3L608.7 1036.9L591.6 1025.7L574.7 1014.5L558 1003.5L541.5 992.7L525.1 981.9L509 971.2L493 960.7L477.1 950.3L461.5 940L445.9 929.8"/>
<path d="M225.3 1150.5L244.6 1138.3L263.6 1126.3L282.5 1114.4L301.1 1102.6L319.5 1091L337.7 1079.5L355.7 1068.1L373.5 1056.9L391.1 1045.7L408.5 1034.7L425.7 1023.9L442.7 1013.1L459.5 1002.5L476.2 992L492.7 981.5L509 971.2L525.1 961.1L541 951L556.8 941L572.4 931.2"/>
<path d="M806.5 1155.3L787.4 1142.1L768.5 1129.1L749.8 1116.2L731.3 1103.4L713.1 1090.8L695 1078.4L677.2 1066L659.5 1053.9L642.1 1041.8L624.8 1029.9L607.7 1018.1L590.8 1006.4L574.1 994.9L557.6 983.5L541.2 972.2L525.1 961.1L509.1 950L493.2 939.1L477.6 928.3L462.1 917.6"/>
<path d="M209.3 1148.9L228.6 1136.1L247.6 1123.4L266.5 1110.9L285.1 1098.6L303.5 1086.4L321.7 1074.3L339.7 1062.4L357.5 1050.6L375.1 1038.9L392.5 1027.4L409.7 1016L426.7 1004.7L443.5 993.5L460.2 982.5L476.7 971.5L493 960.7L509.1 950L525 939.4L540.8 929L556.4 918.6"/>
<path d="M822.2 1154.1L803.1 1140.3L784.2 1126.6L765.6 1113.1L747.1 1099.8L728.9 1086.6L710.8 1073.6L693 1060.7L675.4 1048L657.9 1035.4L640.7 1022.9L623.6 1010.6L606.7 998.4L590 986.4L573.5 974.5L557.2 962.7L541 951L525 939.4L509.2 928L493.5 916.7L478.1 905.5"/>
<path d="M193.5 1147.2L212.8 1133.8L231.8 1120.6L250.6 1107.6L269.3 1094.6L287.7 1081.9L305.8 1069.2L323.8 1056.7L341.6 1044.4L359.2 1032.2L376.6 1020.1L393.8 1008.1L410.8 996.3L427.7 984.6L444.3 973.1L460.8 961.6L477.1 950.3L493.2 939.1L509.2 928L525 917L540.6 906.2"/>
<path d="M837.7 1152.8L818.6 1138.4L799.8 1124.2L781.1 1110.1L762.7 1096.2L744.5 1082.5L726.5 1068.9L708.7 1055.5L691 1042.2L673.6 1029.1L656.4 1016.1L639.3 1003.2L622.5 990.5L605.8 977.9L589.3 965.5L573 953.2L556.8 941L540.8 929L525 917L509.3 905.2L493.9 893.6"/>
<path d="M177.9 1145.6L197.2 1131.6L216.2 1117.8L235 1104.2L253.6 1090.7L272 1077.4L290.2 1064.2L308.2 1051.1L326 1038.2L343.5 1025.5L360.9 1012.9L378.1 1000.4L395.2 988.1L412 975.8L428.7 963.8L445.1 951.8L461.5 940L477.6 928.3L493.5 916.7L509.3 905.2L525 893.9"/>
<path d="M853 1151.5L834 1136.5L815.1 1121.8L796.5 1107.1L778.1 1092.7L759.9 1078.4L741.9 1064.3L724.1 1050.3L706.5 1036.5L689.1 1022.8L671.9 1009.3L654.9 995.9L638 982.7L621.4 969.6L604.9 956.6L588.6 943.8L572.4 931.2L556.4 918.6L540.6 906.2L525 893.9L509.5 881.8"/>
<path d="M162.5 1144L181.7 1129.5L200.8 1115.1L219.6 1100.9L238.1 1086.8L256.5 1072.9L274.7 1059.2L292.7 1045.6L310.5 1032.2L328 1018.9L345.4 1005.7L362.6 992.7L379.7 979.9L396.5 967.2L413.2 954.6L429.6 942.1L445.9 929.8L462.1 917.6L478.1 905.5L493.9 893.6L509.5 881.8"/>
</g>
<circle cx="673.2" cy="1003.8" r="5.9" fill="#b80000" stroke="#4a0000" stroke-width="1"/>
<circle cx="508" cy="1079" r="5.9" fill="#b80000" stroke="#4a0000" stroke-width="1"/>
<circle cx="508" cy="1071.8" r="5.9" fill="#b80000" stroke="#4a0000" stroke-width="1"/>
<circle cx="321.7" cy="1140" r="5.9" fill="#b80000" stroke="#4a0000" stroke-width="1"/>
<circle cx="694.6" cy="1157.8" r="5.9" fill="#b80000" stroke="#4a0000" stroke-width="1"/>
<circle cx="343.2" cy="999.2" r="7" fill="#fff" stroke="#000" stroke-width="3"/>
<text x="128.5" y="846.2" font-size="16" fill="#454545" text-anchor="middle" >14</text>
<text x="131.5" y="916.7" font-size="16" fill="#454545" text-anchor="middle" >12</text>
<text x="135" y="986.7" font-size="16" fill="#454545" text-anchor="middle" >10</text>
<text x="143" y="1057.7" font-size="16" fill="#454545" text-anchor="middle" >8</text>
<text x="146" y="1128.7" font-size="16" fill="#454545" text-anchor="middle" >6</text>
<text x="149.5" y="1202.7" font-size="16" fill="#454545" text-anchor="middle" >4</text>
<text x="154.5" y="1336.7" font-size="16" fill="#454545" text-anchor="middle" >3</text>
<text x="232.8" y="1376.7" font-size="16" fill="#454545" text-anchor="middle" >2.5</text>
<text x="325" y="1418.7" font-size="16" fill="#454545" text-anchor="middle" >2</text>
<text x="402.6" y="1459.4" font-size="16" fill="#454545" text-anchor="middle" >1.5</text>
<text x="493" y="1498.2" font-size="16" fill="#454545" text-anchor="middle" >1</text>
<text x="532" y="1498.2" font-size="16" fill="#454545" text-anchor="middle" >100</text>
<text x="616" y="1458.9" font-size="16" fill="#454545" text-anchor="middle" >200</text>
<text x="701" y="1418.9" font-size="16" fill="#454545" text-anchor="middle" >300</text>
<text x="785.5" y="1377.1" font-size="16" fill="#454545" text-anchor="middle" >400</text>
<text x="870.6" y="1337" font-size="16" fill="#454545" text-anchor="middle" >500</text>
<text x="76.4" y="1463" font-size="16.5" fill="#454545" textLength="264" lengthAdjust="spacingAndGlyphs" >C: Nozzle-to-substrate gap (mm)</text>
<text x="669" y="1463" font-size="16.5" fill="#454545" textLength="278" lengthAdjust="spacingAndGlyphs" >A: Traverse feed velocity (mm/min)</text>
<text x="77" y="1186.5" font-size="15.5" fill="#454545" textLength="192.5" lengthAdjust="spacingAndGlyphs" transform="rotate(-90 77 1186.5)" >Surface irregularity (Ra)</text>
<text x="15" y="805.5" font-size="48" fill="#000" class="s" >(c)</text>
</g>
<g id="pd">
<polygon points="1192.7,1310.5 1523.8,1185.5 1854.3,1310.5 1523.5,1470" fill="#636363" stroke="none" stroke-width="0" />
<g fill="none" stroke-width="2.2" stroke-linecap="round">
<polyline points="1347.5,1253.4 1346.1,1255.6 1344.4,1258.5 1342.4,1262 1340.1,1265.8 1337.5,1269.9 1334.6,1274 1331.4,1278 1328,1281.7 1324.2,1285.2 1320.1,1288.7 1315.6,1292.2 1310.9,1295.7 1305.9,1299.1 1300.8,1302.6 1295.6,1306 1290.4,1309.3 1284.7,1312.8 1278.3,1316.4 1271.6,1320.1 1264.9,1323.8 1258.4,1327.2 1252.5,1330.3 1247.6,1332.8 1244,1334.8" stroke="#10e030"/>
<polyline points="1519,1260.5 1514.1,1263 1507.6,1266.3 1499.8,1270.2 1491.2,1274.6 1482,1279.2 1472.5,1283.9 1463,1288.6 1454,1293 1445.2,1297.3 1436.2,1301.7 1427,1306.1 1417.7,1310.6 1408.2,1315 1398.6,1319.5 1388.9,1323.8 1379,1328 1368.4,1332.3 1356.7,1336.8 1344.6,1341.4 1332.5,1345.8 1321,1350 1310.6,1353.8 1301.9,1356.9 1295.4,1359.3" stroke="#00f060"/>
<polyline points="1667.7,1241.7 1669.4,1243.2 1671.3,1245.1 1673.6,1247.3 1676.3,1249.8 1679.5,1252.6 1683.3,1255.5 1687.7,1258.6 1692.8,1261.7 1698.7,1265 1705.5,1268.5 1712.9,1272.2 1720.8,1276.1 1729.2,1280 1737.8,1284 1746.6,1287.9 1755.4,1291.7 1764.9,1295.7 1775.6,1299.9 1786.8,1304.3 1798.1,1308.6 1808.9,1312.7 1818.7,1316.4 1826.9,1319.5 1833,1321.8" stroke="#00f060"/>
<polyline points="1350.5,1385.6 1354.5,1384.5 1359.8,1383 1366.1,1381.2 1373.2,1379.2 1380.7,1377 1388.3,1374.8 1395.9,1372.7 1403,1370.6 1409.9,1368.5 1416.9,1366.3 1423.9,1364.1 1431,1361.8 1438.2,1359.6 1445.4,1357.4 1452.7,1355.4 1460,1353.5 1467.4,1351.8 1474.8,1350.2 1482.3,1348.7 1489.8,1347.2 1497.4,1345.9 1504.9,1344.7 1512.5,1343.5 1520,1342.5 1527.5,1341.6 1535,1340.7 1542.5,1340 1550,1339.3 1557.5,1338.7 1565,1338.3 1572.5,1337.8 1580,1337.5 1587.5,1337.2 1595,1337 1602.5,1336.8 1610,1336.8 1617.5,1336.8 1625,1336.9 1632.5,1337.1 1640,1337.5 1647.5,1338 1654.9,1338.6 1662.4,1339.4 1669.8,1340.2 1677.3,1341.2 1684.8,1342.2 1692.4,1343.3 1700,1344.5 1708.2,1345.9 1717,1347.5 1726.2,1349.3 1735.2,1351.1 1743.9,1352.9 1751.6,1354.5 1758.1,1355.8 1763,1356.8" stroke="#00e6a0"/>
<polyline points="1404.3,1413.2 1408.6,1412.2 1414.2,1410.9 1420.9,1409.3 1428.4,1407.6 1436.3,1405.8 1444.5,1404 1452.5,1402.4 1460,1401 1467.3,1399.8 1474.7,1398.6 1482.2,1397.5 1489.7,1396.5 1497.3,1395.5 1504.9,1394.6 1512.5,1393.8 1520,1393 1527.5,1392.3 1535.1,1391.7 1542.7,1391.1 1550.3,1390.7 1557.9,1390.2 1565.4,1389.9 1572.7,1389.6 1580,1389.3 1587.1,1389.1 1594.1,1388.9 1601,1388.8 1607.8,1388.7 1614.6,1388.7 1621.3,1388.8 1628.1,1388.9 1635,1389 1642.3,1389.2 1650.1,1389.6 1658.1,1390 1666.1,1390.5 1673.6,1390.9 1680.4,1391.4 1686,1391.7 1690.3,1392" stroke="#00e6d0"/>
<polyline points="1463.1,1442 1466.3,1441.5 1470.4,1440.8 1475.4,1439.9 1480.9,1439 1486.9,1438 1493,1437.1 1499.1,1436.2 1505,1435.5 1510.9,1434.9 1516.9,1434.3 1523.1,1433.8 1529.4,1433.3 1535.8,1432.8 1542.2,1432.4 1548.6,1431.9 1555,1431.5 1561.7,1431.1 1569,1430.7 1576.4,1430.2 1583.8,1429.8 1590.8,1429.5 1597.1,1429.2 1602.4,1428.9 1606.4,1428.7" stroke="#00d8f0"/>
</g>
<g stroke="#3c3c3c" stroke-width="1.6" fill="none" stroke-linecap="square">
<path d="M1192.7 1310.5L1523.8 1185.5"/>
<path d="M1523.8 1185.5L1854.3 1310.5"/>
<path d="M1192.7 1310.5L1523.5 1470"/>
<path d="M1523.5 1470L1854.3 1310.5"/>
<path d="M1170.5 854.2L1187.7 1202"/>
<path d="M1187.7 1202L1192.7 1310.5"/>
<path d="M1523.8 775L1523.8 1185.5"/>
<path d="M1876.8 854.2L1860 1202"/>
<path d="M1860 1202L1854.3 1310.5"/>
<path d="M1170.5 854.2L1523.8 775"/>
<path d="M1523.8 775L1876.8 854.2"/>
<path d="M1173.9 923.8L1523.8 837.1"/>
<path d="M1523.8 837.1L1873.4 923.8"/>
<path d="M1177.4 993.4L1523.8 899.2"/>
<path d="M1523.8 899.2L1870 993.4"/>
<path d="M1180.8 1062.9L1523.8 961.3"/>
<path d="M1523.8 961.3L1866.7 1062.9"/>
<path d="M1184.3 1132.5L1523.8 1023.4"/>
<path d="M1523.8 1023.4L1863.3 1132.5"/>
<path d="M1187.7 1202L1523.8 1085.5"/>
<path d="M1523.8 1085.5L1860 1202"/>
<path d="M1258.8 834.4L1271.7 1172.9"/>
<path d="M1612 794.8L1607.8 1114.6"/>
<path d="M1347.1 814.6L1355.7 1143.8"/>
<path d="M1700.2 814.6L1691.9 1143.8"/>
<path d="M1435.4 794.8L1439.7 1114.6"/>
<path d="M1788.5 834.4L1775.9 1172.9"/>
</g>
<circle cx="1192.7" cy="1310.5" r="2.2" fill="#000" stroke="none" stroke-width="0"/>
<circle cx="1854.3" cy="1310.5" r="2.2" fill="#000" stroke="none" stroke-width="0"/>
<circle cx="1275.4" cy="1350.4" r="2.2" fill="#000" stroke="none" stroke-width="0"/>
<circle cx="1771.6" cy="1350.4" r="2.2" fill="#000" stroke="none" stroke-width="0"/>
<circle cx="1358.1" cy="1390.2" r="2.2" fill="#000" stroke="none" stroke-width="0"/>
<circle cx="1688.9" cy="1390.2" r="2.2" fill="#000" stroke="none" stroke-width="0"/>
<circle cx="1440.8" cy="1430.1" r="2.2" fill="#000" stroke="none" stroke-width="0"/>
<circle cx="1606.2" cy="1430.1" r="2.2" fill="#000" stroke="none" stroke-width="0"/>
<circle cx="1523.5" cy="1470" r="2.2" fill="#000" stroke="none" stroke-width="0"/>
<circle cx="1523.5" cy="1470" r="2.2" fill="#000" stroke="none" stroke-width="0"/>
<circle cx="1170.5" cy="854.2" r="2.2" fill="#000" stroke="none" stroke-width="0"/>
<circle cx="1173.9" cy="923.8" r="2.2" fill="#000" stroke="none" stroke-width="0"/>
<circle cx="1177.4" cy="993.4" r="2.2" fill="#000" stroke="none" stroke-width="0"/>
<circle cx="1180.8" cy="1062.9" r="2.2" fill="#000" stroke="none" stroke-width="0"/>
<circle cx="1184.3" cy="1132.5" r="2.2" fill="#000" stroke="none" stroke-width="0"/>
<circle cx="1187.7" cy="1202" r="2.2" fill="#000" stroke="none" stroke-width="0"/>
<g stroke-width="0.6" stroke-linejoin="round">
<path d="M1523.8 980.1L1539.2 976.7L1523.8 972.5L1508.3 975.7Z" fill="#00ff6e" stroke="#00ff6e"/>
<path d="M1508.2 983.6L1523.8 980.1L1508.3 975.7L1492.8 978.8Z" fill="#00ff68" stroke="#00ff68"/>
<path d="M1539.3 984.6L1554.7 980.9L1539.2 976.7L1523.8 980.1Z" fill="#00ff6d" stroke="#00ff6d"/>
<path d="M1492.4 987L1508.2 983.6L1492.8 978.8L1477 982.1Z" fill="#00ff63" stroke="#00ff63"/>
<path d="M1523.8 988.3L1539.3 984.6L1523.8 980.1L1508.2 983.6Z" fill="#00ff68" stroke="#00ff68"/>
<path d="M1555.1 989.1L1570.5 985.2L1554.7 980.9L1539.3 984.6Z" fill="#00ff6b" stroke="#00ff6b"/>
<path d="M1476.5 990.6L1492.4 987L1477 982.1L1461.1 985.3Z" fill="#00ff5d" stroke="#00ff5d"/>
<path d="M1508 992.1L1523.8 988.3L1508.2 983.6L1492.4 987Z" fill="#00ff63" stroke="#00ff63"/>
<path d="M1539.5 993.1L1555.1 989.1L1539.3 984.6L1523.8 988.3Z" fill="#00ff67" stroke="#00ff67"/>
<path d="M1571 993.7L1586.4 989.5L1570.5 985.2L1555.1 989.1Z" fill="#00ff6a" stroke="#00ff6a"/>
<path d="M1460.5 994.1L1476.5 990.6L1461.1 985.3L1445 988.6Z" fill="#00ff57" stroke="#00ff57"/>
<path d="M1492.1 995.8L1508 992.1L1492.4 987L1476.5 990.6Z" fill="#00ff5f" stroke="#00ff5f"/>
<path d="M1523.8 997.1L1539.5 993.1L1523.8 988.3L1508 992.1Z" fill="#00ff64" stroke="#00ff64"/>
<path d="M1555.4 998L1571 993.7L1555.1 989.1L1539.5 993.1Z" fill="#00ff67" stroke="#00ff67"/>
<path d="M1587.1 998.4L1602.5 993.9L1586.4 989.5L1571 993.7Z" fill="#00ff68" stroke="#00ff68"/>
<path d="M1444.2 997.7L1460.5 994.1L1445 988.6L1428.8 991.9Z" fill="#00ff52" stroke="#00ff52"/>
<path d="M1476 999.7L1492.1 995.8L1476.5 990.6L1460.5 994.1Z" fill="#00ff5a" stroke="#00ff5a"/>
<path d="M1507.8 1001.2L1523.8 997.1L1508 992.1L1492.1 995.8Z" fill="#00ff60" stroke="#00ff60"/>
<path d="M1539.7 1002.3L1555.4 998L1539.5 993.1L1523.8 997.1Z" fill="#00ff64" stroke="#00ff64"/>
<path d="M1571.5 1002.9L1587.1 998.4L1571 993.7L1555.4 998Z" fill="#00ff67" stroke="#00ff67"/>
<path d="M1603.3 1003.1L1618.7 998.3L1602.5 993.9L1587.1 998.4Z" fill="#00ff67" stroke="#00ff67"/>
<path d="M1427.8 1001.3L1444.2 997.7L1428.8 991.9L1412.4 995.3Z" fill="#00ff4c" stroke="#00ff4c"/>
<path d="M1459.8 1003.5L1476 999.7L1460.5 994.1L1444.2 997.7Z" fill="#00ff55" stroke="#00ff55"/>
<path d="M1491.8 1005.3L1507.8 1001.2L1492.1 995.8L1476 999.7Z" fill="#00ff5c" stroke="#00ff5c"/>
<path d="M1523.8 1006.6L1539.7 1002.3L1523.8 997.1L1507.8 1001.2Z" fill="#00ff61" stroke="#00ff61"/>
<path d="M1555.7 1007.4L1571.5 1002.9L1555.4 998L1539.7 1002.3Z" fill="#00ff65" stroke="#00ff65"/>
<path d="M1587.7 1007.8L1603.3 1003.1L1587.1 998.4L1571.5 1002.9Z" fill="#00ff66" stroke="#00ff66"/>
<path d="M1619.7 1007.8L1635.1 1002.8L1618.7 998.3L1603.3 1003.1Z" fill="#00ff65" stroke="#00ff65"/>
<path d="M1411.2 1005L1427.8 1001.3L1412.4 995.3L1395.8 998.7Z" fill="#00ff46" stroke="#00ff46"/>
<path d="M1443.3 1007.5L1459.8 1003.5L1444.2 997.7L1427.8 1001.3Z" fill="#00ff50" stroke="#00ff50"/>
<path d="M1475.5 1009.4L1491.8 1005.3L1476 999.7L1459.8 1003.5Z" fill="#00ff58" stroke="#00ff58"/>
<path d="M1507.7 1011L1523.8 1006.6L1507.8 1001.2L1491.8 1005.3Z" fill="#00ff5f" stroke="#00ff5f"/>
<path d="M1539.8 1012.1L1555.7 1007.4L1539.7 1002.3L1523.8 1006.6Z" fill="#00ff63" stroke="#00ff63"/>
<path d="M1572 1012.7L1587.7 1007.8L1571.5 1002.9L1555.7 1007.4Z" fill="#00ff65" stroke="#00ff65"/>
<path d="M1604.2 1012.9L1619.7 1007.8L1603.3 1003.1L1587.7 1007.8Z" fill="#00ff66" stroke="#00ff66"/>
<path d="M1636.3 1012.6L1651.7 1007.3L1635.1 1002.8L1619.7 1007.8Z" fill="#00ff64" stroke="#00ff64"/>
<path d="M1394.4 1008.7L1411.2 1005L1395.8 998.7L1379 1002.1Z" fill="#00ff41" stroke="#00ff41"/>
<path d="M1426.7 1011.4L1443.3 1007.5L1427.8 1001.3L1411.2 1005Z" fill="#00ff4c" stroke="#00ff4c"/>
<path d="M1459.1 1013.6L1475.5 1009.4L1459.8 1003.5L1443.3 1007.5Z" fill="#00ff55" stroke="#00ff55"/>
<path d="M1491.4 1015.4L1507.7 1011L1491.8 1005.3L1475.5 1009.4Z" fill="#00ff5c" stroke="#00ff5c"/>
<path d="M1523.8 1016.7L1539.8 1012.1L1523.8 1006.6L1507.7 1011Z" fill="#00ff61" stroke="#00ff61"/>
<path d="M1556.1 1017.6L1572 1012.7L1555.7 1007.4L1539.8 1012.1Z" fill="#00ff64" stroke="#00ff64"/>
<path d="M1588.4 1018L1604.2 1012.9L1587.7 1007.8L1572 1012.7Z" fill="#00ff66" stroke="#00ff66"/>
<path d="M1620.8 1017.9L1636.3 1012.6L1619.7 1007.8L1604.2 1012.9Z" fill="#00ff65" stroke="#00ff65"/>
<path d="M1653.1 1017.4L1668.5 1011.9L1651.7 1007.3L1636.3 1012.6Z" fill="#00ff63" stroke="#00ff63"/>
<path d="M1377.4 1012.5L1394.4 1008.7L1379 1002.1L1362.1 1005.6Z" fill="#00ff3b" stroke="#00ff3b"/>
<path d="M1410 1015.4L1426.7 1011.4L1411.2 1005L1394.4 1008.7Z" fill="#00ff47" stroke="#00ff47"/>
<path d="M1442.5 1017.9L1459.1 1013.6L1443.3 1007.5L1426.7 1011.4Z" fill="#00ff51" stroke="#00ff51"/>
<path d="M1475 1019.9L1491.4 1015.4L1475.5 1009.4L1459.1 1013.6Z" fill="#00ff59" stroke="#00ff59"/>
<path d="M1507.5 1021.4L1523.8 1016.7L1507.7 1011L1491.4 1015.4Z" fill="#00ff5f" stroke="#00ff5f"/>
<path d="M1540 1022.5L1556.1 1017.6L1539.8 1012.1L1523.8 1016.7Z" fill="#00ff63" stroke="#00ff63"/>
<path d="M1572.5 1023.2L1588.4 1018L1572 1012.7L1556.1 1017.6Z" fill="#00ff66" stroke="#00ff66"/>
<path d="M1605.1 1023.3L1620.8 1017.9L1604.2 1012.9L1588.4 1018Z" fill="#00ff66" stroke="#00ff66"/>
<path d="M1637.6 1023.1L1653.1 1017.4L1636.3 1012.6L1620.8 1017.9Z" fill="#00ff65" stroke="#00ff65"/>
<path d="M1670.1 1022.3L1685.4 1016.5L1668.5 1011.9L1653.1 1017.4Z" fill="#00ff61" stroke="#00ff61"/>
<path d="M1360.3 1016.3L1377.4 1012.5L1362.1 1005.6L1344.9 1009.1Z" fill="#00ff35" stroke="#00ff35"/>
<path d="M1393 1019.5L1410 1015.4L1394.4 1008.7L1377.4 1012.5Z" fill="#00ff42" stroke="#00ff42"/>
<path d="M1425.7 1022.2L1442.5 1017.9L1426.7 1011.4L1410 1015.4Z" fill="#00ff4d" stroke="#00ff4d"/>
<path d="M1458.4 1024.4L1475 1019.9L1459.1 1013.6L1442.5 1017.9Z" fill="#00ff56" stroke="#00ff56"/>
<path d="M1491.1 1026.2L1507.5 1021.4L1491.4 1015.4L1475 1019.9Z" fill="#00ff5d" stroke="#00ff5d"/>
<path d="M1523.8 1027.5L1540 1022.5L1523.8 1016.7L1507.5 1021.4Z" fill="#00ff63" stroke="#00ff63"/>
<path d="M1556.5 1028.4L1572.5 1023.2L1556.1 1017.6L1540 1022.5Z" fill="#00ff66" stroke="#00ff66"/>
<path d="M1589.2 1028.8L1605.1 1023.3L1588.4 1018L1572.5 1023.2Z" fill="#00ff67" stroke="#00ff67"/>
<path d="M1621.9 1028.8L1637.6 1023.1L1620.8 1017.9L1605.1 1023.3Z" fill="#00ff67" stroke="#00ff67"/>
<path d="M1654.5 1028.2L1670.1 1022.3L1653.1 1017.4L1637.6 1023.1Z" fill="#00ff64" stroke="#00ff64"/>
<path d="M1687.2 1027.3L1702.6 1021.1L1685.4 1016.5L1670.1 1022.3Z" fill="#00ff60" stroke="#00ff60"/>
<path d="M1342.9 1020.1L1360.3 1016.3L1344.9 1009.1L1327.6 1012.7Z" fill="#00ff30" stroke="#00ff30"/>
<path d="M1375.8 1023.5L1393 1019.5L1377.4 1012.5L1360.3 1016.3Z" fill="#00ff3e" stroke="#00ff3e"/>
<path d="M1408.7 1026.5L1425.7 1022.2L1410 1015.4L1393 1019.5Z" fill="#00ff49" stroke="#00ff49"/>
<path d="M1441.6 1029L1458.4 1024.4L1442.5 1017.9L1425.7 1022.2Z" fill="#00ff54" stroke="#00ff54"/>
<path d="M1474.5 1031L1491.1 1026.2L1475 1019.9L1458.4 1024.4Z" fill="#00ff5c" stroke="#00ff5c"/>
<path d="M1507.3 1032.6L1523.8 1027.5L1507.5 1021.4L1491.1 1026.2Z" fill="#00ff62" stroke="#00ff62"/>
<path d="M1540.2 1033.7L1556.5 1028.4L1540 1022.5L1523.8 1027.5Z" fill="#00ff66" stroke="#00ff66"/>
<path d="M1573.1 1034.3L1589.2 1028.8L1572.5 1023.2L1556.5 1028.4Z" fill="#00ff68" stroke="#00ff68"/>
<path d="M1606 1034.5L1621.9 1028.8L1605.1 1023.3L1589.2 1028.8Z" fill="#00ff69" stroke="#00ff69"/>
<path d="M1638.8 1034.2L1654.5 1028.2L1637.6 1023.1L1621.9 1028.8Z" fill="#00ff67" stroke="#00ff67"/>
<path d="M1671.7 1033.5L1687.2 1027.3L1670.1 1022.3L1654.5 1028.2Z" fill="#00ff64" stroke="#00ff64"/>
<path d="M1704.6 1032.3L1719.9 1025.8L1702.6 1021.1L1687.2 1027.3Z" fill="#00ff5e" stroke="#00ff5e"/>
<path d="M1325.4 1024L1342.9 1020.1L1327.6 1012.7L1310.1 1016.2Z" fill="#00ff2a" stroke="#00ff2a"/>
<path d="M1358.5 1027.7L1375.8 1023.5L1360.3 1016.3L1342.9 1020.1Z" fill="#00ff39" stroke="#00ff39"/>
<path d="M1391.5 1030.9L1408.7 1026.5L1393 1019.5L1375.8 1023.5Z" fill="#00ff46" stroke="#00ff46"/>
<path d="M1424.6 1033.6L1441.6 1029L1425.7 1022.2L1408.7 1026.5Z" fill="#00ff51" stroke="#00ff51"/>
<path d="M1457.7 1035.9L1474.5 1031L1458.4 1024.4L1441.6 1029Z" fill="#00ff5a" stroke="#00ff5a"/>
<path d="M1490.7 1037.7L1507.3 1032.6L1491.1 1026.2L1474.5 1031Z" fill="#00ff61" stroke="#00ff61"/>
<path d="M1523.8 1039L1540.2 1033.7L1523.8 1027.5L1507.3 1032.6Z" fill="#00ff66" stroke="#00ff66"/>
<path d="M1556.8 1039.9L1573.1 1034.3L1556.5 1028.4L1540.2 1033.7Z" fill="#00ff69" stroke="#00ff69"/>
<path d="M1589.9 1040.3L1606 1034.5L1589.2 1028.8L1573.1 1034.3Z" fill="#00ff6b" stroke="#00ff6b"/>
<path d="M1622.9 1040.3L1638.8 1034.2L1621.9 1028.8L1606 1034.5Z" fill="#00ff6a" stroke="#00ff6a"/>
<path d="M1656 1039.8L1671.7 1033.5L1654.5 1028.2L1638.8 1034.2Z" fill="#00ff68" stroke="#00ff68"/>
<path d="M1689.1 1038.8L1704.6 1032.3L1687.2 1027.3L1671.7 1033.5Z" fill="#00ff63" stroke="#00ff63"/>
<path d="M1722.1 1037.3L1737.4 1030.6L1719.9 1025.8L1704.6 1032.3Z" fill="#00ff5d" stroke="#00ff5d"/>
<path d="M1307.7 1027.9L1325.4 1024L1310.1 1016.2L1292.3 1019.9Z" fill="#00ff24" stroke="#00ff24"/>
<path d="M1340.9 1031.9L1358.5 1027.7L1342.9 1020.1L1325.4 1024Z" fill="#00ff34" stroke="#00ff34"/>
<path d="M1374.2 1035.3L1391.5 1030.9L1375.8 1023.5L1358.5 1027.7Z" fill="#00ff42" stroke="#00ff42"/>
<path d="M1407.4 1038.3L1424.6 1033.6L1408.7 1026.5L1391.5 1030.9Z" fill="#00ff4e" stroke="#00ff4e"/>
<path d="M1440.7 1040.8L1457.7 1035.9L1441.6 1029L1424.6 1033.6Z" fill="#00ff58" stroke="#00ff58"/>
<path d="M1473.9 1042.9L1490.7 1037.7L1474.5 1031L1457.7 1035.9Z" fill="#00ff60" stroke="#00ff60"/>
<path d="M1507.2 1044.5L1523.8 1039L1507.3 1032.6L1490.7 1037.7Z" fill="#00ff66" stroke="#00ff66"/>
<path d="M1540.4 1045.6L1556.8 1039.9L1540.2 1033.7L1523.8 1039Z" fill="#00ff6a" stroke="#00ff6a"/>
<path d="M1573.6 1046.2L1589.9 1040.3L1573.1 1034.3L1556.8 1039.9Z" fill="#00ff6d" stroke="#00ff6d"/>
<path d="M1606.9 1046.4L1622.9 1040.3L1606 1034.5L1589.9 1040.3Z" fill="#00ff6d" stroke="#00ff6d"/>
<path d="M1640.1 1046.1L1656 1039.8L1638.8 1034.2L1622.9 1040.3Z" fill="#00ff6c" stroke="#00ff6c"/>
<path d="M1673.4 1045.4L1689.1 1038.8L1671.7 1033.5L1656 1039.8Z" fill="#00ff68" stroke="#00ff68"/>
<path d="M1706.6 1044.1L1722.1 1037.3L1704.6 1032.3L1689.1 1038.8Z" fill="#00ff63" stroke="#00ff63"/>
<path d="M1739.8 1042.5L1755.2 1035.4L1737.4 1030.6L1722.1 1037.3Z" fill="#00ff5b" stroke="#00ff5b"/>
<path d="M1289.7 1031.9L1307.7 1027.9L1292.3 1019.9L1274.4 1023.5Z" fill="#00ff1f" stroke="#00ff1f"/>
<path d="M1323.2 1036.1L1340.9 1031.9L1325.4 1024L1307.7 1027.9Z" fill="#00ff2f" stroke="#00ff2f"/>
<path d="M1356.6 1039.8L1374.2 1035.3L1358.5 1027.7L1340.9 1031.9Z" fill="#00ff3e" stroke="#00ff3e"/>
<path d="M1390.1 1043L1407.4 1038.3L1391.5 1030.9L1374.2 1035.3Z" fill="#00ff4b" stroke="#00ff4b"/>
<path d="M1423.5 1045.8L1440.7 1040.8L1424.6 1033.6L1407.4 1038.3Z" fill="#00ff56" stroke="#00ff56"/>
<path d="M1456.9 1048.1L1473.9 1042.9L1457.7 1035.9L1440.7 1040.8Z" fill="#00ff5f" stroke="#00ff5f"/>
<path d="M1490.4 1049.9L1507.2 1044.5L1490.7 1037.7L1473.9 1042.9Z" fill="#00ff66" stroke="#00ff66"/>
<path d="M1523.8 1051.3L1540.4 1045.6L1523.8 1039L1507.2 1044.5Z" fill="#00ff6c" stroke="#00ff6c"/>
<path d="M1557.2 1052.2L1573.6 1046.2L1556.8 1039.9L1540.4 1045.6Z" fill="#00ff6f" stroke="#00ff6f"/>
<path d="M1590.6 1052.6L1606.9 1046.4L1589.9 1040.3L1573.6 1046.2Z" fill="#00ff70" stroke="#00ff70"/>
<path d="M1624.1 1052.5L1640.1 1046.1L1622.9 1040.3L1606.9 1046.4Z" fill="#00ff70" stroke="#00ff70"/>
<path d="M1657.5 1052L1673.4 1045.4L1656 1039.8L1640.1 1046.1Z" fill="#00ff6d" stroke="#00ff6d"/>
<path d="M1690.9 1051L1706.6 1044.1L1689.1 1038.8L1673.4 1045.4Z" fill="#00ff69" stroke="#00ff69"/>
<path d="M1724.3 1049.6L1739.8 1042.5L1722.1 1037.3L1706.6 1044.1Z" fill="#00ff62" stroke="#00ff62"/>
<path d="M1757.8 1047.6L1773.1 1040.3L1755.2 1035.4L1739.8 1042.5Z" fill="#00ff5a" stroke="#00ff5a"/>
<path d="M1271.6 1035.9L1289.7 1031.9L1274.4 1023.5L1256.3 1027.2Z" fill="#00ff19" stroke="#00ff19"/>
<path d="M1305.2 1040.4L1323.2 1036.1L1307.7 1027.9L1289.7 1031.9Z" fill="#00ff2b" stroke="#00ff2b"/>
<path d="M1338.9 1044.3L1356.6 1039.8L1340.9 1031.9L1323.2 1036.1Z" fill="#00ff3a" stroke="#00ff3a"/>
<path d="M1372.5 1047.8L1390.1 1043L1374.2 1035.3L1356.6 1039.8Z" fill="#00ff48" stroke="#00ff48"/>
<path d="M1406.1 1050.8L1423.5 1045.8L1407.4 1038.3L1390.1 1043Z" fill="#00ff54" stroke="#00ff54"/>
<path d="M1439.7 1053.4L1456.9 1048.1L1440.7 1040.8L1423.5 1045.8Z" fill="#00ff5e" stroke="#00ff5e"/>
<path d="M1473.4 1055.5L1490.4 1049.9L1473.9 1042.9L1456.9 1048.1Z" fill="#00ff66" stroke="#00ff66"/>
<path d="M1507 1057.1L1523.8 1051.3L1507.2 1044.5L1490.4 1049.9Z" fill="#00ff6d" stroke="#00ff6d"/>
<path d="M1540.6 1058.2L1557.2 1052.2L1540.4 1045.6L1523.8 1051.3Z" fill="#00ff71" stroke="#00ff71"/>
<path d="M1574.2 1058.9L1590.6 1052.6L1573.6 1046.2L1557.2 1052.2Z" fill="#00ff73" stroke="#00ff73"/>
<path d="M1607.8 1059L1624.1 1052.5L1606.9 1046.4L1590.6 1052.6Z" fill="#00ff74" stroke="#00ff74"/>
<path d="M1641.5 1058.8L1657.5 1052L1640.1 1046.1L1624.1 1052.5Z" fill="#00ff72" stroke="#00ff72"/>
<path d="M1675.1 1058L1690.9 1051L1673.4 1045.4L1657.5 1052Z" fill="#00ff6f" stroke="#00ff6f"/>
<path d="M1708.7 1056.8L1724.3 1049.6L1706.6 1044.1L1690.9 1051Z" fill="#00ff69" stroke="#00ff69"/>
<path d="M1742.3 1055L1757.8 1047.6L1739.8 1042.5L1724.3 1049.6Z" fill="#00ff62" stroke="#00ff62"/>
<path d="M1775.9 1052.9L1791.2 1045.2L1773.1 1040.3L1757.8 1047.6Z" fill="#00ff59" stroke="#00ff59"/>
<path d="M1253.3 1040L1271.6 1035.9L1256.3 1027.2L1238 1031Z" fill="#00ff13" stroke="#00ff13"/>
<path d="M1287.1 1044.7L1305.2 1040.4L1289.7 1031.9L1271.6 1035.9Z" fill="#00ff26" stroke="#00ff26"/>
<path d="M1320.9 1048.9L1338.9 1044.3L1323.2 1036.1L1305.2 1040.4Z" fill="#00ff37" stroke="#00ff37"/>
<path d="M1354.7 1052.7L1372.5 1047.8L1356.6 1039.8L1338.9 1044.3Z" fill="#00ff46" stroke="#00ff46"/>
<path d="M1388.5 1055.9L1406.1 1050.8L1390.1 1043L1372.5 1047.8Z" fill="#00ff52" stroke="#00ff52"/>
<path d="M1422.4 1058.7L1439.7 1053.4L1423.5 1045.8L1406.1 1050.8Z" fill="#00ff5d" stroke="#00ff5d"/>
<path d="M1456.2 1061.1L1473.4 1055.5L1456.9 1048.1L1439.7 1053.4Z" fill="#00ff67" stroke="#00ff67"/>
<path d="M1490 1062.9L1507 1057.1L1490.4 1049.9L1473.4 1055.5Z" fill="#00ff6e" stroke="#00ff6e"/>
<path d="M1523.8 1064.3L1540.6 1058.2L1523.8 1051.3L1507 1057.1Z" fill="#00ff73" stroke="#00ff73"/>
<path d="M1557.6 1065.2L1574.2 1058.9L1557.2 1052.2L1540.6 1058.2Z" fill="#00ff76" stroke="#00ff76"/>
<path d="M1591.4 1065.6L1607.8 1059L1590.6 1052.6L1574.2 1058.9Z" fill="#00ff77" stroke="#00ff77"/>
<path d="M1625.2 1065.6L1641.5 1058.8L1624.1 1052.5L1607.8 1059Z" fill="#00ff77" stroke="#00ff77"/>
<path d="M1659 1065L1675.1 1058L1657.5 1052L1641.5 1058.8Z" fill="#00ff74" stroke="#00ff74"/>
<path d="M1692.8 1064L1708.7 1056.8L1690.9 1051L1675.1 1058Z" fill="#00ff70" stroke="#00ff70"/>
<path d="M1726.6 1062.5L1742.3 1055L1724.3 1049.6L1708.7 1056.8Z" fill="#00ff6a" stroke="#00ff6a"/>
<path d="M1760.4 1060.6L1775.9 1052.9L1757.8 1047.6L1742.3 1055Z" fill="#00ff61" stroke="#00ff61"/>
<path d="M1794.2 1058.2L1809.5 1050.2L1791.2 1045.2L1775.9 1052.9Z" fill="#00ff57" stroke="#00ff57"/>
<path d="M1234.7 1044.1L1253.3 1040L1238 1031L1219.5 1034.8Z" fill="#00ff0e" stroke="#00ff0e"/>
<path d="M1268.7 1049L1287.1 1044.7L1271.6 1035.9L1253.3 1040Z" fill="#00ff21" stroke="#00ff21"/>
<path d="M1302.7 1053.5L1320.9 1048.9L1305.2 1040.4L1287.1 1044.7Z" fill="#00ff33" stroke="#00ff33"/>
<path d="M1336.8 1057.6L1354.7 1052.7L1338.9 1044.3L1320.9 1048.9Z" fill="#00ff43" stroke="#00ff43"/>
<path d="M1370.8 1061.1L1388.5 1055.9L1372.5 1047.8L1354.7 1052.7Z" fill="#00ff51" stroke="#00ff51"/>
<path d="M1404.8 1064.1L1422.4 1058.7L1406.1 1050.8L1388.5 1055.9Z" fill="#00ff5d" stroke="#00ff5d"/>
<path d="M1438.8 1066.7L1456.2 1061.1L1439.7 1053.4L1422.4 1058.7Z" fill="#00ff67" stroke="#00ff67"/>
<path d="M1472.8 1068.8L1490 1062.9L1473.4 1055.5L1456.2 1061.1Z" fill="#00ff6f" stroke="#00ff6f"/>
<path d="M1506.8 1070.5L1523.8 1064.3L1507 1057.1L1490 1062.9Z" fill="#00ff75" stroke="#00ff75"/>
<path d="M1540.8 1071.6L1557.6 1065.2L1540.6 1058.2L1523.8 1064.3Z" fill="#00ff79" stroke="#00ff79"/>
<path d="M1574.8 1072.3L1591.4 1065.6L1574.2 1058.9L1557.6 1065.2Z" fill="#00ff7b" stroke="#00ff7b"/>
<path d="M1608.8 1072.4L1625.2 1065.6L1607.8 1059L1591.4 1065.6Z" fill="#00ff7c" stroke="#00ff7c"/>
<path d="M1642.8 1072.2L1659 1065L1641.5 1058.8L1625.2 1065.6Z" fill="#00ff7a" stroke="#00ff7a"/>
<path d="M1676.8 1071.4L1692.8 1064L1675.1 1058L1659 1065Z" fill="#00ff77" stroke="#00ff77"/>
<path d="M1710.8 1070.1L1726.6 1062.5L1708.7 1056.8L1692.8 1064Z" fill="#00ff71" stroke="#00ff71"/>
<path d="M1744.8 1068.4L1760.4 1060.6L1742.3 1055L1726.6 1062.5Z" fill="#00ff6a" stroke="#00ff6a"/>
<path d="M1778.8 1066.2L1794.2 1058.2L1775.9 1052.9L1760.4 1060.6Z" fill="#00ff61" stroke="#00ff61"/>
<path d="M1812.8 1063.5L1828 1055.2L1809.5 1050.2L1794.2 1058.2Z" fill="#00ff56" stroke="#00ff56"/>
<path d="M1216 1048.2L1234.7 1044.1L1219.5 1034.8L1200.7 1038.6Z" fill="#00ff08" stroke="#00ff08"/>
<path d="M1250.2 1053.5L1268.7 1049L1253.3 1040L1234.7 1044.1Z" fill="#00ff1d" stroke="#00ff1d"/>
<path d="M1284.4 1058.2L1302.7 1053.5L1287.1 1044.7L1268.7 1049Z" fill="#00ff2f" stroke="#00ff2f"/>
<path d="M1318.6 1062.5L1336.8 1057.6L1320.9 1048.9L1302.7 1053.5Z" fill="#00ff40" stroke="#00ff40"/>
<path d="M1352.8 1066.3L1370.8 1061.1L1354.7 1052.7L1336.8 1057.6Z" fill="#00ff4f" stroke="#00ff4f"/>
<path d="M1387 1069.6L1404.8 1064.1L1388.5 1055.9L1370.8 1061.1Z" fill="#00ff5c" stroke="#00ff5c"/>
<path d="M1421.2 1072.5L1438.8 1066.7L1422.4 1058.7L1404.8 1064.1Z" fill="#00ff67" stroke="#00ff67"/>
<path d="M1455.4 1074.8L1472.8 1068.8L1456.2 1061.1L1438.8 1066.7Z" fill="#00ff70" stroke="#00ff70"/>
<path d="M1489.6 1076.7L1506.8 1070.5L1490 1062.9L1472.8 1068.8Z" fill="#00ff77" stroke="#00ff77"/>
<path d="M1523.8 1078.1L1540.8 1071.6L1523.8 1064.3L1506.8 1070.5Z" fill="#00ff7c" stroke="#00ff7c"/>
<path d="M1558 1079L1574.8 1072.3L1557.6 1065.2L1540.8 1071.6Z" fill="#00ff7f" stroke="#00ff7f"/>
<path d="M1592.2 1079.4L1608.8 1072.4L1591.4 1065.6L1574.8 1072.3Z" fill="#00ff81" stroke="#00ff81"/>
<path d="M1626.4 1079.4L1642.8 1072.2L1625.2 1065.6L1608.8 1072.4Z" fill="#00ff80" stroke="#00ff80"/>
<path d="M1660.6 1078.8L1676.8 1071.4L1659 1065L1642.8 1072.2Z" fill="#00ff7e" stroke="#00ff7e"/>
<path d="M1694.8 1077.8L1710.8 1070.1L1692.8 1064L1676.8 1071.4Z" fill="#00ff79" stroke="#00ff79"/>
<path d="M1729 1076.3L1744.8 1068.4L1726.6 1062.5L1710.8 1070.1Z" fill="#00ff73" stroke="#00ff73"/>
<path d="M1763.2 1074.3L1778.8 1066.2L1760.4 1060.6L1744.8 1068.4Z" fill="#00ff6b" stroke="#00ff6b"/>
<path d="M1797.4 1071.9L1812.8 1063.5L1794.2 1058.2L1778.8 1066.2Z" fill="#00ff60" stroke="#00ff60"/>
<path d="M1831.6 1068.9L1846.8 1060.3L1828 1055.2L1812.8 1063.5Z" fill="#00ff54" stroke="#00ff54"/>
<path d="M1197 1052.4L1216 1048.2L1200.7 1038.6L1181.8 1042.5Z" fill="#00ff02" stroke="#00ff02"/>
<path d="M1231.4 1057.9L1250.2 1053.5L1234.7 1044.1L1216 1048.2Z" fill="#00ff18" stroke="#00ff18"/>
<path d="M1265.8 1063L1284.4 1058.2L1268.7 1049L1250.2 1053.5Z" fill="#00ff2b" stroke="#00ff2b"/>
<path d="M1300.2 1067.5L1318.6 1062.5L1302.7 1053.5L1284.4 1058.2Z" fill="#00ff3d" stroke="#00ff3d"/>
<path d="M1334.6 1071.6L1352.8 1066.3L1336.8 1057.6L1318.6 1062.5Z" fill="#00ff4d" stroke="#00ff4d"/>
<path d="M1369 1075.2L1387 1069.6L1370.8 1061.1L1352.8 1066.3Z" fill="#00ff5b" stroke="#00ff5b"/>
<path d="M1403.4 1078.2L1421.2 1072.5L1404.8 1064.1L1387 1069.6Z" fill="#00ff67" stroke="#00ff67"/>
<path d="M1437.8 1080.9L1455.4 1074.8L1438.8 1066.7L1421.2 1072.5Z" fill="#00ff71" stroke="#00ff71"/>
<path d="M1472.2 1083L1489.6 1076.7L1472.8 1068.8L1455.4 1074.8Z" fill="#00ff79" stroke="#00ff79"/>
<path d="M1506.6 1084.6L1523.8 1078.1L1506.8 1070.5L1489.6 1076.7Z" fill="#00ff7f" stroke="#00ff7f"/>
<path d="M1541 1085.8L1558 1079L1540.8 1071.6L1523.8 1078.1Z" fill="#00ff83" stroke="#00ff83"/>
<path d="M1575.4 1086.5L1592.2 1079.4L1574.8 1072.3L1558 1079Z" fill="#00ff86" stroke="#00ff86"/>
<path d="M1609.8 1086.6L1626.4 1079.4L1608.8 1072.4L1592.2 1079.4Z" fill="#00ff86" stroke="#00ff86"/>
<path d="M1644.2 1086.3L1660.6 1078.8L1642.8 1072.2L1626.4 1079.4Z" fill="#00ff85" stroke="#00ff85"/>
<path d="M1678.6 1085.6L1694.8 1077.8L1676.8 1071.4L1660.6 1078.8Z" fill="#00ff81" stroke="#00ff81"/>
<path d="M1713 1084.3L1729 1076.3L1710.8 1070.1L1694.8 1077.8Z" fill="#00ff7c" stroke="#00ff7c"/>
<path d="M1747.4 1082.6L1763.2 1074.3L1744.8 1068.4L1729 1076.3Z" fill="#00ff74" stroke="#00ff74"/>
<path d="M1781.8 1080.3L1797.4 1071.9L1778.8 1066.2L1763.2 1074.3Z" fill="#00ff6b" stroke="#00ff6b"/>
<path d="M1816.2 1077.6L1831.6 1068.9L1812.8 1063.5L1797.4 1071.9Z" fill="#00ff60" stroke="#00ff60"/>
<path d="M1850.5 1074.4L1865.7 1065.5L1846.8 1060.3L1831.6 1068.9Z" fill="#00ff53" stroke="#00ff53"/>
<path d="M1212.4 1062.5L1231.4 1057.9L1216 1048.2L1197 1052.4Z" fill="#00ff13" stroke="#00ff13"/>
<path d="M1247 1067.8L1265.8 1063L1250.2 1053.5L1231.4 1057.9Z" fill="#00ff28" stroke="#00ff28"/>
<path d="M1281.6 1072.6L1300.2 1067.5L1284.4 1058.2L1265.8 1063Z" fill="#00ff3a" stroke="#00ff3a"/>
<path d="M1316.2 1076.9L1334.6 1071.6L1318.6 1062.5L1300.2 1067.5Z" fill="#00ff4b" stroke="#00ff4b"/>
<path d="M1350.8 1080.8L1369 1075.2L1352.8 1066.3L1334.6 1071.6Z" fill="#00ff5a" stroke="#00ff5a"/>
<path d="M1385.4 1084.1L1403.4 1078.2L1387 1069.6L1369 1075.2Z" fill="#00ff67" stroke="#00ff67"/>
<path d="M1420 1087L1437.8 1080.9L1421.2 1072.5L1403.4 1078.2Z" fill="#00ff72" stroke="#00ff72"/>
<path d="M1454.6 1089.4L1472.2 1083L1455.4 1074.8L1437.8 1080.9Z" fill="#00ff7b" stroke="#00ff7b"/>
<path d="M1489.2 1091.3L1506.6 1084.6L1489.6 1076.7L1472.2 1083Z" fill="#00ff82" stroke="#00ff82"/>
<path d="M1523.8 1092.7L1541 1085.8L1523.8 1078.1L1506.6 1084.6Z" fill="#00ff87" stroke="#00ff87"/>
<path d="M1558.4 1093.6L1575.4 1086.5L1558 1079L1541 1085.8Z" fill="#00ff8b" stroke="#00ff8b"/>
<path d="M1593 1094L1609.8 1086.6L1592.2 1079.4L1575.4 1086.5Z" fill="#00ff8c" stroke="#00ff8c"/>
<path d="M1627.6 1094L1644.2 1086.3L1626.4 1079.4L1609.8 1086.6Z" fill="#00ff8b" stroke="#00ff8b"/>
<path d="M1662.2 1093.4L1678.6 1085.6L1660.6 1078.8L1644.2 1086.3Z" fill="#00ff89" stroke="#00ff89"/>
<path d="M1696.8 1092.4L1713 1084.3L1694.8 1077.8L1678.6 1085.6Z" fill="#00ff84" stroke="#00ff84"/>
<path d="M1731.4 1090.9L1747.4 1082.6L1729 1076.3L1713 1084.3Z" fill="#00ff7e" stroke="#00ff7e"/>
<path d="M1766 1088.9L1781.8 1080.3L1763.2 1074.3L1747.4 1082.6Z" fill="#00ff76" stroke="#00ff76"/>
<path d="M1800.6 1086.4L1816.2 1077.6L1797.4 1071.9L1781.8 1080.3Z" fill="#00ff6c" stroke="#00ff6c"/>
<path d="M1835.2 1083.4L1850.5 1074.4L1831.6 1068.9L1816.2 1077.6Z" fill="#00ff5f" stroke="#00ff5f"/>
<path d="M1228 1072.6L1247 1067.8L1231.4 1057.9L1212.4 1062.5Z" fill="#00ff24" stroke="#00ff24"/>
<path d="M1262.8 1077.7L1281.6 1072.6L1265.8 1063L1247 1067.8Z" fill="#00ff38" stroke="#00ff38"/>
<path d="M1297.6 1082.3L1316.2 1076.9L1300.2 1067.5L1281.6 1072.6Z" fill="#00ff49" stroke="#00ff49"/>
<path d="M1332.4 1086.4L1350.8 1080.8L1334.6 1071.6L1316.2 1076.9Z" fill="#00ff59" stroke="#00ff59"/>
<path d="M1367.2 1090L1385.4 1084.1L1369 1075.2L1350.8 1080.8Z" fill="#00ff67" stroke="#00ff67"/>
<path d="M1402 1093.2L1420 1087L1403.4 1078.2L1385.4 1084.1Z" fill="#00ff73" stroke="#00ff73"/>
<path d="M1436.8 1095.8L1454.6 1089.4L1437.8 1080.9L1420 1087Z" fill="#00ff7d" stroke="#00ff7d"/>
<path d="M1471.6 1098L1489.2 1091.3L1472.2 1083L1454.6 1089.4Z" fill="#00ff85" stroke="#00ff85"/>
<path d="M1506.4 1099.6L1523.8 1092.7L1506.6 1084.6L1489.2 1091.3Z" fill="#00ff8b" stroke="#00ff8b"/>
<path d="M1541.2 1100.8L1558.4 1093.6L1541 1085.8L1523.8 1092.7Z" fill="#00ff90" stroke="#00ff90"/>
<path d="M1576 1101.5L1593 1094L1575.4 1086.5L1558.4 1093.6Z" fill="#00ff92" stroke="#00ff92"/>
<path d="M1610.8 1101.7L1627.6 1094L1609.8 1086.6L1593 1094Z" fill="#00ff92" stroke="#00ff92"/>
<path d="M1645.6 1101.4L1662.2 1093.4L1644.2 1086.3L1627.6 1094Z" fill="#00ff91" stroke="#00ff91"/>
<path d="M1680.4 1100.6L1696.8 1092.4L1678.6 1085.6L1662.2 1093.4Z" fill="#00ff8d" stroke="#00ff8d"/>
<path d="M1715.2 1099.3L1731.4 1090.9L1713 1084.3L1696.8 1092.4Z" fill="#00ff88" stroke="#00ff88"/>
<path d="M1750 1097.5L1766 1088.9L1747.4 1082.6L1731.4 1090.9Z" fill="#00ff80" stroke="#00ff80"/>
<path d="M1784.8 1095.3L1800.6 1086.4L1781.8 1080.3L1766 1088.9Z" fill="#00ff77" stroke="#00ff77"/>
<path d="M1819.6 1092.5L1835.2 1083.4L1816.2 1077.6L1800.6 1086.4Z" fill="#00ff6c" stroke="#00ff6c"/>
<path d="M1243.8 1082.9L1262.8 1077.7L1247 1067.8L1228 1072.6Z" fill="#00ff35" stroke="#00ff35"/>
<path d="M1278.8 1087.8L1297.6 1082.3L1281.6 1072.6L1262.8 1077.7Z" fill="#00ff48" stroke="#00ff48"/>
<path d="M1313.8 1092.2L1332.4 1086.4L1316.2 1076.9L1297.6 1082.3Z" fill="#00ff58" stroke="#00ff58"/>
<path d="M1348.8 1096L1367.2 1090L1350.8 1080.8L1332.4 1086.4Z" fill="#00ff67" stroke="#00ff67"/>
<path d="M1383.8 1099.4L1402 1093.2L1385.4 1084.1L1367.2 1090Z" fill="#00ff74" stroke="#00ff74"/>
<path d="M1418.8 1102.3L1436.8 1095.8L1420 1087L1402 1093.2Z" fill="#00ff7f" stroke="#00ff7f"/>
<path d="M1453.8 1104.7L1471.6 1098L1454.6 1089.4L1436.8 1095.8Z" fill="#00ff88" stroke="#00ff88"/>
<path d="M1488.8 1106.7L1506.4 1099.6L1489.2 1091.3L1471.6 1098Z" fill="#00ff8f" stroke="#00ff8f"/>
<path d="M1523.8 1108.1L1541.2 1100.8L1523.8 1092.7L1506.4 1099.6Z" fill="#00ff94" stroke="#00ff94"/>
<path d="M1558.8 1109L1576 1101.5L1558.4 1093.6L1541.2 1100.8Z" fill="#00ff98" stroke="#00ff98"/>
<path d="M1593.8 1109.5L1610.8 1101.7L1593 1094L1576 1101.5Z" fill="#00ff99" stroke="#00ff99"/>
<path d="M1628.8 1109.4L1645.6 1101.4L1627.6 1094L1610.8 1101.7Z" fill="#00ff98" stroke="#00ff98"/>
<path d="M1663.8 1108.9L1680.4 1100.6L1662.2 1093.4L1645.6 1101.4Z" fill="#00ff96" stroke="#00ff96"/>
<path d="M1698.8 1107.8L1715.2 1099.3L1696.8 1092.4L1680.4 1100.6Z" fill="#00ff92" stroke="#00ff92"/>
<path d="M1733.8 1106.3L1750 1097.5L1731.4 1090.9L1715.2 1099.3Z" fill="#00ff8b" stroke="#00ff8b"/>
<path d="M1768.8 1104.3L1784.8 1095.3L1766 1088.9L1750 1097.5Z" fill="#00ff83" stroke="#00ff83"/>
<path d="M1803.8 1101.7L1819.6 1092.5L1800.6 1086.4L1784.8 1095.3Z" fill="#00ff79" stroke="#00ff79"/>
<path d="M1259.7 1093.3L1278.8 1087.8L1262.8 1077.7L1243.8 1082.9Z" fill="#00ff46" stroke="#00ff46"/>
<path d="M1294.9 1098L1313.8 1092.2L1297.6 1082.3L1278.8 1087.8Z" fill="#00ff57" stroke="#00ff57"/>
<path d="M1330.2 1102.1L1348.8 1096L1332.4 1086.4L1313.8 1092.2Z" fill="#00ff67" stroke="#00ff67"/>
<path d="M1365.4 1105.8L1383.8 1099.4L1367.2 1090L1348.8 1096Z" fill="#00ff75" stroke="#00ff75"/>
<path d="M1400.6 1108.9L1418.8 1102.3L1402 1093.2L1383.8 1099.4Z" fill="#00ff81" stroke="#00ff81"/>
<path d="M1435.8 1111.6L1453.8 1104.7L1436.8 1095.8L1418.8 1102.3Z" fill="#00ff8b" stroke="#00ff8b"/>
<path d="M1471 1113.8L1488.8 1106.7L1471.6 1098L1453.8 1104.7Z" fill="#00ff93" stroke="#00ff93"/>
<path d="M1506.2 1115.5L1523.8 1108.1L1506.4 1099.6L1488.8 1106.7Z" fill="#00ff99" stroke="#00ff99"/>
<path d="M1541.4 1116.6L1558.8 1109L1541.2 1100.8L1523.8 1108.1Z" fill="#00ff9e" stroke="#00ff9e"/>
<path d="M1576.7 1117.3L1593.8 1109.5L1576 1101.5L1558.8 1109Z" fill="#00ffa0" stroke="#00ffa0"/>
<path d="M1611.9 1117.5L1628.8 1109.4L1610.8 1101.7L1593.8 1109.5Z" fill="#00ffa0" stroke="#00ffa0"/>
<path d="M1647.1 1117.2L1663.8 1108.9L1645.6 1101.4L1628.8 1109.4Z" fill="#00ff9f" stroke="#00ff9f"/>
<path d="M1682.3 1116.4L1698.8 1107.8L1680.4 1100.6L1663.8 1108.9Z" fill="#00ff9b" stroke="#00ff9b"/>
<path d="M1717.5 1115.1L1733.8 1106.3L1715.2 1099.3L1698.8 1107.8Z" fill="#00ff96" stroke="#00ff96"/>
<path d="M1752.7 1113.3L1768.8 1104.3L1750 1097.5L1733.8 1106.3Z" fill="#00ff8f" stroke="#00ff8f"/>
<path d="M1787.9 1111.1L1803.8 1101.7L1784.8 1095.3L1768.8 1104.3Z" fill="#00ff85" stroke="#00ff85"/>
<path d="M1275.9 1103.8L1294.9 1098L1278.8 1087.8L1259.7 1093.3Z" fill="#00ff57" stroke="#00ff57"/>
<path d="M1311.3 1108.3L1330.2 1102.1L1313.8 1092.2L1294.9 1098Z" fill="#00ff67" stroke="#00ff67"/>
<path d="M1346.7 1112.2L1365.4 1105.8L1348.8 1096L1330.2 1102.1Z" fill="#00ff76" stroke="#00ff76"/>
<path d="M1382.1 1115.6L1400.6 1108.9L1383.8 1099.4L1365.4 1105.8Z" fill="#00ff83" stroke="#00ff83"/>
<path d="M1417.6 1118.6L1435.8 1111.6L1418.8 1102.3L1400.6 1108.9Z" fill="#00ff8e" stroke="#00ff8e"/>
<path d="M1453 1121L1471 1113.8L1453.8 1104.7L1435.8 1111.6Z" fill="#00ff97" stroke="#00ff97"/>
<path d="M1488.4 1122.9L1506.2 1115.5L1488.8 1106.7L1471 1113.8Z" fill="#00ff9e" stroke="#00ff9e"/>
<path d="M1523.8 1124.4L1541.4 1116.6L1523.8 1108.1L1506.2 1115.5Z" fill="#00ffa3" stroke="#00ffa3"/>
<path d="M1559.3 1125.3L1576.7 1117.3L1558.8 1109L1541.4 1116.6Z" fill="#00ffa7" stroke="#00ffa7"/>
<path d="M1594.7 1125.8L1611.9 1117.5L1593.8 1109.5L1576.7 1117.3Z" fill="#00ffa8" stroke="#00ffa8"/>
<path d="M1630.1 1125.7L1647.1 1117.2L1628.8 1109.4L1611.9 1117.5Z" fill="#00ffa8" stroke="#00ffa8"/>
<path d="M1665.5 1125.2L1682.3 1116.4L1663.8 1108.9L1647.1 1117.2Z" fill="#00ffa5" stroke="#00ffa5"/>
<path d="M1700.9 1124.1L1717.5 1115.1L1698.8 1107.8L1682.3 1116.4Z" fill="#00ffa1" stroke="#00ffa1"/>
<path d="M1736.4 1122.5L1752.7 1113.3L1733.8 1106.3L1717.5 1115.1Z" fill="#00ff9a" stroke="#00ff9a"/>
<path d="M1771.8 1120.5L1787.9 1111.1L1768.8 1104.3L1752.7 1113.3Z" fill="#00ff92" stroke="#00ff92"/>
<path d="M1292.2 1114.5L1311.3 1108.3L1294.9 1098L1275.9 1103.8Z" fill="#00ff67" stroke="#00ff67"/>
<path d="M1327.8 1118.7L1346.7 1112.2L1330.2 1102.1L1311.3 1108.3Z" fill="#00ff77" stroke="#00ff77"/>
<path d="M1363.5 1122.4L1382.1 1115.6L1365.4 1105.8L1346.7 1112.2Z" fill="#00ff85" stroke="#00ff85"/>
<path d="M1399.1 1125.6L1417.6 1118.6L1400.6 1108.9L1382.1 1115.6Z" fill="#00ff91" stroke="#00ff91"/>
<path d="M1434.8 1128.3L1453 1121L1435.8 1111.6L1417.6 1118.6Z" fill="#00ff9b" stroke="#00ff9b"/>
<path d="M1470.4 1130.5L1488.4 1122.9L1471 1113.8L1453 1121Z" fill="#00ffa3" stroke="#00ffa3"/>
<path d="M1506 1132.2L1523.8 1124.4L1506.2 1115.5L1488.4 1122.9Z" fill="#00ffa9" stroke="#00ffa9"/>
<path d="M1541.7 1133.4L1559.3 1125.3L1541.4 1116.6L1523.8 1124.4Z" fill="#00ffae" stroke="#00ffae"/>
<path d="M1577.3 1134.1L1594.7 1125.8L1576.7 1117.3L1559.3 1125.3Z" fill="#00ffb0" stroke="#00ffb0"/>
<path d="M1612.9 1134.3L1630.1 1125.7L1611.9 1117.5L1594.7 1125.8Z" fill="#00ffb0" stroke="#00ffb0"/>
<path d="M1648.6 1134L1665.5 1125.2L1647.1 1117.2L1630.1 1125.7Z" fill="#00ffaf" stroke="#00ffaf"/>
<path d="M1684.2 1133.2L1700.9 1124.1L1682.3 1116.4L1665.5 1125.2Z" fill="#00ffab" stroke="#00ffab"/>
<path d="M1719.8 1131.9L1736.4 1122.5L1717.5 1115.1L1700.9 1124.1Z" fill="#00ffa6" stroke="#00ffa6"/>
<path d="M1755.5 1130L1771.8 1120.5L1752.7 1113.3L1736.4 1122.5Z" fill="#00ff9f" stroke="#00ff9f"/>
<path d="M1308.7 1125.2L1327.8 1118.7L1311.3 1108.3L1292.2 1114.5Z" fill="#00ff78" stroke="#00ff78"/>
<path d="M1344.6 1129.2L1363.5 1122.4L1346.7 1112.2L1327.8 1118.7Z" fill="#00ff87" stroke="#00ff87"/>
<path d="M1380.5 1132.7L1399.1 1125.6L1382.1 1115.6L1363.5 1122.4Z" fill="#00ff94" stroke="#00ff94"/>
<path d="M1416.3 1135.7L1434.8 1128.3L1417.6 1118.6L1399.1 1125.6Z" fill="#00ff9f" stroke="#00ff9f"/>
<path d="M1452.2 1138.1L1470.4 1130.5L1453 1121L1434.8 1128.3Z" fill="#00ffa8" stroke="#00ffa8"/>
<path d="M1488 1140.1L1506 1132.2L1488.4 1122.9L1470.4 1130.5Z" fill="#00ffaf" stroke="#00ffaf"/>
<path d="M1523.9 1141.6L1541.7 1133.4L1523.8 1124.4L1506 1132.2Z" fill="#00ffb4" stroke="#00ffb4"/>
<path d="M1559.7 1142.5L1577.3 1134.1L1559.3 1125.3L1541.7 1133.4Z" fill="#00ffb8" stroke="#00ffb8"/>
<path d="M1595.6 1143L1612.9 1134.3L1594.7 1125.8L1577.3 1134.1Z" fill="#00ffb9" stroke="#00ffb9"/>
<path d="M1631.4 1142.9L1648.6 1134L1630.1 1125.7L1612.9 1134.3Z" fill="#00ffb9" stroke="#00ffb9"/>
<path d="M1667.3 1142.3L1684.2 1133.2L1665.5 1125.2L1648.6 1134Z" fill="#00ffb6" stroke="#00ffb6"/>
<path d="M1703.1 1141.3L1719.8 1131.9L1700.9 1124.1L1684.2 1133.2Z" fill="#00ffb2" stroke="#00ffb2"/>
<path d="M1738.9 1139.7L1755.5 1130L1736.4 1122.5L1719.8 1131.9Z" fill="#00ffab" stroke="#00ffab"/>
<path d="M1325.5 1136.2L1344.6 1129.2L1327.8 1118.7L1308.7 1125.2Z" fill="#00ff89" stroke="#00ff89"/>
<path d="M1361.6 1139.9L1380.5 1132.7L1363.5 1122.4L1344.6 1129.2Z" fill="#00ff97" stroke="#00ff97"/>
<path d="M1397.6 1143.1L1416.3 1135.7L1399.1 1125.6L1380.5 1132.7Z" fill="#00ffa3" stroke="#00ffa3"/>
<path d="M1433.7 1145.9L1452.2 1138.1L1434.8 1128.3L1416.3 1135.7Z" fill="#00ffad" stroke="#00ffad"/>
<path d="M1469.8 1148.1L1488 1140.1L1470.4 1130.5L1452.2 1138.1Z" fill="#00ffb5" stroke="#00ffb5"/>
<path d="M1505.8 1149.8L1523.9 1141.6L1506 1132.2L1488 1140.1Z" fill="#00ffbb" stroke="#00ffbb"/>
<path d="M1541.9 1151L1559.7 1142.5L1541.7 1133.4L1523.9 1141.6Z" fill="#00ffc0" stroke="#00ffc0"/>
<path d="M1578 1151.8L1595.6 1143L1577.3 1134.1L1559.7 1142.5Z" fill="#00ffc2" stroke="#00ffc2"/>
<path d="M1614 1151.9L1631.4 1142.9L1612.9 1134.3L1595.6 1143Z" fill="#00ffc2" stroke="#00ffc2"/>
<path d="M1650.1 1151.6L1667.3 1142.3L1648.6 1134L1631.4 1142.9Z" fill="#00ffc1" stroke="#00ffc1"/>
<path d="M1686.2 1150.8L1703.1 1141.3L1684.2 1133.2L1667.3 1142.3Z" fill="#00ffbd" stroke="#00ffbd"/>
<path d="M1722.2 1149.5L1738.9 1139.7L1719.8 1131.9L1703.1 1141.3Z" fill="#00ffb8" stroke="#00ffb8"/>
<path d="M1342.4 1147.2L1361.6 1139.9L1344.6 1129.2L1325.5 1136.2Z" fill="#00ff9a" stroke="#00ff9a"/>
<path d="M1378.7 1150.7L1397.6 1143.1L1380.5 1132.7L1361.6 1139.9Z" fill="#00ffa7" stroke="#00ffa7"/>
<path d="M1415 1153.7L1433.7 1145.9L1416.3 1135.7L1397.6 1143.1Z" fill="#00ffb2" stroke="#00ffb2"/>
<path d="M1451.3 1156.2L1469.8 1148.1L1452.2 1138.1L1433.7 1145.9Z" fill="#00ffbb" stroke="#00ffbb"/>
<path d="M1487.6 1158.2L1505.8 1149.8L1488 1140.1L1469.8 1148.1Z" fill="#00ffc2" stroke="#00ffc2"/>
<path d="M1523.9 1159.7L1541.9 1151L1523.9 1141.6L1505.8 1149.8Z" fill="#00ffc7" stroke="#00ffc7"/>
<path d="M1560.2 1160.6L1578 1151.8L1559.7 1142.5L1541.9 1151Z" fill="#00ffcb" stroke="#00ffcb"/>
<path d="M1596.5 1161.1L1614 1151.9L1595.6 1143L1578 1151.8Z" fill="#00ffcc" stroke="#00ffcc"/>
<path d="M1632.7 1161L1650.1 1151.6L1631.4 1142.9L1614 1151.9Z" fill="#00ffcb" stroke="#00ffcb"/>
<path d="M1669 1160.5L1686.2 1150.8L1667.3 1142.3L1650.1 1151.6Z" fill="#00ffc9" stroke="#00ffc9"/>
<path d="M1705.3 1159.4L1722.2 1149.5L1703.1 1141.3L1686.2 1150.8Z" fill="#00ffc4" stroke="#00ffc4"/>
<path d="M1359.6 1158.4L1378.7 1150.7L1361.6 1139.9L1342.4 1147.2Z" fill="#00ffab" stroke="#00ffab"/>
<path d="M1396.1 1161.7L1415 1153.7L1397.6 1143.1L1378.7 1150.7Z" fill="#00ffb7" stroke="#00ffb7"/>
<path d="M1432.6 1164.4L1451.3 1156.2L1433.7 1145.9L1415 1153.7Z" fill="#00ffc1" stroke="#00ffc1"/>
<path d="M1469.1 1166.7L1487.6 1158.2L1469.8 1148.1L1451.3 1156.2Z" fill="#00ffc9" stroke="#00ffc9"/>
<path d="M1505.6 1168.4L1523.9 1159.7L1505.8 1149.8L1487.6 1158.2Z" fill="#00ffcf" stroke="#00ffcf"/>
<path d="M1542.1 1169.6L1560.2 1160.6L1541.9 1151L1523.9 1159.7Z" fill="#00ffd3" stroke="#00ffd3"/>
<path d="M1578.7 1170.4L1596.5 1161.1L1578 1151.8L1560.2 1160.6Z" fill="#00ffd6" stroke="#00ffd6"/>
<path d="M1615.2 1170.6L1632.7 1161L1614 1151.9L1596.5 1161.1Z" fill="#00ffd6" stroke="#00ffd6"/>
<path d="M1651.7 1170.2L1669 1160.5L1650.1 1151.6L1632.7 1161Z" fill="#00ffd5" stroke="#00ffd5"/>
<path d="M1688.2 1169.4L1705.3 1159.4L1686.2 1150.8L1669 1160.5Z" fill="#00ffd1" stroke="#00ffd1"/>
<path d="M1376.9 1169.7L1396.1 1161.7L1378.7 1150.7L1359.6 1158.4Z" fill="#00ffbc" stroke="#00ffbc"/>
<path d="M1413.7 1172.7L1432.6 1164.4L1415 1153.7L1396.1 1161.7Z" fill="#00ffc7" stroke="#00ffc7"/>
<path d="M1450.4 1175.3L1469.1 1166.7L1451.3 1156.2L1432.6 1164.4Z" fill="#00ffd0" stroke="#00ffd0"/>
<path d="M1487.2 1177.3L1505.6 1168.4L1487.6 1158.2L1469.1 1166.7Z" fill="#00ffd7" stroke="#00ffd7"/>
<path d="M1523.9 1178.8L1542.1 1169.6L1523.9 1159.7L1505.6 1168.4Z" fill="#00ffdc" stroke="#00ffdc"/>
<path d="M1560.6 1179.7L1578.7 1170.4L1560.2 1160.6L1542.1 1169.6Z" fill="#00ffdf" stroke="#00ffdf"/>
<path d="M1597.4 1180.2L1615.2 1170.6L1596.5 1161.1L1578.7 1170.4Z" fill="#00ffe1" stroke="#00ffe1"/>
<path d="M1634.1 1180.1L1651.7 1170.2L1632.7 1161L1615.2 1170.6Z" fill="#00ffe0" stroke="#00ffe0"/>
<path d="M1670.8 1179.6L1688.2 1169.4L1669 1160.5L1651.7 1170.2Z" fill="#00ffde" stroke="#00ffde"/>
<path d="M1394.5 1181.1L1413.7 1172.7L1396.1 1161.7L1376.9 1169.7Z" fill="#00ffcd" stroke="#00ffcd"/>
<path d="M1431.5 1183.9L1450.4 1175.3L1432.6 1164.4L1413.7 1172.7Z" fill="#00ffd7" stroke="#00ffd7"/>
<path d="M1468.5 1186.2L1487.2 1177.3L1469.1 1166.7L1450.4 1175.3Z" fill="#00ffdf" stroke="#00ffdf"/>
<path d="M1505.4 1188L1523.9 1178.8L1505.6 1168.4L1487.2 1177.3Z" fill="#00ffe5" stroke="#00ffe5"/>
<path d="M1542.4 1189.2L1560.6 1179.7L1542.1 1169.6L1523.9 1178.8Z" fill="#00ffe9" stroke="#00ffe9"/>
<path d="M1579.4 1190L1597.4 1180.2L1578.7 1170.4L1560.6 1179.7Z" fill="#00ffec" stroke="#00ffec"/>
<path d="M1616.3 1190.2L1634.1 1180.1L1615.2 1170.6L1597.4 1180.2Z" fill="#00ffec" stroke="#00ffec"/>
<path d="M1653.3 1189.8L1670.8 1179.6L1651.7 1170.2L1634.1 1180.1Z" fill="#00ffea" stroke="#00ffea"/>
<path d="M1412.3 1192.7L1431.5 1183.9L1413.7 1172.7L1394.5 1181.1Z" fill="#00ffde" stroke="#00ffde"/>
<path d="M1449.5 1195.3L1468.5 1186.2L1450.4 1175.3L1431.5 1183.9Z" fill="#00ffe7" stroke="#00ffe7"/>
<path d="M1486.7 1197.3L1505.4 1188L1487.2 1177.3L1468.5 1186.2Z" fill="#00ffee" stroke="#00ffee"/>
<path d="M1523.9 1198.8L1542.4 1189.2L1523.9 1178.8L1505.4 1188Z" fill="#00fff3" stroke="#00fff3"/>
<path d="M1561.1 1199.8L1579.4 1190L1560.6 1179.7L1542.4 1189.2Z" fill="#00fff6" stroke="#00fff6"/>
<path d="M1598.3 1200.3L1616.3 1190.2L1597.4 1180.2L1579.4 1190Z" fill="#00fff8" stroke="#00fff8"/>
<path d="M1635.5 1200.2L1653.3 1189.8L1634.1 1180.1L1616.3 1190.2Z" fill="#00fff7" stroke="#00fff7"/>
<path d="M1430.4 1204.5L1449.5 1195.3L1431.5 1183.9L1412.3 1192.7Z" fill="#00ffee" stroke="#00ffee"/>
<path d="M1467.8 1206.8L1486.7 1197.3L1468.5 1186.2L1449.5 1195.3Z" fill="#00fff7" stroke="#00fff7"/>
<path d="M1505.2 1208.6L1523.9 1198.8L1505.4 1188L1486.7 1197.3Z" fill="#00fffd" stroke="#00fffd"/>
<path d="M1542.6 1209.8L1561.1 1199.8L1542.4 1189.2L1523.9 1198.8Z" fill="#00fdff" stroke="#00fdff"/>
<path d="M1580.1 1210.6L1598.3 1200.3L1579.4 1190L1561.1 1199.8Z" fill="#00fbff" stroke="#00fbff"/>
<path d="M1617.5 1210.8L1635.5 1200.2L1616.3 1190.2L1598.3 1200.3Z" fill="#00faff" stroke="#00faff"/>
<path d="M1448.6 1216.4L1467.8 1206.8L1449.5 1195.3L1430.4 1204.5Z" fill="#00ffff" stroke="#00ffff"/>
<path d="M1486.3 1218.4L1505.2 1208.6L1486.7 1197.3L1467.8 1206.8Z" fill="#00f8ff" stroke="#00f8ff"/>
<path d="M1523.9 1220L1542.6 1209.8L1523.9 1198.8L1505.2 1208.6Z" fill="#00f2ff" stroke="#00f2ff"/>
<path d="M1561.6 1221L1580.1 1210.6L1561.1 1199.8L1542.6 1209.8Z" fill="#00efff" stroke="#00efff"/>
<path d="M1599.3 1221.4L1617.5 1210.8L1598.3 1200.3L1580.1 1210.6Z" fill="#00eeff" stroke="#00eeff"/>
<path d="M1467.1 1228.4L1486.3 1218.4L1467.8 1206.8L1448.6 1216.4Z" fill="#00eeff" stroke="#00eeff"/>
<path d="M1505 1230.2L1523.9 1220L1505.2 1208.6L1486.3 1218.4Z" fill="#00e8ff" stroke="#00e8ff"/>
<path d="M1542.9 1231.5L1561.6 1221L1542.6 1209.8L1523.9 1220Z" fill="#00e3ff" stroke="#00e3ff"/>
<path d="M1580.8 1232.2L1599.3 1221.4L1580.1 1210.6L1561.6 1221Z" fill="#00e1ff" stroke="#00e1ff"/>
<path d="M1485.8 1240.6L1505 1230.2L1486.3 1218.4L1467.1 1228.4Z" fill="#00ddff" stroke="#00ddff"/>
<path d="M1524 1242.2L1542.9 1231.5L1523.9 1220L1505 1230.2Z" fill="#00d8ff" stroke="#00d8ff"/>
<path d="M1562.1 1243.2L1580.8 1232.2L1561.6 1221L1542.9 1231.5Z" fill="#00d4ff" stroke="#00d4ff"/>
<path d="M1504.8 1253L1524 1242.2L1505 1230.2L1485.8 1240.6Z" fill="#00ccff" stroke="#00ccff"/>
<path d="M1543.2 1254.3L1562.1 1243.2L1542.9 1231.5L1524 1242.2Z" fill="#00c8ff" stroke="#00c8ff"/>
<path d="M1524 1265.5L1543.2 1254.3L1524 1242.2L1504.8 1253Z" fill="#00bbff" stroke="#00bbff"/>
</g>
<g stroke="#00331c" stroke-width="1.35" fill="none" stroke-linejoin="round">
<path d="M1524 1265.5L1504.8 1253L1485.8 1240.6L1467.1 1228.4L1448.6 1216.4L1430.4 1204.5L1412.3 1192.7L1394.5 1181.1L1376.9 1169.7L1359.6 1158.4L1342.4 1147.2L1325.5 1136.2L1308.7 1125.2L1292.2 1114.5L1275.9 1103.8L1259.7 1093.3L1243.8 1082.9L1228 1072.6L1212.4 1062.5L1197 1052.4L1181.8 1042.5"/>
<path d="M1524 1265.5L1543.2 1254.3L1562.1 1243.2L1580.8 1232.2L1599.3 1221.4L1617.5 1210.8L1635.5 1200.2L1653.3 1189.8L1670.8 1179.6L1688.2 1169.4L1705.3 1159.4L1722.2 1149.5L1738.9 1139.7L1755.5 1130L1771.8 1120.5L1787.9 1111.1L1803.8 1101.7L1819.6 1092.5L1835.2 1083.4L1850.5 1074.4L1865.7 1065.5"/>
<path d="M1543.2 1254.3L1524 1242.2L1505 1230.2L1486.3 1218.4L1467.8 1206.8L1449.5 1195.3L1431.5 1183.9L1413.7 1172.7L1396.1 1161.7L1378.7 1150.7L1361.6 1139.9L1344.6 1129.2L1327.8 1118.7L1311.3 1108.3L1294.9 1098L1278.8 1087.8L1262.8 1077.7L1247 1067.8L1231.4 1057.9L1216 1048.2L1200.7 1038.6"/>
<path d="M1504.8 1253L1524 1242.2L1542.9 1231.5L1561.6 1221L1580.1 1210.6L1598.3 1200.3L1616.3 1190.2L1634.1 1180.1L1651.7 1170.2L1669 1160.5L1686.2 1150.8L1703.1 1141.3L1719.8 1131.9L1736.4 1122.5L1752.7 1113.3L1768.8 1104.3L1784.8 1095.3L1800.6 1086.4L1816.2 1077.6L1831.6 1068.9L1846.8 1060.3"/>
<path d="M1562.1 1243.2L1542.9 1231.5L1523.9 1220L1505.2 1208.6L1486.7 1197.3L1468.5 1186.2L1450.4 1175.3L1432.6 1164.4L1415 1153.7L1397.6 1143.1L1380.5 1132.7L1363.5 1122.4L1346.7 1112.2L1330.2 1102.1L1313.8 1092.2L1297.6 1082.3L1281.6 1072.6L1265.8 1063L1250.2 1053.5L1234.7 1044.1L1219.5 1034.8"/>
<path d="M1485.8 1240.6L1505 1230.2L1523.9 1220L1542.6 1209.8L1561.1 1199.8L1579.4 1190L1597.4 1180.2L1615.2 1170.6L1632.7 1161L1650.1 1151.6L1667.3 1142.3L1684.2 1133.2L1700.9 1124.1L1717.5 1115.1L1733.8 1106.3L1750 1097.5L1766 1088.9L1781.8 1080.3L1797.4 1071.9L1812.8 1063.5L1828 1055.2"/>
<path d="M1580.8 1232.2L1561.6 1221L1542.6 1209.8L1523.9 1198.8L1505.4 1188L1487.2 1177.3L1469.1 1166.7L1451.3 1156.2L1433.7 1145.9L1416.3 1135.7L1399.1 1125.6L1382.1 1115.6L1365.4 1105.8L1348.8 1096L1332.4 1086.4L1316.2 1076.9L1300.2 1067.5L1284.4 1058.2L1268.7 1049L1253.3 1040L1238 1031"/>
<path d="M1467.1 1228.4L1486.3 1218.4L1505.2 1208.6L1523.9 1198.8L1542.4 1189.2L1560.6 1179.7L1578.7 1170.4L1596.5 1161.1L1614 1151.9L1631.4 1142.9L1648.6 1134L1665.5 1125.2L1682.3 1116.4L1698.8 1107.8L1715.2 1099.3L1731.4 1090.9L1747.4 1082.6L1763.2 1074.3L1778.8 1066.2L1794.2 1058.2L1809.5 1050.2"/>
<path d="M1599.3 1221.4L1580.1 1210.6L1561.1 1199.8L1542.4 1189.2L1523.9 1178.8L1505.6 1168.4L1487.6 1158.2L1469.8 1148.1L1452.2 1138.1L1434.8 1128.3L1417.6 1118.6L1400.6 1108.9L1383.8 1099.4L1367.2 1090L1350.8 1080.8L1334.6 1071.6L1318.6 1062.5L1302.7 1053.5L1287.1 1044.7L1271.6 1035.9L1256.3 1027.2"/>
<path d="M1448.6 1216.4L1467.8 1206.8L1486.7 1197.3L1505.4 1188L1523.9 1178.8L1542.1 1169.6L1560.2 1160.6L1578 1151.8L1595.6 1143L1612.9 1134.3L1630.1 1125.7L1647.1 1117.2L1663.8 1108.9L1680.4 1100.6L1696.8 1092.4L1713 1084.3L1729 1076.3L1744.8 1068.4L1760.4 1060.6L1775.9 1052.9L1791.2 1045.2"/>
<path d="M1617.5 1210.8L1598.3 1200.3L1579.4 1190L1560.6 1179.7L1542.1 1169.6L1523.9 1159.7L1505.8 1149.8L1488 1140.1L1470.4 1130.5L1453 1121L1435.8 1111.6L1418.8 1102.3L1402 1093.2L1385.4 1084.1L1369 1075.2L1352.8 1066.3L1336.8 1057.6L1320.9 1048.9L1305.2 1040.4L1289.7 1031.9L1274.4 1023.5"/>
<path d="M1430.4 1204.5L1449.5 1195.3L1468.5 1186.2L1487.2 1177.3L1505.6 1168.4L1523.9 1159.7L1541.9 1151L1559.7 1142.5L1577.3 1134.1L1594.7 1125.8L1611.9 1117.5L1628.8 1109.4L1645.6 1101.4L1662.2 1093.4L1678.6 1085.6L1694.8 1077.8L1710.8 1070.1L1726.6 1062.5L1742.3 1055L1757.8 1047.6L1773.1 1040.3"/>
<path d="M1635.5 1200.2L1616.3 1190.2L1597.4 1180.2L1578.7 1170.4L1560.2 1160.6L1541.9 1151L1523.9 1141.6L1506 1132.2L1488.4 1122.9L1471 1113.8L1453.8 1104.7L1436.8 1095.8L1420 1087L1403.4 1078.2L1387 1069.6L1370.8 1061.1L1354.7 1052.7L1338.9 1044.3L1323.2 1036.1L1307.7 1027.9L1292.3 1019.9"/>
<path d="M1412.3 1192.7L1431.5 1183.9L1450.4 1175.3L1469.1 1166.7L1487.6 1158.2L1505.8 1149.8L1523.9 1141.6L1541.7 1133.4L1559.3 1125.3L1576.7 1117.3L1593.8 1109.5L1610.8 1101.7L1627.6 1094L1644.2 1086.3L1660.6 1078.8L1676.8 1071.4L1692.8 1064L1708.7 1056.8L1724.3 1049.6L1739.8 1042.5L1755.2 1035.4"/>
<path d="M1653.3 1189.8L1634.1 1180.1L1615.2 1170.6L1596.5 1161.1L1578 1151.8L1559.7 1142.5L1541.7 1133.4L1523.8 1124.4L1506.2 1115.5L1488.8 1106.7L1471.6 1098L1454.6 1089.4L1437.8 1080.9L1421.2 1072.5L1404.8 1064.1L1388.5 1055.9L1372.5 1047.8L1356.6 1039.8L1340.9 1031.9L1325.4 1024L1310.1 1016.2"/>
<path d="M1394.5 1181.1L1413.7 1172.7L1432.6 1164.4L1451.3 1156.2L1469.8 1148.1L1488 1140.1L1506 1132.2L1523.8 1124.4L1541.4 1116.6L1558.8 1109L1576 1101.5L1593 1094L1609.8 1086.6L1626.4 1079.4L1642.8 1072.2L1659 1065L1675.1 1058L1690.9 1051L1706.6 1044.1L1722.1 1037.3L1737.4 1030.6"/>
<path d="M1670.8 1179.6L1651.7 1170.2L1632.7 1161L1614 1151.9L1595.6 1143L1577.3 1134.1L1559.3 1125.3L1541.4 1116.6L1523.8 1108.1L1506.4 1099.6L1489.2 1091.3L1472.2 1083L1455.4 1074.8L1438.8 1066.7L1422.4 1058.7L1406.1 1050.8L1390.1 1043L1374.2 1035.3L1358.5 1027.7L1342.9 1020.1L1327.6 1012.7"/>
<path d="M1376.9 1169.7L1396.1 1161.7L1415 1153.7L1433.7 1145.9L1452.2 1138.1L1470.4 1130.5L1488.4 1122.9L1506.2 1115.5L1523.8 1108.1L1541.2 1100.8L1558.4 1093.6L1575.4 1086.5L1592.2 1079.4L1608.8 1072.4L1625.2 1065.6L1641.5 1058.8L1657.5 1052L1673.4 1045.4L1689.1 1038.8L1704.6 1032.3L1719.9 1025.8"/>
<path d="M1688.2 1169.4L1669 1160.5L1650.1 1151.6L1631.4 1142.9L1612.9 1134.3L1594.7 1125.8L1576.7 1117.3L1558.8 1109L1541.2 1100.8L1523.8 1092.7L1506.6 1084.6L1489.6 1076.7L1472.8 1068.8L1456.2 1061.1L1439.7 1053.4L1423.5 1045.8L1407.4 1038.3L1391.5 1030.9L1375.8 1023.5L1360.3 1016.3L1344.9 1009.1"/>
<path d="M1359.6 1158.4L1378.7 1150.7L1397.6 1143.1L1416.3 1135.7L1434.8 1128.3L1453 1121L1471 1113.8L1488.8 1106.7L1506.4 1099.6L1523.8 1092.7L1541 1085.8L1558 1079L1574.8 1072.3L1591.4 1065.6L1607.8 1059L1624.1 1052.5L1640.1 1046.1L1656 1039.8L1671.7 1033.5L1687.2 1027.3L1702.6 1021.1"/>
<path d="M1705.3 1159.4L1686.2 1150.8L1667.3 1142.3L1648.6 1134L1630.1 1125.7L1611.9 1117.5L1593.8 1109.5L1576 1101.5L1558.4 1093.6L1541 1085.8L1523.8 1078.1L1506.8 1070.5L1490 1062.9L1473.4 1055.5L1456.9 1048.1L1440.7 1040.8L1424.6 1033.6L1408.7 1026.5L1393 1019.5L1377.4 1012.5L1362.1 1005.6"/>
<path d="M1342.4 1147.2L1361.6 1139.9L1380.5 1132.7L1399.1 1125.6L1417.6 1118.6L1435.8 1111.6L1453.8 1104.7L1471.6 1098L1489.2 1091.3L1506.6 1084.6L1523.8 1078.1L1540.8 1071.6L1557.6 1065.2L1574.2 1058.9L1590.6 1052.6L1606.9 1046.4L1622.9 1040.3L1638.8 1034.2L1654.5 1028.2L1670.1 1022.3L1685.4 1016.5"/>
<path d="M1722.2 1149.5L1703.1 1141.3L1684.2 1133.2L1665.5 1125.2L1647.1 1117.2L1628.8 1109.4L1610.8 1101.7L1593 1094L1575.4 1086.5L1558 1079L1540.8 1071.6L1523.8 1064.3L1507 1057.1L1490.4 1049.9L1473.9 1042.9L1457.7 1035.9L1441.6 1029L1425.7 1022.2L1410 1015.4L1394.4 1008.7L1379 1002.1"/>
<path d="M1325.5 1136.2L1344.6 1129.2L1363.5 1122.4L1382.1 1115.6L1400.6 1108.9L1418.8 1102.3L1436.8 1095.8L1454.6 1089.4L1472.2 1083L1489.6 1076.7L1506.8 1070.5L1523.8 1064.3L1540.6 1058.2L1557.2 1052.2L1573.6 1046.2L1589.9 1040.3L1606 1034.5L1621.9 1028.8L1637.6 1023.1L1653.1 1017.4L1668.5 1011.9"/>
<path d="M1738.9 1139.7L1719.8 1131.9L1700.9 1124.1L1682.3 1116.4L1663.8 1108.9L1645.6 1101.4L1627.6 1094L1609.8 1086.6L1592.2 1079.4L1574.8 1072.3L1557.6 1065.2L1540.6 1058.2L1523.8 1051.3L1507.2 1044.5L1490.7 1037.7L1474.5 1031L1458.4 1024.4L1442.5 1017.9L1426.7 1011.4L1411.2 1005L1395.8 998.7"/>
<path d="M1308.7 1125.2L1327.8 1118.7L1346.7 1112.2L1365.4 1105.8L1383.8 1099.4L1402 1093.2L1420 1087L1437.8 1080.9L1455.4 1074.8L1472.8 1068.8L1490 1062.9L1507 1057.1L1523.8 1051.3L1540.4 1045.6L1556.8 1039.9L1573.1 1034.3L1589.2 1028.8L1605.1 1023.3L1620.8 1017.9L1636.3 1012.6L1651.7 1007.3"/>
<path d="M1755.5 1130L1736.4 1122.5L1717.5 1115.1L1698.8 1107.8L1680.4 1100.6L1662.2 1093.4L1644.2 1086.3L1626.4 1079.4L1608.8 1072.4L1591.4 1065.6L1574.2 1058.9L1557.2 1052.2L1540.4 1045.6L1523.8 1039L1507.3 1032.6L1491.1 1026.2L1475 1019.9L1459.1 1013.6L1443.3 1007.5L1427.8 1001.3L1412.4 995.3"/>
<path d="M1292.2 1114.5L1311.3 1108.3L1330.2 1102.1L1348.8 1096L1367.2 1090L1385.4 1084.1L1403.4 1078.2L1421.2 1072.5L1438.8 1066.7L1456.2 1061.1L1473.4 1055.5L1490.4 1049.9L1507.2 1044.5L1523.8 1039L1540.2 1033.7L1556.5 1028.4L1572.5 1023.2L1588.4 1018L1604.2 1012.9L1619.7 1007.8L1635.1 1002.8"/>
<path d="M1771.8 1120.5L1752.7 1113.3L1733.8 1106.3L1715.2 1099.3L1696.8 1092.4L1678.6 1085.6L1660.6 1078.8L1642.8 1072.2L1625.2 1065.6L1607.8 1059L1590.6 1052.6L1573.6 1046.2L1556.8 1039.9L1540.2 1033.7L1523.8 1027.5L1507.5 1021.4L1491.4 1015.4L1475.5 1009.4L1459.8 1003.5L1444.2 997.7L1428.8 991.9"/>
<path d="M1275.9 1103.8L1294.9 1098L1313.8 1092.2L1332.4 1086.4L1350.8 1080.8L1369 1075.2L1387 1069.6L1404.8 1064.1L1422.4 1058.7L1439.7 1053.4L1456.9 1048.1L1473.9 1042.9L1490.7 1037.7L1507.3 1032.6L1523.8 1027.5L1540 1022.5L1556.1 1017.6L1572 1012.7L1587.7 1007.8L1603.3 1003.1L1618.7 998.3"/>
<path d="M1787.9 1111.1L1768.8 1104.3L1750 1097.5L1731.4 1090.9L1713 1084.3L1694.8 1077.8L1676.8 1071.4L1659 1065L1641.5 1058.8L1624.1 1052.5L1606.9 1046.4L1589.9 1040.3L1573.1 1034.3L1556.5 1028.4L1540 1022.5L1523.8 1016.7L1507.7 1011L1491.8 1005.3L1476 999.7L1460.5 994.1L1445 988.6"/>
<path d="M1259.7 1093.3L1278.8 1087.8L1297.6 1082.3L1316.2 1076.9L1334.6 1071.6L1352.8 1066.3L1370.8 1061.1L1388.5 1055.9L1406.1 1050.8L1423.5 1045.8L1440.7 1040.8L1457.7 1035.9L1474.5 1031L1491.1 1026.2L1507.5 1021.4L1523.8 1016.7L1539.8 1012.1L1555.7 1007.4L1571.5 1002.9L1587.1 998.4L1602.5 993.9"/>
<path d="M1803.8 1101.7L1784.8 1095.3L1766 1088.9L1747.4 1082.6L1729 1076.3L1710.8 1070.1L1692.8 1064L1675.1 1058L1657.5 1052L1640.1 1046.1L1622.9 1040.3L1606 1034.5L1589.2 1028.8L1572.5 1023.2L1556.1 1017.6L1539.8 1012.1L1523.8 1006.6L1507.8 1001.2L1492.1 995.8L1476.5 990.6L1461.1 985.3"/>
<path d="M1243.8 1082.9L1262.8 1077.7L1281.6 1072.6L1300.2 1067.5L1318.6 1062.5L1336.8 1057.6L1354.7 1052.7L1372.5 1047.8L1390.1 1043L1407.4 1038.3L1424.6 1033.6L1441.6 1029L1458.4 1024.4L1475 1019.9L1491.4 1015.4L1507.7 1011L1523.8 1006.6L1539.7 1002.3L1555.4 998L1571 993.7L1586.4 989.5"/>
<path d="M1819.6 1092.5L1800.6 1086.4L1781.8 1080.3L1763.2 1074.3L1744.8 1068.4L1726.6 1062.5L1708.7 1056.8L1690.9 1051L1673.4 1045.4L1656 1039.8L1638.8 1034.2L1621.9 1028.8L1605.1 1023.3L1588.4 1018L1572 1012.7L1555.7 1007.4L1539.7 1002.3L1523.8 997.1L1508 992.1L1492.4 987L1477 982.1"/>
<path d="M1228 1072.6L1247 1067.8L1265.8 1063L1284.4 1058.2L1302.7 1053.5L1320.9 1048.9L1338.9 1044.3L1356.6 1039.8L1374.2 1035.3L1391.5 1030.9L1408.7 1026.5L1425.7 1022.2L1442.5 1017.9L1459.1 1013.6L1475.5 1009.4L1491.8 1005.3L1507.8 1001.2L1523.8 997.1L1539.5 993.1L1555.1 989.1L1570.5 985.2"/>
<path d="M1835.2 1083.4L1816.2 1077.6L1797.4 1071.9L1778.8 1066.2L1760.4 1060.6L1742.3 1055L1724.3 1049.6L1706.6 1044.1L1689.1 1038.8L1671.7 1033.5L1654.5 1028.2L1637.6 1023.1L1620.8 1017.9L1604.2 1012.9L1587.7 1007.8L1571.5 1002.9L1555.4 998L1539.5 993.1L1523.8 988.3L1508.2 983.6L1492.8 978.8"/>
<path d="M1212.4 1062.5L1231.4 1057.9L1250.2 1053.5L1268.7 1049L1287.1 1044.7L1305.2 1040.4L1323.2 1036.1L1340.9 1031.9L1358.5 1027.7L1375.8 1023.5L1393 1019.5L1410 1015.4L1426.7 1011.4L1443.3 1007.5L1459.8 1003.5L1476 999.7L1492.1 995.8L1508 992.1L1523.8 988.3L1539.3 984.6L1554.7 980.9"/>
<path d="M1850.5 1074.4L1831.6 1068.9L1812.8 1063.5L1794.2 1058.2L1775.9 1052.9L1757.8 1047.6L1739.8 1042.5L1722.1 1037.3L1704.6 1032.3L1687.2 1027.3L1670.1 1022.3L1653.1 1017.4L1636.3 1012.6L1619.7 1007.8L1603.3 1003.1L1587.1 998.4L1571 993.7L1555.1 989.1L1539.3 984.6L1523.8 980.1L1508.3 975.7"/>
<path d="M1197 1052.4L1216 1048.2L1234.7 1044.1L1253.3 1040L1271.6 1035.9L1289.7 1031.9L1307.7 1027.9L1325.4 1024L1342.9 1020.1L1360.3 1016.3L1377.4 1012.5L1394.4 1008.7L1411.2 1005L1427.8 1001.3L1444.2 997.7L1460.5 994.1L1476.5 990.6L1492.4 987L1508.2 983.6L1523.8 980.1L1539.2 976.7"/>
<path d="M1865.7 1065.5L1846.8 1060.3L1828 1055.2L1809.5 1050.2L1791.2 1045.2L1773.1 1040.3L1755.2 1035.4L1737.4 1030.6L1719.9 1025.8L1702.6 1021.1L1685.4 1016.5L1668.5 1011.9L1651.7 1007.3L1635.1 1002.8L1618.7 998.3L1602.5 993.9L1586.4 989.5L1570.5 985.2L1554.7 980.9L1539.2 976.7L1523.8 972.5"/>
<path d="M1181.8 1042.5L1200.7 1038.6L1219.5 1034.8L1238 1031L1256.3 1027.2L1274.4 1023.5L1292.3 1019.9L1310.1 1016.2L1327.6 1012.7L1344.9 1009.1L1362.1 1005.6L1379 1002.1L1395.8 998.7L1412.4 995.3L1428.8 991.9L1445 988.6L1461.1 985.3L1477 982.1L1492.8 978.8L1508.3 975.7L1523.8 972.5"/>
</g>
<circle cx="1523.2" cy="1078" r="5.9" fill="#b80000" stroke="#4a0000" stroke-width="1"/>
<circle cx="1523.2" cy="1070.5" r="5.9" fill="#b80000" stroke="#4a0000" stroke-width="1"/>
<circle cx="1341.7" cy="1137.8" r="5.9" fill="#b80000" stroke="#4a0000" stroke-width="1"/>
<circle cx="1706" cy="1154.8" r="5.9" fill="#b80000" stroke="#4a0000" stroke-width="1"/>
<circle cx="1362" cy="999.2" r="7.8" fill="#fff" stroke="#7a0a0a" stroke-width="2.8"/>
<text x="1152.5" y="849.2" font-size="16" fill="#454545" text-anchor="middle" >14</text>
<text x="1155.5" y="919.7" font-size="16" fill="#454545" text-anchor="middle" >12</text>
<text x="1159.5" y="988.7" font-size="16" fill="#454545" text-anchor="middle" >10</text>
<text x="1166" y="1058.7" font-size="16" fill="#454545" text-anchor="middle" >8</text>
<text x="1170.5" y="1126.2" font-size="16" fill="#454545" text-anchor="middle" >6</text>
<text x="1173.5" y="1196.7" font-size="16" fill="#454545" text-anchor="middle" >4</text>
<text x="1179" y="1330" font-size="16" fill="#454545" text-anchor="middle" >3</text>
<text x="1255.3" y="1370.1" font-size="16" fill="#454545" text-anchor="middle" >2.5</text>
<text x="1343.7" y="1410.1" font-size="16" fill="#454545" text-anchor="middle" >2</text>
<text x="1420.6" y="1448.9" font-size="16" fill="#454545" text-anchor="middle" >1.5</text>
<text x="1510.7" y="1489" font-size="16" fill="#454545" text-anchor="middle" >1</text>
<text x="1548.8" y="1489" font-size="16" fill="#454545" text-anchor="middle" >100</text>
<text x="1630.2" y="1449.4" font-size="16" fill="#454545" text-anchor="middle" >150</text>
<text x="1712.8" y="1409.7" font-size="16" fill="#454545" text-anchor="middle" >200</text>
<text x="1795.4" y="1370.1" font-size="16" fill="#454545" text-anchor="middle" >250</text>
<text x="1878.6" y="1330" font-size="16" fill="#454545" text-anchor="middle" >300</text>
<text x="1101.3" y="1454" font-size="16.5" fill="#454545" textLength="259" lengthAdjust="spacingAndGlyphs" >C: Nozzle-to-substrate gap (mm)</text>
<text x="1655.2" y="1454" font-size="16.5" fill="#454545" textLength="323" lengthAdjust="spacingAndGlyphs" >B: Abrasive discharge proportion (g/min)</text>
<text x="1104" y="1184" font-size="15.5" fill="#454545" textLength="190" lengthAdjust="spacingAndGlyphs" transform="rotate(-90 1104 1184)" >Surface irregularity (Ra)</text>
<text x="1068.8" y="801.8" font-size="48" fill="#000" class="s" >(d)</text>
</g>
</svg>
</body></html>
